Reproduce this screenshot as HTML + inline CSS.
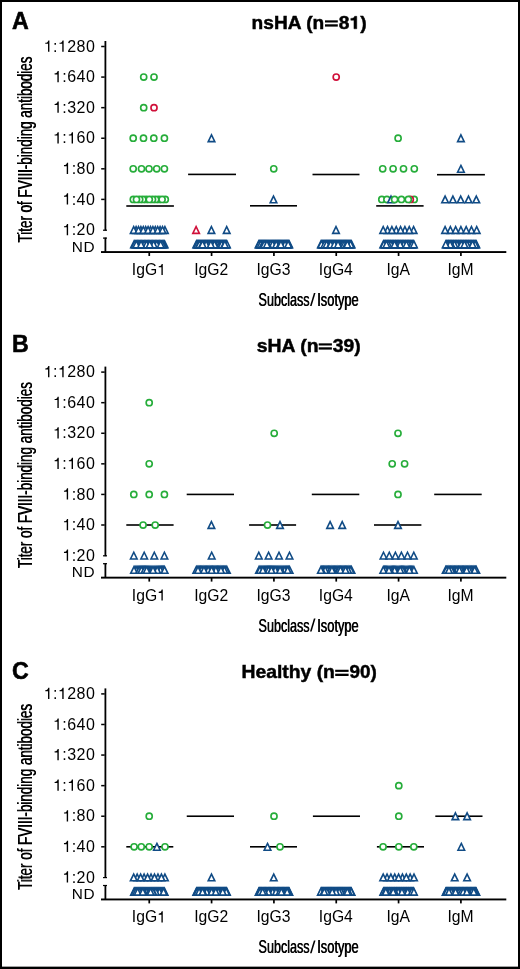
<!DOCTYPE html>
<html><head><meta charset="utf-8"><style>
html,body{margin:0;padding:0;background:#fff;}
body{width:520px;height:969px;overflow:hidden;}
svg{display:block;will-change:transform;}
text{fill:#000;}
</style></head><body>
<svg width="520" height="969" viewBox="0 0 520 969">
<rect x="0" y="0" width="520" height="969" fill="#fff"/>
<text x="11.9" y="29.1" font-family="Liberation Sans" font-weight="bold" font-size="23.2" stroke="#000" stroke-width="0.55">A</text>
<g transform="translate(251.62,28.80) scale(1.0874,1)"><text x="0.00" y="0" font-family="Liberation Sans" font-size="17.6" font-weight="bold" stroke="#000" stroke-width="0.45">nsHA (n</text></g>
<g transform="translate(338.82,28.80) scale(1.0911,1)"><text x="0.00" y="0" font-family="Liberation Sans" font-size="17.6" font-weight="bold" stroke="#000" stroke-width="0.45">8</text><path transform="translate(9.79,0) scale(0.0176,-0.0176)" d="M378 0L378 710L270 710C256 641 200 597 78 592L69 592L69 488L232 488L232 0Z" stroke="#000" stroke-width="25.6"/><text x="19.58" y="0" font-family="Liberation Sans" font-size="17.6" font-weight="bold" stroke="#000" stroke-width="0.45">)</text></g>
<rect x="325.00" y="20.35" width="12.80" height="2.15" fill="#000"/>
<rect x="325.00" y="24.30" width="12.80" height="2.3" fill="#000"/>
<text transform="translate(31.9,242.70) rotate(-90)" font-family="Liberation Sans" font-size="19.6" textLength="185.9" lengthAdjust="spacingAndGlyphs">Titer of FVIII-binding antibodies</text>
<text transform="translate(31.9,242.15) rotate(-90)" font-family="Liberation Sans" font-size="19.6" textLength="185.9" lengthAdjust="spacingAndGlyphs">Titer of FVIII-binding antibodies</text>
<g transform="translate(43.66,51.70) scale(1.0000,1)"><path transform="translate(0.00,0) scale(0.0160,-0.0160)" d="M273 0L273 491L101 491L101 557C230 567 261 594 290 703L359 703L359 0Z"/><text x="9.35" y="0" font-family="Liberation Sans" font-size="16" letter-spacing="0.45">:</text><path transform="translate(14.24,0) scale(0.0160,-0.0160)" d="M273 0L273 491L101 491L101 557C230 567 261 594 290 703L359 703L359 0Z"/><text x="23.59" y="0" font-family="Liberation Sans" font-size="16" letter-spacing="0.45">280</text></g>
<g transform="translate(53.01,82.28) scale(1.0000,1)"><path transform="translate(0.00,0) scale(0.0160,-0.0160)" d="M273 0L273 491L101 491L101 557C230 567 261 594 290 703L359 703L359 0Z"/><text x="9.35" y="0" font-family="Liberation Sans" font-size="16" letter-spacing="0.45">:640</text></g>
<g transform="translate(53.01,112.86) scale(1.0000,1)"><path transform="translate(0.00,0) scale(0.0160,-0.0160)" d="M273 0L273 491L101 491L101 557C230 567 261 594 290 703L359 703L359 0Z"/><text x="9.35" y="0" font-family="Liberation Sans" font-size="16" letter-spacing="0.45">:320</text></g>
<g transform="translate(53.01,143.44) scale(1.0000,1)"><path transform="translate(0.00,0) scale(0.0160,-0.0160)" d="M273 0L273 491L101 491L101 557C230 567 261 594 290 703L359 703L359 0Z"/><text x="9.35" y="0" font-family="Liberation Sans" font-size="16" letter-spacing="0.45">:</text><path transform="translate(14.24,0) scale(0.0160,-0.0160)" d="M273 0L273 491L101 491L101 557C230 567 261 594 290 703L359 703L359 0Z"/><text x="23.59" y="0" font-family="Liberation Sans" font-size="16" letter-spacing="0.45">60</text></g>
<g transform="translate(62.36,174.02) scale(1.0000,1)"><path transform="translate(0.00,0) scale(0.0160,-0.0160)" d="M273 0L273 491L101 491L101 557C230 567 261 594 290 703L359 703L359 0Z"/><text x="9.35" y="0" font-family="Liberation Sans" font-size="16" letter-spacing="0.45">:80</text></g>
<g transform="translate(62.36,204.60) scale(1.0000,1)"><path transform="translate(0.00,0) scale(0.0160,-0.0160)" d="M273 0L273 491L101 491L101 557C230 567 261 594 290 703L359 703L359 0Z"/><text x="9.35" y="0" font-family="Liberation Sans" font-size="16" letter-spacing="0.45">:40</text></g>
<g transform="translate(62.36,235.18) scale(1.0000,1)"><path transform="translate(0.00,0) scale(0.0160,-0.0160)" d="M273 0L273 491L101 491L101 557C230 567 261 594 290 703L359 703L359 0Z"/><text x="9.35" y="0" font-family="Liberation Sans" font-size="16" letter-spacing="0.45">:20</text></g>
<text x="95.2" y="251.80" text-anchor="end" font-family="Liberation Sans" font-size="15.4" letter-spacing="0.6">ND</text>
<rect x="104.5" y="41.00" width="1.8" height="189.60" fill="#000"/>
<rect x="103" y="229.60" width="4" height="1.2" fill="#000"/>
<rect x="104.5" y="237.60" width="1.8" height="14.40" fill="#000"/>
<rect x="103" y="237.50" width="4" height="1.2" fill="#000"/>
<rect x="101.2" y="45.75" width="3.5" height="1.5" fill="#000"/>
<rect x="101.2" y="76.33" width="3.5" height="1.5" fill="#000"/>
<rect x="101.2" y="106.91" width="3.5" height="1.5" fill="#000"/>
<rect x="101.2" y="137.49" width="3.5" height="1.5" fill="#000"/>
<rect x="101.2" y="168.07" width="3.5" height="1.5" fill="#000"/>
<rect x="101.2" y="198.65" width="3.5" height="1.5" fill="#000"/>
<rect x="101" y="251.10" width="405.30" height="1.9" fill="#000"/>
<rect x="148.40" y="252.00" width="1.7" height="4" fill="#000"/>
<rect x="210.73" y="252.00" width="1.7" height="4" fill="#000"/>
<rect x="273.06" y="252.00" width="1.7" height="4" fill="#000"/>
<rect x="335.39" y="252.00" width="1.7" height="4" fill="#000"/>
<rect x="397.72" y="252.00" width="1.7" height="4" fill="#000"/>
<rect x="460.05" y="252.00" width="1.7" height="4" fill="#000"/>
<g transform="translate(131.83,275.00) scale(1.0000,1)"><text x="0.00" y="0" font-family="Liberation Sans" font-size="15.7">IgG</text><path transform="translate(25.31,0) scale(0.0157,-0.0157)" d="M273 0L273 491L101 491L101 557C230 567 261 594 290 703L359 703L359 0Z"/></g>
<g transform="translate(194.16,275.00) scale(1.0000,1)"><text x="0.00" y="0" font-family="Liberation Sans" font-size="15.7">IgG2</text></g>
<g transform="translate(256.49,275.00) scale(1.0000,1)"><text x="0.00" y="0" font-family="Liberation Sans" font-size="15.7">IgG3</text></g>
<g transform="translate(318.82,275.00) scale(1.0000,1)"><text x="0.00" y="0" font-family="Liberation Sans" font-size="15.7">IgG4</text></g>
<g transform="translate(386.39,275.00) scale(1.0000,1)"><text x="0.00" y="0" font-family="Liberation Sans" font-size="15.7">IgA</text></g>
<g transform="translate(447.41,275.00) scale(1.0000,1)"><text x="0.00" y="0" font-family="Liberation Sans" font-size="15.7">IgM</text></g>
<text x="258.30" y="305.90" font-family="Liberation Sans" font-size="18.6" textLength="51.0" lengthAdjust="spacingAndGlyphs">Subclass</text>
<text x="317.00" y="305.90" font-family="Liberation Sans" font-size="18.6" textLength="41.4" lengthAdjust="spacingAndGlyphs">Isotype</text>
<text x="258.85" y="305.90" font-family="Liberation Sans" font-size="18.6" textLength="51.0" lengthAdjust="spacingAndGlyphs">Subclass</text>
<text x="317.55" y="305.90" font-family="Liberation Sans" font-size="18.6" textLength="41.4" lengthAdjust="spacingAndGlyphs">Isotype</text>
<path d="M310.0 305.90L311.6 305.90L315.5 293.00L313.9 293.00Z" fill="#000"/>
<circle cx="143.70" cy="77.08" r="3.05" fill="#fff" stroke="#26ad3a" stroke-width="1.65"/>
<circle cx="154.00" cy="77.08" r="3.05" fill="#fff" stroke="#26ad3a" stroke-width="1.65"/>
<circle cx="143.70" cy="107.66" r="3.05" fill="#fff" stroke="#26ad3a" stroke-width="1.65"/>
<circle cx="154.00" cy="107.66" r="3.05" fill="#fff" stroke="#d0103a" stroke-width="1.65"/>
<circle cx="133.20" cy="138.24" r="3.05" fill="#fff" stroke="#26ad3a" stroke-width="1.65"/>
<circle cx="143.50" cy="138.24" r="3.05" fill="#fff" stroke="#26ad3a" stroke-width="1.65"/>
<circle cx="153.80" cy="138.24" r="3.05" fill="#fff" stroke="#26ad3a" stroke-width="1.65"/>
<circle cx="164.40" cy="138.24" r="3.05" fill="#fff" stroke="#26ad3a" stroke-width="1.65"/>
<circle cx="133.20" cy="168.82" r="3.05" fill="#fff" stroke="#26ad3a" stroke-width="1.65"/>
<circle cx="141.50" cy="168.82" r="3.05" fill="#fff" stroke="#26ad3a" stroke-width="1.65"/>
<circle cx="149.00" cy="168.82" r="3.05" fill="#fff" stroke="#26ad3a" stroke-width="1.65"/>
<circle cx="156.70" cy="168.82" r="3.05" fill="#fff" stroke="#26ad3a" stroke-width="1.65"/>
<circle cx="164.40" cy="168.82" r="3.05" fill="#fff" stroke="#26ad3a" stroke-width="1.65"/>
<circle cx="165.30" cy="199.40" r="3.05" fill="#fff" stroke="#26ad3a" stroke-width="1.65"/>
<circle cx="158.90" cy="199.40" r="3.05" fill="#fff" stroke="#26ad3a" stroke-width="1.65"/>
<circle cx="155.70" cy="199.40" r="3.05" fill="#fff" stroke="#26ad3a" stroke-width="1.65"/>
<circle cx="152.50" cy="199.40" r="3.05" fill="#fff" stroke="#26ad3a" stroke-width="1.65"/>
<circle cx="146.10" cy="199.40" r="3.05" fill="#fff" stroke="#26ad3a" stroke-width="1.65"/>
<circle cx="142.90" cy="199.40" r="3.05" fill="#fff" stroke="#26ad3a" stroke-width="1.65"/>
<circle cx="133.30" cy="199.40" r="3.05" fill="#fff" stroke="#26ad3a" stroke-width="1.65"/>
<circle cx="139.70" cy="199.40" r="3.05" fill="#fff" stroke="#26ad3a" stroke-width="1.65"/>
<circle cx="136.50" cy="199.40" r="3.05" fill="#fff" stroke="#26ad3a" stroke-width="1.65"/>
<circle cx="149.30" cy="199.40" r="3.05" fill="#fff" stroke="#26ad3a" stroke-width="1.65"/>
<circle cx="162.10" cy="199.40" r="3.05" fill="#fff" stroke="#26ad3a" stroke-width="1.65"/>
<rect x="126.30" y="205.20" width="47.60" height="1.6" fill="#000"/>
<path d="M136.10 226.63L139.40 233.38L132.80 233.38Z" fill="#fff" stroke="#104b85" stroke-width="1.6" stroke-linejoin="miter"/>
<path d="M140.90 226.63L144.20 233.38L137.60 233.38Z" fill="#fff" stroke="#104b85" stroke-width="1.6" stroke-linejoin="miter"/>
<path d="M145.70 226.63L149.00 233.38L142.40 233.38Z" fill="#fff" stroke="#104b85" stroke-width="1.6" stroke-linejoin="miter"/>
<path d="M150.50 226.63L153.80 233.38L147.20 233.38Z" fill="#fff" stroke="#104b85" stroke-width="1.6" stroke-linejoin="miter"/>
<path d="M155.30 226.63L158.60 233.38L152.00 233.38Z" fill="#fff" stroke="#104b85" stroke-width="1.6" stroke-linejoin="miter"/>
<path d="M160.10 226.63L163.40 233.38L156.80 233.38Z" fill="#fff" stroke="#104b85" stroke-width="1.6" stroke-linejoin="miter"/>
<path d="M164.90 226.63L168.20 233.38L161.60 233.38Z" fill="#fff" stroke="#104b85" stroke-width="1.6" stroke-linejoin="miter"/>
<path d="M133.70 226.63L137.00 233.38L130.40 233.38Z" fill="#fff" stroke="#104b85" stroke-width="1.6" stroke-linejoin="miter"/>
<path d="M138.50 226.63L141.80 233.38L135.20 233.38Z" fill="#fff" stroke="#104b85" stroke-width="1.6" stroke-linejoin="miter"/>
<path d="M143.30 226.63L146.60 233.38L140.00 233.38Z" fill="#fff" stroke="#104b85" stroke-width="1.6" stroke-linejoin="miter"/>
<path d="M148.10 226.63L151.40 233.38L144.80 233.38Z" fill="#fff" stroke="#104b85" stroke-width="1.6" stroke-linejoin="miter"/>
<path d="M152.90 226.63L156.20 233.38L149.60 233.38Z" fill="#fff" stroke="#104b85" stroke-width="1.6" stroke-linejoin="miter"/>
<path d="M157.70 226.63L161.00 233.38L154.40 233.38Z" fill="#fff" stroke="#104b85" stroke-width="1.6" stroke-linejoin="miter"/>
<path d="M162.50 226.63L165.80 233.38L159.20 233.38Z" fill="#fff" stroke="#104b85" stroke-width="1.6" stroke-linejoin="miter"/>
<path d="M137.92 240.95L141.22 247.70L134.62 247.70Z" fill="#fff" stroke="#104b85" stroke-width="1.6" stroke-linejoin="miter"/>
<path d="M161.46 240.95L164.76 247.70L158.16 247.70Z" fill="#fff" stroke="#104b85" stroke-width="1.6" stroke-linejoin="miter"/>
<path d="M143.42 240.95L146.72 247.70L140.12 247.70Z" fill="#fff" stroke="#104b85" stroke-width="1.6" stroke-linejoin="miter"/>
<path d="M148.91 240.95L152.21 247.70L145.61 247.70Z" fill="#fff" stroke="#104b85" stroke-width="1.6" stroke-linejoin="miter"/>
<path d="M145.77 240.95L149.07 247.70L142.47 247.70Z" fill="#fff" stroke="#104b85" stroke-width="1.6" stroke-linejoin="miter"/>
<path d="M141.85 240.95L145.15 247.70L138.55 247.70Z" fill="#fff" stroke="#104b85" stroke-width="1.6" stroke-linejoin="miter"/>
<path d="M157.54 240.95L160.84 247.70L154.24 247.70Z" fill="#fff" stroke="#104b85" stroke-width="1.6" stroke-linejoin="miter"/>
<path d="M150.48 240.95L153.78 247.70L147.18 247.70Z" fill="#fff" stroke="#104b85" stroke-width="1.6" stroke-linejoin="miter"/>
<path d="M140.28 240.95L143.58 247.70L136.98 247.70Z" fill="#fff" stroke="#104b85" stroke-width="1.6" stroke-linejoin="miter"/>
<path d="M142.63 240.95L145.93 247.70L139.33 247.70Z" fill="#fff" stroke="#104b85" stroke-width="1.6" stroke-linejoin="miter"/>
<path d="M164.60 240.95L167.90 247.70L161.30 247.70Z" fill="#fff" stroke="#104b85" stroke-width="1.6" stroke-linejoin="miter"/>
<path d="M134.00 240.95L137.30 247.70L130.70 247.70Z" fill="#fff" stroke="#104b85" stroke-width="1.6" stroke-linejoin="miter"/>
<path d="M155.97 240.95L159.27 247.70L152.67 247.70Z" fill="#fff" stroke="#104b85" stroke-width="1.6" stroke-linejoin="miter"/>
<path d="M144.98 240.95L148.28 247.70L141.68 247.70Z" fill="#fff" stroke="#104b85" stroke-width="1.6" stroke-linejoin="miter"/>
<path d="M163.82 240.95L167.12 247.70L160.52 247.70Z" fill="#fff" stroke="#104b85" stroke-width="1.6" stroke-linejoin="miter"/>
<path d="M148.12 240.95L151.42 247.70L144.82 247.70Z" fill="#fff" stroke="#104b85" stroke-width="1.6" stroke-linejoin="miter"/>
<path d="M151.26 240.95L154.56 247.70L147.96 247.70Z" fill="#fff" stroke="#104b85" stroke-width="1.6" stroke-linejoin="miter"/>
<path d="M158.32 240.95L161.62 247.70L155.02 247.70Z" fill="#fff" stroke="#104b85" stroke-width="1.6" stroke-linejoin="miter"/>
<path d="M155.18 240.95L158.48 247.70L151.88 247.70Z" fill="#fff" stroke="#104b85" stroke-width="1.6" stroke-linejoin="miter"/>
<path d="M152.83 240.95L156.13 247.70L149.53 247.70Z" fill="#fff" stroke="#104b85" stroke-width="1.6" stroke-linejoin="miter"/>
<path d="M147.34 240.95L150.64 247.70L144.04 247.70Z" fill="#fff" stroke="#104b85" stroke-width="1.6" stroke-linejoin="miter"/>
<path d="M159.11 240.95L162.41 247.70L155.81 247.70Z" fill="#fff" stroke="#104b85" stroke-width="1.6" stroke-linejoin="miter"/>
<path d="M139.49 240.95L142.79 247.70L136.19 247.70Z" fill="#fff" stroke="#104b85" stroke-width="1.6" stroke-linejoin="miter"/>
<path d="M154.40 240.95L157.70 247.70L151.10 247.70Z" fill="#fff" stroke="#104b85" stroke-width="1.6" stroke-linejoin="miter"/>
<path d="M163.03 240.95L166.33 247.70L159.73 247.70Z" fill="#fff" stroke="#104b85" stroke-width="1.6" stroke-linejoin="miter"/>
<path d="M144.20 240.95L147.50 247.70L140.90 247.70Z" fill="#fff" stroke="#104b85" stroke-width="1.6" stroke-linejoin="miter"/>
<path d="M135.57 240.95L138.87 247.70L132.27 247.70Z" fill="#fff" stroke="#104b85" stroke-width="1.6" stroke-linejoin="miter"/>
<path d="M134.78 240.95L138.08 247.70L131.48 247.70Z" fill="#fff" stroke="#104b85" stroke-width="1.6" stroke-linejoin="miter"/>
<path d="M159.89 240.95L163.19 247.70L156.59 247.70Z" fill="#fff" stroke="#104b85" stroke-width="1.6" stroke-linejoin="miter"/>
<path d="M146.55 240.95L149.85 247.70L143.25 247.70Z" fill="#fff" stroke="#104b85" stroke-width="1.6" stroke-linejoin="miter"/>
<path d="M156.75 240.95L160.05 247.70L153.45 247.70Z" fill="#fff" stroke="#104b85" stroke-width="1.6" stroke-linejoin="miter"/>
<path d="M162.25 240.95L165.55 247.70L158.95 247.70Z" fill="#fff" stroke="#104b85" stroke-width="1.6" stroke-linejoin="miter"/>
<path d="M152.05 240.95L155.35 247.70L148.75 247.70Z" fill="#fff" stroke="#104b85" stroke-width="1.6" stroke-linejoin="miter"/>
<path d="M138.71 240.95L142.01 247.70L135.41 247.70Z" fill="#fff" stroke="#104b85" stroke-width="1.6" stroke-linejoin="miter"/>
<path d="M160.68 240.95L163.98 247.70L157.38 247.70Z" fill="#fff" stroke="#104b85" stroke-width="1.6" stroke-linejoin="miter"/>
<path d="M137.14 240.95L140.44 247.70L133.84 247.70Z" fill="#fff" stroke="#104b85" stroke-width="1.6" stroke-linejoin="miter"/>
<path d="M136.35 240.95L139.65 247.70L133.05 247.70Z" fill="#fff" stroke="#104b85" stroke-width="1.6" stroke-linejoin="miter"/>
<path d="M153.62 240.95L156.92 247.70L150.32 247.70Z" fill="#fff" stroke="#104b85" stroke-width="1.6" stroke-linejoin="miter"/>
<path d="M141.06 240.95L144.36 247.70L137.76 247.70Z" fill="#fff" stroke="#104b85" stroke-width="1.6" stroke-linejoin="miter"/>
<path d="M149.69 240.95L152.99 247.70L146.39 247.70Z" fill="#fff" stroke="#104b85" stroke-width="1.6" stroke-linejoin="miter"/>
<path d="M211.50 134.89L214.80 141.64L208.20 141.64Z" fill="#fff" stroke="#104b85" stroke-width="1.6" stroke-linejoin="miter"/>
<rect x="188.10" y="173.60" width="47.90" height="1.6" fill="#000"/>
<path d="M196.10 226.63L199.40 233.38L192.80 233.38Z" fill="#fff" stroke="#d0103a" stroke-width="1.6" stroke-linejoin="miter"/>
<path d="M211.40 226.63L214.70 233.38L208.10 233.38Z" fill="#fff" stroke="#104b85" stroke-width="1.6" stroke-linejoin="miter"/>
<path d="M226.70 226.63L230.00 233.38L223.40 233.38Z" fill="#fff" stroke="#104b85" stroke-width="1.6" stroke-linejoin="miter"/>
<path d="M207.19 240.95L210.49 247.70L203.89 247.70Z" fill="#fff" stroke="#104b85" stroke-width="1.6" stroke-linejoin="miter"/>
<path d="M212.38 240.95L215.68 247.70L209.08 247.70Z" fill="#fff" stroke="#104b85" stroke-width="1.6" stroke-linejoin="miter"/>
<path d="M206.67 240.95L209.97 247.70L203.37 247.70Z" fill="#fff" stroke="#104b85" stroke-width="1.6" stroke-linejoin="miter"/>
<path d="M219.12 240.95L222.42 247.70L215.82 247.70Z" fill="#fff" stroke="#104b85" stroke-width="1.6" stroke-linejoin="miter"/>
<path d="M200.45 240.95L203.75 247.70L197.15 247.70Z" fill="#fff" stroke="#104b85" stroke-width="1.6" stroke-linejoin="miter"/>
<path d="M222.75 240.95L226.05 247.70L219.45 247.70Z" fill="#fff" stroke="#104b85" stroke-width="1.6" stroke-linejoin="miter"/>
<path d="M219.64 240.95L222.94 247.70L216.34 247.70Z" fill="#fff" stroke="#104b85" stroke-width="1.6" stroke-linejoin="miter"/>
<path d="M222.23 240.95L225.53 247.70L218.93 247.70Z" fill="#fff" stroke="#104b85" stroke-width="1.6" stroke-linejoin="miter"/>
<path d="M209.78 240.95L213.08 247.70L206.48 247.70Z" fill="#fff" stroke="#104b85" stroke-width="1.6" stroke-linejoin="miter"/>
<path d="M221.19 240.95L224.49 247.70L217.89 247.70Z" fill="#fff" stroke="#104b85" stroke-width="1.6" stroke-linejoin="miter"/>
<path d="M203.04 240.95L206.34 247.70L199.74 247.70Z" fill="#fff" stroke="#104b85" stroke-width="1.6" stroke-linejoin="miter"/>
<path d="M205.12 240.95L208.42 247.70L201.82 247.70Z" fill="#fff" stroke="#104b85" stroke-width="1.6" stroke-linejoin="miter"/>
<path d="M220.68 240.95L223.98 247.70L217.38 247.70Z" fill="#fff" stroke="#104b85" stroke-width="1.6" stroke-linejoin="miter"/>
<path d="M207.71 240.95L211.01 247.70L204.41 247.70Z" fill="#fff" stroke="#104b85" stroke-width="1.6" stroke-linejoin="miter"/>
<path d="M214.97 240.95L218.27 247.70L211.67 247.70Z" fill="#fff" stroke="#104b85" stroke-width="1.6" stroke-linejoin="miter"/>
<path d="M204.08 240.95L207.38 247.70L200.78 247.70Z" fill="#fff" stroke="#104b85" stroke-width="1.6" stroke-linejoin="miter"/>
<path d="M220.16 240.95L223.46 247.70L216.86 247.70Z" fill="#fff" stroke="#104b85" stroke-width="1.6" stroke-linejoin="miter"/>
<path d="M210.30 240.95L213.60 247.70L207.00 247.70Z" fill="#fff" stroke="#104b85" stroke-width="1.6" stroke-linejoin="miter"/>
<path d="M204.60 240.95L207.90 247.70L201.30 247.70Z" fill="#fff" stroke="#104b85" stroke-width="1.6" stroke-linejoin="miter"/>
<path d="M225.34 240.95L228.64 247.70L222.04 247.70Z" fill="#fff" stroke="#104b85" stroke-width="1.6" stroke-linejoin="miter"/>
<path d="M205.64 240.95L208.94 247.70L202.34 247.70Z" fill="#fff" stroke="#104b85" stroke-width="1.6" stroke-linejoin="miter"/>
<path d="M208.23 240.95L211.53 247.70L204.93 247.70Z" fill="#fff" stroke="#104b85" stroke-width="1.6" stroke-linejoin="miter"/>
<path d="M216.01 240.95L219.31 247.70L212.71 247.70Z" fill="#fff" stroke="#104b85" stroke-width="1.6" stroke-linejoin="miter"/>
<path d="M203.56 240.95L206.86 247.70L200.26 247.70Z" fill="#fff" stroke="#104b85" stroke-width="1.6" stroke-linejoin="miter"/>
<path d="M208.75 240.95L212.05 247.70L205.45 247.70Z" fill="#fff" stroke="#104b85" stroke-width="1.6" stroke-linejoin="miter"/>
<path d="M213.42 240.95L216.72 247.70L210.12 247.70Z" fill="#fff" stroke="#104b85" stroke-width="1.6" stroke-linejoin="miter"/>
<path d="M217.56 240.95L220.86 247.70L214.26 247.70Z" fill="#fff" stroke="#104b85" stroke-width="1.6" stroke-linejoin="miter"/>
<path d="M199.93 240.95L203.23 247.70L196.63 247.70Z" fill="#fff" stroke="#104b85" stroke-width="1.6" stroke-linejoin="miter"/>
<path d="M225.86 240.95L229.16 247.70L222.56 247.70Z" fill="#fff" stroke="#104b85" stroke-width="1.6" stroke-linejoin="miter"/>
<path d="M218.60 240.95L221.90 247.70L215.30 247.70Z" fill="#fff" stroke="#104b85" stroke-width="1.6" stroke-linejoin="miter"/>
<path d="M196.82 240.95L200.12 247.70L193.52 247.70Z" fill="#fff" stroke="#104b85" stroke-width="1.6" stroke-linejoin="miter"/>
<path d="M197.86 240.95L201.16 247.70L194.56 247.70Z" fill="#fff" stroke="#104b85" stroke-width="1.6" stroke-linejoin="miter"/>
<path d="M198.37 240.95L201.67 247.70L195.07 247.70Z" fill="#fff" stroke="#104b85" stroke-width="1.6" stroke-linejoin="miter"/>
<path d="M196.30 240.95L199.60 247.70L193.00 247.70Z" fill="#fff" stroke="#104b85" stroke-width="1.6" stroke-linejoin="miter"/>
<path d="M201.49 240.95L204.79 247.70L198.19 247.70Z" fill="#fff" stroke="#104b85" stroke-width="1.6" stroke-linejoin="miter"/>
<path d="M218.08 240.95L221.38 247.70L214.78 247.70Z" fill="#fff" stroke="#104b85" stroke-width="1.6" stroke-linejoin="miter"/>
<path d="M209.27 240.95L212.57 247.70L205.97 247.70Z" fill="#fff" stroke="#104b85" stroke-width="1.6" stroke-linejoin="miter"/>
<path d="M197.34 240.95L200.64 247.70L194.04 247.70Z" fill="#fff" stroke="#104b85" stroke-width="1.6" stroke-linejoin="miter"/>
<path d="M213.93 240.95L217.23 247.70L210.63 247.70Z" fill="#fff" stroke="#104b85" stroke-width="1.6" stroke-linejoin="miter"/>
<path d="M198.89 240.95L202.19 247.70L195.59 247.70Z" fill="#fff" stroke="#104b85" stroke-width="1.6" stroke-linejoin="miter"/>
<path d="M200.97 240.95L204.27 247.70L197.67 247.70Z" fill="#fff" stroke="#104b85" stroke-width="1.6" stroke-linejoin="miter"/>
<path d="M206.15 240.95L209.45 247.70L202.85 247.70Z" fill="#fff" stroke="#104b85" stroke-width="1.6" stroke-linejoin="miter"/>
<path d="M223.79 240.95L227.09 247.70L220.49 247.70Z" fill="#fff" stroke="#104b85" stroke-width="1.6" stroke-linejoin="miter"/>
<path d="M199.41 240.95L202.71 247.70L196.11 247.70Z" fill="#fff" stroke="#104b85" stroke-width="1.6" stroke-linejoin="miter"/>
<path d="M226.38 240.95L229.68 247.70L223.08 247.70Z" fill="#fff" stroke="#104b85" stroke-width="1.6" stroke-linejoin="miter"/>
<path d="M216.53 240.95L219.83 247.70L213.23 247.70Z" fill="#fff" stroke="#104b85" stroke-width="1.6" stroke-linejoin="miter"/>
<path d="M217.05 240.95L220.35 247.70L213.75 247.70Z" fill="#fff" stroke="#104b85" stroke-width="1.6" stroke-linejoin="miter"/>
<path d="M211.86 240.95L215.16 247.70L208.56 247.70Z" fill="#fff" stroke="#104b85" stroke-width="1.6" stroke-linejoin="miter"/>
<path d="M223.27 240.95L226.57 247.70L219.97 247.70Z" fill="#fff" stroke="#104b85" stroke-width="1.6" stroke-linejoin="miter"/>
<path d="M202.01 240.95L205.31 247.70L198.71 247.70Z" fill="#fff" stroke="#104b85" stroke-width="1.6" stroke-linejoin="miter"/>
<path d="M202.52 240.95L205.82 247.70L199.22 247.70Z" fill="#fff" stroke="#104b85" stroke-width="1.6" stroke-linejoin="miter"/>
<path d="M215.49 240.95L218.79 247.70L212.19 247.70Z" fill="#fff" stroke="#104b85" stroke-width="1.6" stroke-linejoin="miter"/>
<path d="M212.90 240.95L216.20 247.70L209.60 247.70Z" fill="#fff" stroke="#104b85" stroke-width="1.6" stroke-linejoin="miter"/>
<path d="M226.90 240.95L230.20 247.70L223.60 247.70Z" fill="#fff" stroke="#104b85" stroke-width="1.6" stroke-linejoin="miter"/>
<path d="M211.34 240.95L214.64 247.70L208.04 247.70Z" fill="#fff" stroke="#104b85" stroke-width="1.6" stroke-linejoin="miter"/>
<path d="M221.71 240.95L225.01 247.70L218.41 247.70Z" fill="#fff" stroke="#104b85" stroke-width="1.6" stroke-linejoin="miter"/>
<path d="M224.31 240.95L227.61 247.70L221.01 247.70Z" fill="#fff" stroke="#104b85" stroke-width="1.6" stroke-linejoin="miter"/>
<path d="M214.45 240.95L217.75 247.70L211.15 247.70Z" fill="#fff" stroke="#104b85" stroke-width="1.6" stroke-linejoin="miter"/>
<path d="M224.83 240.95L228.13 247.70L221.53 247.70Z" fill="#fff" stroke="#104b85" stroke-width="1.6" stroke-linejoin="miter"/>
<path d="M210.82 240.95L214.12 247.70L207.52 247.70Z" fill="#fff" stroke="#104b85" stroke-width="1.6" stroke-linejoin="miter"/>
<circle cx="273.75" cy="168.82" r="3.05" fill="#fff" stroke="#26ad3a" stroke-width="1.65"/>
<path d="M273.50 196.05L276.80 202.80L270.20 202.80Z" fill="#fff" stroke="#104b85" stroke-width="1.6" stroke-linejoin="miter"/>
<rect x="250.00" y="205.00" width="47.00" height="1.6" fill="#000"/>
<path d="M283.49 240.95L286.79 247.70L280.19 247.70Z" fill="#fff" stroke="#104b85" stroke-width="1.6" stroke-linejoin="miter"/>
<path d="M277.27 240.95L280.57 247.70L273.97 247.70Z" fill="#fff" stroke="#104b85" stroke-width="1.6" stroke-linejoin="miter"/>
<path d="M274.16 240.95L277.46 247.70L270.86 247.70Z" fill="#fff" stroke="#104b85" stroke-width="1.6" stroke-linejoin="miter"/>
<path d="M278.83 240.95L282.13 247.70L275.53 247.70Z" fill="#fff" stroke="#104b85" stroke-width="1.6" stroke-linejoin="miter"/>
<path d="M261.71 240.95L265.01 247.70L258.41 247.70Z" fill="#fff" stroke="#104b85" stroke-width="1.6" stroke-linejoin="miter"/>
<path d="M275.72 240.95L279.02 247.70L272.42 247.70Z" fill="#fff" stroke="#104b85" stroke-width="1.6" stroke-linejoin="miter"/>
<path d="M275.20 240.95L278.50 247.70L271.90 247.70Z" fill="#fff" stroke="#104b85" stroke-width="1.6" stroke-linejoin="miter"/>
<path d="M259.64 240.95L262.94 247.70L256.34 247.70Z" fill="#fff" stroke="#104b85" stroke-width="1.6" stroke-linejoin="miter"/>
<path d="M272.08 240.95L275.38 247.70L268.78 247.70Z" fill="#fff" stroke="#104b85" stroke-width="1.6" stroke-linejoin="miter"/>
<path d="M271.05 240.95L274.35 247.70L267.75 247.70Z" fill="#fff" stroke="#104b85" stroke-width="1.6" stroke-linejoin="miter"/>
<path d="M274.68 240.95L277.98 247.70L271.38 247.70Z" fill="#fff" stroke="#104b85" stroke-width="1.6" stroke-linejoin="miter"/>
<path d="M270.01 240.95L273.31 247.70L266.71 247.70Z" fill="#fff" stroke="#104b85" stroke-width="1.6" stroke-linejoin="miter"/>
<path d="M264.82 240.95L268.12 247.70L261.52 247.70Z" fill="#fff" stroke="#104b85" stroke-width="1.6" stroke-linejoin="miter"/>
<path d="M284.53 240.95L287.83 247.70L281.23 247.70Z" fill="#fff" stroke="#104b85" stroke-width="1.6" stroke-linejoin="miter"/>
<path d="M269.49 240.95L272.79 247.70L266.19 247.70Z" fill="#fff" stroke="#104b85" stroke-width="1.6" stroke-linejoin="miter"/>
<path d="M268.45 240.95L271.75 247.70L265.15 247.70Z" fill="#fff" stroke="#104b85" stroke-width="1.6" stroke-linejoin="miter"/>
<path d="M260.16 240.95L263.46 247.70L256.86 247.70Z" fill="#fff" stroke="#104b85" stroke-width="1.6" stroke-linejoin="miter"/>
<path d="M263.79 240.95L267.09 247.70L260.49 247.70Z" fill="#fff" stroke="#104b85" stroke-width="1.6" stroke-linejoin="miter"/>
<path d="M268.97 240.95L272.27 247.70L265.67 247.70Z" fill="#fff" stroke="#104b85" stroke-width="1.6" stroke-linejoin="miter"/>
<path d="M278.31 240.95L281.61 247.70L275.01 247.70Z" fill="#fff" stroke="#104b85" stroke-width="1.6" stroke-linejoin="miter"/>
<path d="M273.64 240.95L276.94 247.70L270.34 247.70Z" fill="#fff" stroke="#104b85" stroke-width="1.6" stroke-linejoin="miter"/>
<path d="M279.35 240.95L282.65 247.70L276.05 247.70Z" fill="#fff" stroke="#104b85" stroke-width="1.6" stroke-linejoin="miter"/>
<path d="M276.75 240.95L280.05 247.70L273.45 247.70Z" fill="#fff" stroke="#104b85" stroke-width="1.6" stroke-linejoin="miter"/>
<path d="M266.38 240.95L269.68 247.70L263.08 247.70Z" fill="#fff" stroke="#104b85" stroke-width="1.6" stroke-linejoin="miter"/>
<path d="M262.23 240.95L265.53 247.70L258.93 247.70Z" fill="#fff" stroke="#104b85" stroke-width="1.6" stroke-linejoin="miter"/>
<path d="M281.94 240.95L285.24 247.70L278.64 247.70Z" fill="#fff" stroke="#104b85" stroke-width="1.6" stroke-linejoin="miter"/>
<path d="M277.79 240.95L281.09 247.70L274.49 247.70Z" fill="#fff" stroke="#104b85" stroke-width="1.6" stroke-linejoin="miter"/>
<path d="M271.57 240.95L274.87 247.70L268.27 247.70Z" fill="#fff" stroke="#104b85" stroke-width="1.6" stroke-linejoin="miter"/>
<path d="M287.64 240.95L290.94 247.70L284.34 247.70Z" fill="#fff" stroke="#104b85" stroke-width="1.6" stroke-linejoin="miter"/>
<path d="M282.98 240.95L286.28 247.70L279.68 247.70Z" fill="#fff" stroke="#104b85" stroke-width="1.6" stroke-linejoin="miter"/>
<path d="M270.53 240.95L273.83 247.70L267.23 247.70Z" fill="#fff" stroke="#104b85" stroke-width="1.6" stroke-linejoin="miter"/>
<path d="M273.12 240.95L276.42 247.70L269.82 247.70Z" fill="#fff" stroke="#104b85" stroke-width="1.6" stroke-linejoin="miter"/>
<path d="M289.20 240.95L292.50 247.70L285.90 247.70Z" fill="#fff" stroke="#104b85" stroke-width="1.6" stroke-linejoin="miter"/>
<path d="M261.19 240.95L264.49 247.70L257.89 247.70Z" fill="#fff" stroke="#104b85" stroke-width="1.6" stroke-linejoin="miter"/>
<path d="M284.01 240.95L287.31 247.70L280.71 247.70Z" fill="#fff" stroke="#104b85" stroke-width="1.6" stroke-linejoin="miter"/>
<path d="M267.42 240.95L270.72 247.70L264.12 247.70Z" fill="#fff" stroke="#104b85" stroke-width="1.6" stroke-linejoin="miter"/>
<path d="M258.60 240.95L261.90 247.70L255.30 247.70Z" fill="#fff" stroke="#104b85" stroke-width="1.6" stroke-linejoin="miter"/>
<path d="M281.42 240.95L284.72 247.70L278.12 247.70Z" fill="#fff" stroke="#104b85" stroke-width="1.6" stroke-linejoin="miter"/>
<path d="M272.60 240.95L275.90 247.70L269.30 247.70Z" fill="#fff" stroke="#104b85" stroke-width="1.6" stroke-linejoin="miter"/>
<path d="M259.12 240.95L262.42 247.70L255.82 247.70Z" fill="#fff" stroke="#104b85" stroke-width="1.6" stroke-linejoin="miter"/>
<path d="M288.68 240.95L291.98 247.70L285.38 247.70Z" fill="#fff" stroke="#104b85" stroke-width="1.6" stroke-linejoin="miter"/>
<path d="M265.34 240.95L268.64 247.70L262.04 247.70Z" fill="#fff" stroke="#104b85" stroke-width="1.6" stroke-linejoin="miter"/>
<path d="M276.23 240.95L279.53 247.70L272.93 247.70Z" fill="#fff" stroke="#104b85" stroke-width="1.6" stroke-linejoin="miter"/>
<path d="M260.67 240.95L263.97 247.70L257.37 247.70Z" fill="#fff" stroke="#104b85" stroke-width="1.6" stroke-linejoin="miter"/>
<path d="M262.75 240.95L266.05 247.70L259.45 247.70Z" fill="#fff" stroke="#104b85" stroke-width="1.6" stroke-linejoin="miter"/>
<path d="M286.09 240.95L289.39 247.70L282.79 247.70Z" fill="#fff" stroke="#104b85" stroke-width="1.6" stroke-linejoin="miter"/>
<path d="M282.46 240.95L285.76 247.70L279.16 247.70Z" fill="#fff" stroke="#104b85" stroke-width="1.6" stroke-linejoin="miter"/>
<path d="M285.57 240.95L288.87 247.70L282.27 247.70Z" fill="#fff" stroke="#104b85" stroke-width="1.6" stroke-linejoin="miter"/>
<path d="M287.13 240.95L290.43 247.70L283.83 247.70Z" fill="#fff" stroke="#104b85" stroke-width="1.6" stroke-linejoin="miter"/>
<path d="M263.27 240.95L266.57 247.70L259.97 247.70Z" fill="#fff" stroke="#104b85" stroke-width="1.6" stroke-linejoin="miter"/>
<path d="M280.38 240.95L283.68 247.70L277.08 247.70Z" fill="#fff" stroke="#104b85" stroke-width="1.6" stroke-linejoin="miter"/>
<path d="M265.86 240.95L269.16 247.70L262.56 247.70Z" fill="#fff" stroke="#104b85" stroke-width="1.6" stroke-linejoin="miter"/>
<path d="M279.86 240.95L283.16 247.70L276.56 247.70Z" fill="#fff" stroke="#104b85" stroke-width="1.6" stroke-linejoin="miter"/>
<path d="M264.31 240.95L267.61 247.70L261.01 247.70Z" fill="#fff" stroke="#104b85" stroke-width="1.6" stroke-linejoin="miter"/>
<path d="M286.61 240.95L289.91 247.70L283.31 247.70Z" fill="#fff" stroke="#104b85" stroke-width="1.6" stroke-linejoin="miter"/>
<path d="M285.05 240.95L288.35 247.70L281.75 247.70Z" fill="#fff" stroke="#104b85" stroke-width="1.6" stroke-linejoin="miter"/>
<path d="M288.16 240.95L291.46 247.70L284.86 247.70Z" fill="#fff" stroke="#104b85" stroke-width="1.6" stroke-linejoin="miter"/>
<path d="M280.90 240.95L284.20 247.70L277.60 247.70Z" fill="#fff" stroke="#104b85" stroke-width="1.6" stroke-linejoin="miter"/>
<path d="M267.94 240.95L271.24 247.70L264.64 247.70Z" fill="#fff" stroke="#104b85" stroke-width="1.6" stroke-linejoin="miter"/>
<path d="M266.90 240.95L270.20 247.70L263.60 247.70Z" fill="#fff" stroke="#104b85" stroke-width="1.6" stroke-linejoin="miter"/>
<circle cx="336.20" cy="77.08" r="3.05" fill="#fff" stroke="#d0103a" stroke-width="1.65"/>
<rect x="312.50" y="173.70" width="47.00" height="1.6" fill="#000"/>
<path d="M336.00 226.63L339.30 233.38L332.70 233.38Z" fill="#fff" stroke="#104b85" stroke-width="1.6" stroke-linejoin="miter"/>
<path d="M346.83 240.95L350.13 247.70L343.53 247.70Z" fill="#fff" stroke="#104b85" stroke-width="1.6" stroke-linejoin="miter"/>
<path d="M335.94 240.95L339.24 247.70L332.64 247.70Z" fill="#fff" stroke="#104b85" stroke-width="1.6" stroke-linejoin="miter"/>
<path d="M348.39 240.95L351.69 247.70L345.09 247.70Z" fill="#fff" stroke="#104b85" stroke-width="1.6" stroke-linejoin="miter"/>
<path d="M335.42 240.95L338.72 247.70L332.12 247.70Z" fill="#fff" stroke="#104b85" stroke-width="1.6" stroke-linejoin="miter"/>
<path d="M347.87 240.95L351.17 247.70L344.57 247.70Z" fill="#fff" stroke="#104b85" stroke-width="1.6" stroke-linejoin="miter"/>
<path d="M348.91 240.95L352.21 247.70L345.61 247.70Z" fill="#fff" stroke="#104b85" stroke-width="1.6" stroke-linejoin="miter"/>
<path d="M334.90 240.95L338.20 247.70L331.60 247.70Z" fill="#fff" stroke="#104b85" stroke-width="1.6" stroke-linejoin="miter"/>
<path d="M344.76 240.95L348.06 247.70L341.46 247.70Z" fill="#fff" stroke="#104b85" stroke-width="1.6" stroke-linejoin="miter"/>
<path d="M345.79 240.95L349.09 247.70L342.49 247.70Z" fill="#fff" stroke="#104b85" stroke-width="1.6" stroke-linejoin="miter"/>
<path d="M351.50 240.95L354.80 247.70L348.20 247.70Z" fill="#fff" stroke="#104b85" stroke-width="1.6" stroke-linejoin="miter"/>
<path d="M328.16 240.95L331.46 247.70L324.86 247.70Z" fill="#fff" stroke="#104b85" stroke-width="1.6" stroke-linejoin="miter"/>
<path d="M343.20 240.95L346.50 247.70L339.90 247.70Z" fill="#fff" stroke="#104b85" stroke-width="1.6" stroke-linejoin="miter"/>
<path d="M323.49 240.95L326.79 247.70L320.19 247.70Z" fill="#fff" stroke="#104b85" stroke-width="1.6" stroke-linejoin="miter"/>
<path d="M324.01 240.95L327.31 247.70L320.71 247.70Z" fill="#fff" stroke="#104b85" stroke-width="1.6" stroke-linejoin="miter"/>
<path d="M320.90 240.95L324.20 247.70L317.60 247.70Z" fill="#fff" stroke="#104b85" stroke-width="1.6" stroke-linejoin="miter"/>
<path d="M336.46 240.95L339.76 247.70L333.16 247.70Z" fill="#fff" stroke="#104b85" stroke-width="1.6" stroke-linejoin="miter"/>
<path d="M331.79 240.95L335.09 247.70L328.49 247.70Z" fill="#fff" stroke="#104b85" stroke-width="1.6" stroke-linejoin="miter"/>
<path d="M349.43 240.95L352.73 247.70L346.13 247.70Z" fill="#fff" stroke="#104b85" stroke-width="1.6" stroke-linejoin="miter"/>
<path d="M322.97 240.95L326.27 247.70L319.67 247.70Z" fill="#fff" stroke="#104b85" stroke-width="1.6" stroke-linejoin="miter"/>
<path d="M349.94 240.95L353.24 247.70L346.64 247.70Z" fill="#fff" stroke="#104b85" stroke-width="1.6" stroke-linejoin="miter"/>
<path d="M343.72 240.95L347.02 247.70L340.42 247.70Z" fill="#fff" stroke="#104b85" stroke-width="1.6" stroke-linejoin="miter"/>
<path d="M342.16 240.95L345.46 247.70L338.86 247.70Z" fill="#fff" stroke="#104b85" stroke-width="1.6" stroke-linejoin="miter"/>
<path d="M340.61 240.95L343.91 247.70L337.31 247.70Z" fill="#fff" stroke="#104b85" stroke-width="1.6" stroke-linejoin="miter"/>
<path d="M336.98 240.95L340.28 247.70L333.68 247.70Z" fill="#fff" stroke="#104b85" stroke-width="1.6" stroke-linejoin="miter"/>
<path d="M341.65 240.95L344.95 247.70L338.35 247.70Z" fill="#fff" stroke="#104b85" stroke-width="1.6" stroke-linejoin="miter"/>
<path d="M321.94 240.95L325.24 247.70L318.64 247.70Z" fill="#fff" stroke="#104b85" stroke-width="1.6" stroke-linejoin="miter"/>
<path d="M341.13 240.95L344.43 247.70L337.83 247.70Z" fill="#fff" stroke="#104b85" stroke-width="1.6" stroke-linejoin="miter"/>
<path d="M332.31 240.95L335.61 247.70L329.01 247.70Z" fill="#fff" stroke="#104b85" stroke-width="1.6" stroke-linejoin="miter"/>
<path d="M339.57 240.95L342.87 247.70L336.27 247.70Z" fill="#fff" stroke="#104b85" stroke-width="1.6" stroke-linejoin="miter"/>
<path d="M345.28 240.95L348.58 247.70L341.98 247.70Z" fill="#fff" stroke="#104b85" stroke-width="1.6" stroke-linejoin="miter"/>
<path d="M326.09 240.95L329.39 247.70L322.79 247.70Z" fill="#fff" stroke="#104b85" stroke-width="1.6" stroke-linejoin="miter"/>
<path d="M327.64 240.95L330.94 247.70L324.34 247.70Z" fill="#fff" stroke="#104b85" stroke-width="1.6" stroke-linejoin="miter"/>
<path d="M325.57 240.95L328.87 247.70L322.27 247.70Z" fill="#fff" stroke="#104b85" stroke-width="1.6" stroke-linejoin="miter"/>
<path d="M327.12 240.95L330.42 247.70L323.82 247.70Z" fill="#fff" stroke="#104b85" stroke-width="1.6" stroke-linejoin="miter"/>
<path d="M340.09 240.95L343.39 247.70L336.79 247.70Z" fill="#fff" stroke="#104b85" stroke-width="1.6" stroke-linejoin="miter"/>
<path d="M322.46 240.95L325.76 247.70L319.16 247.70Z" fill="#fff" stroke="#104b85" stroke-width="1.6" stroke-linejoin="miter"/>
<path d="M339.05 240.95L342.35 247.70L335.75 247.70Z" fill="#fff" stroke="#104b85" stroke-width="1.6" stroke-linejoin="miter"/>
<path d="M325.05 240.95L328.35 247.70L321.75 247.70Z" fill="#fff" stroke="#104b85" stroke-width="1.6" stroke-linejoin="miter"/>
<path d="M333.87 240.95L337.17 247.70L330.57 247.70Z" fill="#fff" stroke="#104b85" stroke-width="1.6" stroke-linejoin="miter"/>
<path d="M331.27 240.95L334.57 247.70L327.97 247.70Z" fill="#fff" stroke="#104b85" stroke-width="1.6" stroke-linejoin="miter"/>
<path d="M337.50 240.95L340.80 247.70L334.20 247.70Z" fill="#fff" stroke="#104b85" stroke-width="1.6" stroke-linejoin="miter"/>
<path d="M329.20 240.95L332.50 247.70L325.90 247.70Z" fill="#fff" stroke="#104b85" stroke-width="1.6" stroke-linejoin="miter"/>
<path d="M350.98 240.95L354.28 247.70L347.68 247.70Z" fill="#fff" stroke="#104b85" stroke-width="1.6" stroke-linejoin="miter"/>
<path d="M333.35 240.95L336.65 247.70L330.05 247.70Z" fill="#fff" stroke="#104b85" stroke-width="1.6" stroke-linejoin="miter"/>
<path d="M328.68 240.95L331.98 247.70L325.38 247.70Z" fill="#fff" stroke="#104b85" stroke-width="1.6" stroke-linejoin="miter"/>
<path d="M321.42 240.95L324.72 247.70L318.12 247.70Z" fill="#fff" stroke="#104b85" stroke-width="1.6" stroke-linejoin="miter"/>
<path d="M324.53 240.95L327.83 247.70L321.23 247.70Z" fill="#fff" stroke="#104b85" stroke-width="1.6" stroke-linejoin="miter"/>
<path d="M329.72 240.95L333.02 247.70L326.42 247.70Z" fill="#fff" stroke="#104b85" stroke-width="1.6" stroke-linejoin="miter"/>
<path d="M342.68 240.95L345.98 247.70L339.38 247.70Z" fill="#fff" stroke="#104b85" stroke-width="1.6" stroke-linejoin="miter"/>
<path d="M338.53 240.95L341.83 247.70L335.23 247.70Z" fill="#fff" stroke="#104b85" stroke-width="1.6" stroke-linejoin="miter"/>
<path d="M350.46 240.95L353.76 247.70L347.16 247.70Z" fill="#fff" stroke="#104b85" stroke-width="1.6" stroke-linejoin="miter"/>
<path d="M344.24 240.95L347.54 247.70L340.94 247.70Z" fill="#fff" stroke="#104b85" stroke-width="1.6" stroke-linejoin="miter"/>
<path d="M346.31 240.95L349.61 247.70L343.01 247.70Z" fill="#fff" stroke="#104b85" stroke-width="1.6" stroke-linejoin="miter"/>
<path d="M326.61 240.95L329.91 247.70L323.31 247.70Z" fill="#fff" stroke="#104b85" stroke-width="1.6" stroke-linejoin="miter"/>
<path d="M330.24 240.95L333.54 247.70L326.94 247.70Z" fill="#fff" stroke="#104b85" stroke-width="1.6" stroke-linejoin="miter"/>
<path d="M332.83 240.95L336.13 247.70L329.53 247.70Z" fill="#fff" stroke="#104b85" stroke-width="1.6" stroke-linejoin="miter"/>
<path d="M330.75 240.95L334.05 247.70L327.45 247.70Z" fill="#fff" stroke="#104b85" stroke-width="1.6" stroke-linejoin="miter"/>
<path d="M347.35 240.95L350.65 247.70L344.05 247.70Z" fill="#fff" stroke="#104b85" stroke-width="1.6" stroke-linejoin="miter"/>
<path d="M334.38 240.95L337.68 247.70L331.08 247.70Z" fill="#fff" stroke="#104b85" stroke-width="1.6" stroke-linejoin="miter"/>
<path d="M338.02 240.95L341.32 247.70L334.72 247.70Z" fill="#fff" stroke="#104b85" stroke-width="1.6" stroke-linejoin="miter"/>
<circle cx="398.10" cy="138.24" r="3.05" fill="#fff" stroke="#26ad3a" stroke-width="1.65"/>
<circle cx="382.70" cy="168.82" r="3.05" fill="#fff" stroke="#26ad3a" stroke-width="1.65"/>
<circle cx="393.10" cy="168.82" r="3.05" fill="#fff" stroke="#26ad3a" stroke-width="1.65"/>
<circle cx="403.50" cy="168.82" r="3.05" fill="#fff" stroke="#26ad3a" stroke-width="1.65"/>
<circle cx="414.30" cy="168.82" r="3.05" fill="#fff" stroke="#26ad3a" stroke-width="1.65"/>
<circle cx="381.80" cy="199.40" r="3.05" fill="#fff" stroke="#26ad3a" stroke-width="1.65"/>
<circle cx="386.90" cy="199.40" r="3.05" fill="#fff" stroke="#26ad3a" stroke-width="1.65"/>
<path d="M391.00 196.05L394.30 202.80L387.70 202.80Z" fill="#fff" stroke="#104b85" stroke-width="1.6" stroke-linejoin="miter"/>
<circle cx="394.60" cy="199.40" r="3.05" fill="#fff" stroke="#26ad3a" stroke-width="1.65"/>
<circle cx="401.40" cy="199.40" r="3.05" fill="#fff" stroke="#26ad3a" stroke-width="1.65"/>
<circle cx="414.20" cy="199.40" r="3.05" fill="#fff" stroke="#26ad3a" stroke-width="1.65"/>
<circle cx="410.30" cy="199.40" r="3.05" fill="#fff" stroke="#d0103a" stroke-width="1.65"/>
<circle cx="408.30" cy="199.40" r="3.05" fill="#fff" stroke="#26ad3a" stroke-width="1.65"/>
<rect x="376.20" y="205.10" width="47.40" height="1.6" fill="#000"/>
<path d="M387.54 226.63L390.84 233.38L384.24 233.38Z" fill="#fff" stroke="#104b85" stroke-width="1.6" stroke-linejoin="miter"/>
<path d="M396.23 226.63L399.53 233.38L392.93 233.38Z" fill="#fff" stroke="#104b85" stroke-width="1.6" stroke-linejoin="miter"/>
<path d="M404.91 226.63L408.21 233.38L401.61 233.38Z" fill="#fff" stroke="#104b85" stroke-width="1.6" stroke-linejoin="miter"/>
<path d="M413.60 226.63L416.90 233.38L410.30 233.38Z" fill="#fff" stroke="#104b85" stroke-width="1.6" stroke-linejoin="miter"/>
<path d="M383.20 226.63L386.50 233.38L379.90 233.38Z" fill="#fff" stroke="#104b85" stroke-width="1.6" stroke-linejoin="miter"/>
<path d="M391.89 226.63L395.19 233.38L388.59 233.38Z" fill="#fff" stroke="#104b85" stroke-width="1.6" stroke-linejoin="miter"/>
<path d="M400.57 226.63L403.87 233.38L397.27 233.38Z" fill="#fff" stroke="#104b85" stroke-width="1.6" stroke-linejoin="miter"/>
<path d="M409.26 226.63L412.56 233.38L405.96 233.38Z" fill="#fff" stroke="#104b85" stroke-width="1.6" stroke-linejoin="miter"/>
<path d="M399.54 240.95L402.84 247.70L396.24 247.70Z" fill="#fff" stroke="#104b85" stroke-width="1.6" stroke-linejoin="miter"/>
<path d="M389.54 240.95L392.84 247.70L386.24 247.70Z" fill="#fff" stroke="#104b85" stroke-width="1.6" stroke-linejoin="miter"/>
<path d="M402.03 240.95L405.33 247.70L398.73 247.70Z" fill="#fff" stroke="#104b85" stroke-width="1.6" stroke-linejoin="miter"/>
<path d="M407.66 240.95L410.96 247.70L404.36 247.70Z" fill="#fff" stroke="#104b85" stroke-width="1.6" stroke-linejoin="miter"/>
<path d="M387.67 240.95L390.97 247.70L384.37 247.70Z" fill="#fff" stroke="#104b85" stroke-width="1.6" stroke-linejoin="miter"/>
<path d="M385.17 240.95L388.47 247.70L381.87 247.70Z" fill="#fff" stroke="#104b85" stroke-width="1.6" stroke-linejoin="miter"/>
<path d="M405.78 240.95L409.08 247.70L402.48 247.70Z" fill="#fff" stroke="#104b85" stroke-width="1.6" stroke-linejoin="miter"/>
<path d="M413.28 240.95L416.58 247.70L409.98 247.70Z" fill="#fff" stroke="#104b85" stroke-width="1.6" stroke-linejoin="miter"/>
<path d="M404.53 240.95L407.83 247.70L401.23 247.70Z" fill="#fff" stroke="#104b85" stroke-width="1.6" stroke-linejoin="miter"/>
<path d="M385.80 240.95L389.10 247.70L382.50 247.70Z" fill="#fff" stroke="#104b85" stroke-width="1.6" stroke-linejoin="miter"/>
<path d="M407.03 240.95L410.33 247.70L403.73 247.70Z" fill="#fff" stroke="#104b85" stroke-width="1.6" stroke-linejoin="miter"/>
<path d="M408.90 240.95L412.20 247.70L405.60 247.70Z" fill="#fff" stroke="#104b85" stroke-width="1.6" stroke-linejoin="miter"/>
<path d="M388.92 240.95L392.22 247.70L385.62 247.70Z" fill="#fff" stroke="#104b85" stroke-width="1.6" stroke-linejoin="miter"/>
<path d="M398.91 240.95L402.21 247.70L395.61 247.70Z" fill="#fff" stroke="#104b85" stroke-width="1.6" stroke-linejoin="miter"/>
<path d="M411.40 240.95L414.70 247.70L408.10 247.70Z" fill="#fff" stroke="#104b85" stroke-width="1.6" stroke-linejoin="miter"/>
<path d="M410.78 240.95L414.08 247.70L407.48 247.70Z" fill="#fff" stroke="#104b85" stroke-width="1.6" stroke-linejoin="miter"/>
<path d="M412.65 240.95L415.95 247.70L409.35 247.70Z" fill="#fff" stroke="#104b85" stroke-width="1.6" stroke-linejoin="miter"/>
<path d="M396.41 240.95L399.71 247.70L393.11 247.70Z" fill="#fff" stroke="#104b85" stroke-width="1.6" stroke-linejoin="miter"/>
<path d="M409.53 240.95L412.83 247.70L406.23 247.70Z" fill="#fff" stroke="#104b85" stroke-width="1.6" stroke-linejoin="miter"/>
<path d="M402.66 240.95L405.96 247.70L399.36 247.70Z" fill="#fff" stroke="#104b85" stroke-width="1.6" stroke-linejoin="miter"/>
<path d="M403.28 240.95L406.58 247.70L399.98 247.70Z" fill="#fff" stroke="#104b85" stroke-width="1.6" stroke-linejoin="miter"/>
<path d="M390.17 240.95L393.47 247.70L386.87 247.70Z" fill="#fff" stroke="#104b85" stroke-width="1.6" stroke-linejoin="miter"/>
<path d="M410.15 240.95L413.45 247.70L406.85 247.70Z" fill="#fff" stroke="#104b85" stroke-width="1.6" stroke-linejoin="miter"/>
<path d="M397.66 240.95L400.96 247.70L394.36 247.70Z" fill="#fff" stroke="#104b85" stroke-width="1.6" stroke-linejoin="miter"/>
<path d="M395.79 240.95L399.09 247.70L392.49 247.70Z" fill="#fff" stroke="#104b85" stroke-width="1.6" stroke-linejoin="miter"/>
<path d="M393.29 240.95L396.59 247.70L389.99 247.70Z" fill="#fff" stroke="#104b85" stroke-width="1.6" stroke-linejoin="miter"/>
<path d="M405.16 240.95L408.46 247.70L401.86 247.70Z" fill="#fff" stroke="#104b85" stroke-width="1.6" stroke-linejoin="miter"/>
<path d="M391.42 240.95L394.72 247.70L388.12 247.70Z" fill="#fff" stroke="#104b85" stroke-width="1.6" stroke-linejoin="miter"/>
<path d="M392.67 240.95L395.97 247.70L389.37 247.70Z" fill="#fff" stroke="#104b85" stroke-width="1.6" stroke-linejoin="miter"/>
<path d="M408.28 240.95L411.58 247.70L404.98 247.70Z" fill="#fff" stroke="#104b85" stroke-width="1.6" stroke-linejoin="miter"/>
<path d="M384.55 240.95L387.85 247.70L381.25 247.70Z" fill="#fff" stroke="#104b85" stroke-width="1.6" stroke-linejoin="miter"/>
<path d="M387.05 240.95L390.35 247.70L383.75 247.70Z" fill="#fff" stroke="#104b85" stroke-width="1.6" stroke-linejoin="miter"/>
<path d="M412.03 240.95L415.33 247.70L408.73 247.70Z" fill="#fff" stroke="#104b85" stroke-width="1.6" stroke-linejoin="miter"/>
<path d="M401.41 240.95L404.71 247.70L398.11 247.70Z" fill="#fff" stroke="#104b85" stroke-width="1.6" stroke-linejoin="miter"/>
<path d="M392.04 240.95L395.34 247.70L388.74 247.70Z" fill="#fff" stroke="#104b85" stroke-width="1.6" stroke-linejoin="miter"/>
<path d="M383.30 240.95L386.60 247.70L380.00 247.70Z" fill="#fff" stroke="#104b85" stroke-width="1.6" stroke-linejoin="miter"/>
<path d="M400.79 240.95L404.09 247.70L397.49 247.70Z" fill="#fff" stroke="#104b85" stroke-width="1.6" stroke-linejoin="miter"/>
<path d="M393.92 240.95L397.22 247.70L390.62 247.70Z" fill="#fff" stroke="#104b85" stroke-width="1.6" stroke-linejoin="miter"/>
<path d="M390.79 240.95L394.09 247.70L387.49 247.70Z" fill="#fff" stroke="#104b85" stroke-width="1.6" stroke-linejoin="miter"/>
<path d="M388.30 240.95L391.60 247.70L385.00 247.70Z" fill="#fff" stroke="#104b85" stroke-width="1.6" stroke-linejoin="miter"/>
<path d="M397.04 240.95L400.34 247.70L393.74 247.70Z" fill="#fff" stroke="#104b85" stroke-width="1.6" stroke-linejoin="miter"/>
<path d="M403.91 240.95L407.21 247.70L400.61 247.70Z" fill="#fff" stroke="#104b85" stroke-width="1.6" stroke-linejoin="miter"/>
<path d="M398.29 240.95L401.59 247.70L394.99 247.70Z" fill="#fff" stroke="#104b85" stroke-width="1.6" stroke-linejoin="miter"/>
<path d="M400.16 240.95L403.46 247.70L396.86 247.70Z" fill="#fff" stroke="#104b85" stroke-width="1.6" stroke-linejoin="miter"/>
<path d="M395.17 240.95L398.47 247.70L391.87 247.70Z" fill="#fff" stroke="#104b85" stroke-width="1.6" stroke-linejoin="miter"/>
<path d="M406.41 240.95L409.71 247.70L403.11 247.70Z" fill="#fff" stroke="#104b85" stroke-width="1.6" stroke-linejoin="miter"/>
<path d="M383.92 240.95L387.22 247.70L380.62 247.70Z" fill="#fff" stroke="#104b85" stroke-width="1.6" stroke-linejoin="miter"/>
<path d="M386.42 240.95L389.72 247.70L383.12 247.70Z" fill="#fff" stroke="#104b85" stroke-width="1.6" stroke-linejoin="miter"/>
<path d="M394.54 240.95L397.84 247.70L391.24 247.70Z" fill="#fff" stroke="#104b85" stroke-width="1.6" stroke-linejoin="miter"/>
<path d="M413.90 240.95L417.20 247.70L410.60 247.70Z" fill="#fff" stroke="#104b85" stroke-width="1.6" stroke-linejoin="miter"/>
<path d="M460.90 134.89L464.20 141.64L457.60 141.64Z" fill="#fff" stroke="#104b85" stroke-width="1.6" stroke-linejoin="miter"/>
<path d="M460.90 165.47L464.20 172.22L457.60 172.22Z" fill="#fff" stroke="#104b85" stroke-width="1.6" stroke-linejoin="miter"/>
<rect x="437.00" y="173.90" width="47.90" height="1.6" fill="#000"/>
<path d="M445.10 196.05L448.40 202.80L441.80 202.80Z" fill="#fff" stroke="#104b85" stroke-width="1.6" stroke-linejoin="miter"/>
<path d="M452.90 196.05L456.20 202.80L449.60 202.80Z" fill="#fff" stroke="#104b85" stroke-width="1.6" stroke-linejoin="miter"/>
<path d="M460.70 196.05L464.00 202.80L457.40 202.80Z" fill="#fff" stroke="#104b85" stroke-width="1.6" stroke-linejoin="miter"/>
<path d="M468.50 196.05L471.80 202.80L465.20 202.80Z" fill="#fff" stroke="#104b85" stroke-width="1.6" stroke-linejoin="miter"/>
<path d="M476.30 196.05L479.60 202.80L473.00 202.80Z" fill="#fff" stroke="#104b85" stroke-width="1.6" stroke-linejoin="miter"/>
<path d="M460.90 226.63L464.20 233.38L457.60 233.38Z" fill="#fff" stroke="#104b85" stroke-width="1.6" stroke-linejoin="miter"/>
<path d="M450.37 226.63L453.67 233.38L447.07 233.38Z" fill="#fff" stroke="#104b85" stroke-width="1.6" stroke-linejoin="miter"/>
<path d="M471.43 226.63L474.73 233.38L468.13 233.38Z" fill="#fff" stroke="#104b85" stroke-width="1.6" stroke-linejoin="miter"/>
<path d="M476.70 226.63L480.00 233.38L473.40 233.38Z" fill="#fff" stroke="#104b85" stroke-width="1.6" stroke-linejoin="miter"/>
<path d="M455.63 226.63L458.93 233.38L452.33 233.38Z" fill="#fff" stroke="#104b85" stroke-width="1.6" stroke-linejoin="miter"/>
<path d="M445.10 226.63L448.40 233.38L441.80 233.38Z" fill="#fff" stroke="#104b85" stroke-width="1.6" stroke-linejoin="miter"/>
<path d="M466.17 226.63L469.47 233.38L462.87 233.38Z" fill="#fff" stroke="#104b85" stroke-width="1.6" stroke-linejoin="miter"/>
<path d="M448.20 240.95L451.50 247.70L444.90 247.70Z" fill="#fff" stroke="#104b85" stroke-width="1.6" stroke-linejoin="miter"/>
<path d="M463.81 240.95L467.11 247.70L460.51 247.70Z" fill="#fff" stroke="#104b85" stroke-width="1.6" stroke-linejoin="miter"/>
<path d="M453.82 240.95L457.12 247.70L450.52 247.70Z" fill="#fff" stroke="#104b85" stroke-width="1.6" stroke-linejoin="miter"/>
<path d="M462.56 240.95L465.86 247.70L459.26 247.70Z" fill="#fff" stroke="#104b85" stroke-width="1.6" stroke-linejoin="miter"/>
<path d="M456.32 240.95L459.62 247.70L453.02 247.70Z" fill="#fff" stroke="#104b85" stroke-width="1.6" stroke-linejoin="miter"/>
<path d="M466.31 240.95L469.61 247.70L463.01 247.70Z" fill="#fff" stroke="#104b85" stroke-width="1.6" stroke-linejoin="miter"/>
<path d="M446.32 240.95L449.62 247.70L443.02 247.70Z" fill="#fff" stroke="#104b85" stroke-width="1.6" stroke-linejoin="miter"/>
<path d="M448.82 240.95L452.12 247.70L445.52 247.70Z" fill="#fff" stroke="#104b85" stroke-width="1.6" stroke-linejoin="miter"/>
<path d="M465.68 240.95L468.98 247.70L462.38 247.70Z" fill="#fff" stroke="#104b85" stroke-width="1.6" stroke-linejoin="miter"/>
<path d="M457.57 240.95L460.87 247.70L454.27 247.70Z" fill="#fff" stroke="#104b85" stroke-width="1.6" stroke-linejoin="miter"/>
<path d="M465.06 240.95L468.36 247.70L461.76 247.70Z" fill="#fff" stroke="#104b85" stroke-width="1.6" stroke-linejoin="miter"/>
<path d="M470.68 240.95L473.98 247.70L467.38 247.70Z" fill="#fff" stroke="#104b85" stroke-width="1.6" stroke-linejoin="miter"/>
<path d="M458.19 240.95L461.49 247.70L454.89 247.70Z" fill="#fff" stroke="#104b85" stroke-width="1.6" stroke-linejoin="miter"/>
<path d="M468.81 240.95L472.11 247.70L465.51 247.70Z" fill="#fff" stroke="#104b85" stroke-width="1.6" stroke-linejoin="miter"/>
<path d="M455.07 240.95L458.37 247.70L451.77 247.70Z" fill="#fff" stroke="#104b85" stroke-width="1.6" stroke-linejoin="miter"/>
<path d="M455.69 240.95L458.99 247.70L452.39 247.70Z" fill="#fff" stroke="#104b85" stroke-width="1.6" stroke-linejoin="miter"/>
<path d="M458.81 240.95L462.11 247.70L455.51 247.70Z" fill="#fff" stroke="#104b85" stroke-width="1.6" stroke-linejoin="miter"/>
<path d="M471.30 240.95L474.60 247.70L468.00 247.70Z" fill="#fff" stroke="#104b85" stroke-width="1.6" stroke-linejoin="miter"/>
<path d="M452.57 240.95L455.87 247.70L449.27 247.70Z" fill="#fff" stroke="#104b85" stroke-width="1.6" stroke-linejoin="miter"/>
<path d="M474.43 240.95L477.73 247.70L471.13 247.70Z" fill="#fff" stroke="#104b85" stroke-width="1.6" stroke-linejoin="miter"/>
<path d="M460.06 240.95L463.36 247.70L456.76 247.70Z" fill="#fff" stroke="#104b85" stroke-width="1.6" stroke-linejoin="miter"/>
<path d="M459.44 240.95L462.74 247.70L456.14 247.70Z" fill="#fff" stroke="#104b85" stroke-width="1.6" stroke-linejoin="miter"/>
<path d="M475.68 240.95L478.98 247.70L472.38 247.70Z" fill="#fff" stroke="#104b85" stroke-width="1.6" stroke-linejoin="miter"/>
<path d="M451.94 240.95L455.24 247.70L448.64 247.70Z" fill="#fff" stroke="#104b85" stroke-width="1.6" stroke-linejoin="miter"/>
<path d="M453.19 240.95L456.49 247.70L449.89 247.70Z" fill="#fff" stroke="#104b85" stroke-width="1.6" stroke-linejoin="miter"/>
<path d="M460.69 240.95L463.99 247.70L457.39 247.70Z" fill="#fff" stroke="#104b85" stroke-width="1.6" stroke-linejoin="miter"/>
<path d="M476.30 240.95L479.60 247.70L473.00 247.70Z" fill="#fff" stroke="#104b85" stroke-width="1.6" stroke-linejoin="miter"/>
<path d="M467.56 240.95L470.86 247.70L464.26 247.70Z" fill="#fff" stroke="#104b85" stroke-width="1.6" stroke-linejoin="miter"/>
<path d="M468.18 240.95L471.48 247.70L464.88 247.70Z" fill="#fff" stroke="#104b85" stroke-width="1.6" stroke-linejoin="miter"/>
<path d="M456.94 240.95L460.24 247.70L453.64 247.70Z" fill="#fff" stroke="#104b85" stroke-width="1.6" stroke-linejoin="miter"/>
<path d="M449.45 240.95L452.75 247.70L446.15 247.70Z" fill="#fff" stroke="#104b85" stroke-width="1.6" stroke-linejoin="miter"/>
<path d="M461.94 240.95L465.24 247.70L458.64 247.70Z" fill="#fff" stroke="#104b85" stroke-width="1.6" stroke-linejoin="miter"/>
<path d="M463.19 240.95L466.49 247.70L459.89 247.70Z" fill="#fff" stroke="#104b85" stroke-width="1.6" stroke-linejoin="miter"/>
<path d="M470.06 240.95L473.36 247.70L466.76 247.70Z" fill="#fff" stroke="#104b85" stroke-width="1.6" stroke-linejoin="miter"/>
<path d="M469.43 240.95L472.73 247.70L466.13 247.70Z" fill="#fff" stroke="#104b85" stroke-width="1.6" stroke-linejoin="miter"/>
<path d="M447.57 240.95L450.87 247.70L444.27 247.70Z" fill="#fff" stroke="#104b85" stroke-width="1.6" stroke-linejoin="miter"/>
<path d="M473.18 240.95L476.48 247.70L469.88 247.70Z" fill="#fff" stroke="#104b85" stroke-width="1.6" stroke-linejoin="miter"/>
<path d="M473.80 240.95L477.10 247.70L470.50 247.70Z" fill="#fff" stroke="#104b85" stroke-width="1.6" stroke-linejoin="miter"/>
<path d="M471.93 240.95L475.23 247.70L468.63 247.70Z" fill="#fff" stroke="#104b85" stroke-width="1.6" stroke-linejoin="miter"/>
<path d="M454.44 240.95L457.74 247.70L451.14 247.70Z" fill="#fff" stroke="#104b85" stroke-width="1.6" stroke-linejoin="miter"/>
<path d="M466.93 240.95L470.23 247.70L463.63 247.70Z" fill="#fff" stroke="#104b85" stroke-width="1.6" stroke-linejoin="miter"/>
<path d="M475.05 240.95L478.35 247.70L471.75 247.70Z" fill="#fff" stroke="#104b85" stroke-width="1.6" stroke-linejoin="miter"/>
<path d="M450.70 240.95L454.00 247.70L447.40 247.70Z" fill="#fff" stroke="#104b85" stroke-width="1.6" stroke-linejoin="miter"/>
<path d="M446.95 240.95L450.25 247.70L443.65 247.70Z" fill="#fff" stroke="#104b85" stroke-width="1.6" stroke-linejoin="miter"/>
<path d="M472.55 240.95L475.85 247.70L469.25 247.70Z" fill="#fff" stroke="#104b85" stroke-width="1.6" stroke-linejoin="miter"/>
<path d="M451.32 240.95L454.62 247.70L448.02 247.70Z" fill="#fff" stroke="#104b85" stroke-width="1.6" stroke-linejoin="miter"/>
<path d="M461.31 240.95L464.61 247.70L458.01 247.70Z" fill="#fff" stroke="#104b85" stroke-width="1.6" stroke-linejoin="miter"/>
<path d="M450.07 240.95L453.37 247.70L446.77 247.70Z" fill="#fff" stroke="#104b85" stroke-width="1.6" stroke-linejoin="miter"/>
<path d="M464.43 240.95L467.73 247.70L461.13 247.70Z" fill="#fff" stroke="#104b85" stroke-width="1.6" stroke-linejoin="miter"/>
<path d="M445.70 240.95L449.00 247.70L442.40 247.70Z" fill="#fff" stroke="#104b85" stroke-width="1.6" stroke-linejoin="miter"/>
<text x="11.9" y="352.0" font-family="Liberation Sans" font-weight="bold" font-size="23.2" stroke="#000" stroke-width="0.55">B</text>
<g transform="translate(256.73,351.80) scale(1.1034,1)"><text x="0.00" y="0" font-family="Liberation Sans" font-size="17.6" font-weight="bold" stroke="#000" stroke-width="0.45">sHA (n</text></g>
<g transform="translate(332.73,351.80) scale(1.0951,1)"><text x="0.00" y="0" font-family="Liberation Sans" font-size="17.6" font-weight="bold" stroke="#000" stroke-width="0.45">39)</text></g>
<rect x="318.70" y="343.35" width="13.20" height="2.15" fill="#000"/>
<rect x="318.70" y="347.30" width="13.20" height="2.3" fill="#000"/>
<text transform="translate(31.9,568.30) rotate(-90)" font-family="Liberation Sans" font-size="19.6" textLength="185.9" lengthAdjust="spacingAndGlyphs">Titer of FVIII-binding antibodies</text>
<text transform="translate(31.9,567.75) rotate(-90)" font-family="Liberation Sans" font-size="19.6" textLength="185.9" lengthAdjust="spacingAndGlyphs">Titer of FVIII-binding antibodies</text>
<g transform="translate(43.66,377.30) scale(1.0000,1)"><path transform="translate(0.00,0) scale(0.0160,-0.0160)" d="M273 0L273 491L101 491L101 557C230 567 261 594 290 703L359 703L359 0Z"/><text x="9.35" y="0" font-family="Liberation Sans" font-size="16" letter-spacing="0.45">:</text><path transform="translate(14.24,0) scale(0.0160,-0.0160)" d="M273 0L273 491L101 491L101 557C230 567 261 594 290 703L359 703L359 0Z"/><text x="23.59" y="0" font-family="Liberation Sans" font-size="16" letter-spacing="0.45">280</text></g>
<g transform="translate(53.01,407.88) scale(1.0000,1)"><path transform="translate(0.00,0) scale(0.0160,-0.0160)" d="M273 0L273 491L101 491L101 557C230 567 261 594 290 703L359 703L359 0Z"/><text x="9.35" y="0" font-family="Liberation Sans" font-size="16" letter-spacing="0.45">:640</text></g>
<g transform="translate(53.01,438.46) scale(1.0000,1)"><path transform="translate(0.00,0) scale(0.0160,-0.0160)" d="M273 0L273 491L101 491L101 557C230 567 261 594 290 703L359 703L359 0Z"/><text x="9.35" y="0" font-family="Liberation Sans" font-size="16" letter-spacing="0.45">:320</text></g>
<g transform="translate(53.01,469.04) scale(1.0000,1)"><path transform="translate(0.00,0) scale(0.0160,-0.0160)" d="M273 0L273 491L101 491L101 557C230 567 261 594 290 703L359 703L359 0Z"/><text x="9.35" y="0" font-family="Liberation Sans" font-size="16" letter-spacing="0.45">:</text><path transform="translate(14.24,0) scale(0.0160,-0.0160)" d="M273 0L273 491L101 491L101 557C230 567 261 594 290 703L359 703L359 0Z"/><text x="23.59" y="0" font-family="Liberation Sans" font-size="16" letter-spacing="0.45">60</text></g>
<g transform="translate(62.36,499.62) scale(1.0000,1)"><path transform="translate(0.00,0) scale(0.0160,-0.0160)" d="M273 0L273 491L101 491L101 557C230 567 261 594 290 703L359 703L359 0Z"/><text x="9.35" y="0" font-family="Liberation Sans" font-size="16" letter-spacing="0.45">:80</text></g>
<g transform="translate(62.36,530.20) scale(1.0000,1)"><path transform="translate(0.00,0) scale(0.0160,-0.0160)" d="M273 0L273 491L101 491L101 557C230 567 261 594 290 703L359 703L359 0Z"/><text x="9.35" y="0" font-family="Liberation Sans" font-size="16" letter-spacing="0.45">:40</text></g>
<g transform="translate(62.36,560.78) scale(1.0000,1)"><path transform="translate(0.00,0) scale(0.0160,-0.0160)" d="M273 0L273 491L101 491L101 557C230 567 261 594 290 703L359 703L359 0Z"/><text x="9.35" y="0" font-family="Liberation Sans" font-size="16" letter-spacing="0.45">:20</text></g>
<text x="95.2" y="577.40" text-anchor="end" font-family="Liberation Sans" font-size="15.4" letter-spacing="0.6">ND</text>
<rect x="104.5" y="366.60" width="1.8" height="189.60" fill="#000"/>
<rect x="103" y="555.20" width="4" height="1.2" fill="#000"/>
<rect x="104.5" y="563.20" width="1.8" height="14.40" fill="#000"/>
<rect x="103" y="563.10" width="4" height="1.2" fill="#000"/>
<rect x="101.2" y="371.35" width="3.5" height="1.5" fill="#000"/>
<rect x="101.2" y="401.93" width="3.5" height="1.5" fill="#000"/>
<rect x="101.2" y="432.51" width="3.5" height="1.5" fill="#000"/>
<rect x="101.2" y="463.09" width="3.5" height="1.5" fill="#000"/>
<rect x="101.2" y="493.67" width="3.5" height="1.5" fill="#000"/>
<rect x="101.2" y="524.25" width="3.5" height="1.5" fill="#000"/>
<rect x="101" y="576.70" width="405.30" height="1.9" fill="#000"/>
<rect x="148.40" y="577.60" width="1.7" height="4" fill="#000"/>
<rect x="210.73" y="577.60" width="1.7" height="4" fill="#000"/>
<rect x="273.06" y="577.60" width="1.7" height="4" fill="#000"/>
<rect x="335.39" y="577.60" width="1.7" height="4" fill="#000"/>
<rect x="397.72" y="577.60" width="1.7" height="4" fill="#000"/>
<rect x="460.05" y="577.60" width="1.7" height="4" fill="#000"/>
<g transform="translate(131.83,600.60) scale(1.0000,1)"><text x="0.00" y="0" font-family="Liberation Sans" font-size="15.7">IgG</text><path transform="translate(25.31,0) scale(0.0157,-0.0157)" d="M273 0L273 491L101 491L101 557C230 567 261 594 290 703L359 703L359 0Z"/></g>
<g transform="translate(194.16,600.60) scale(1.0000,1)"><text x="0.00" y="0" font-family="Liberation Sans" font-size="15.7">IgG2</text></g>
<g transform="translate(256.49,600.60) scale(1.0000,1)"><text x="0.00" y="0" font-family="Liberation Sans" font-size="15.7">IgG3</text></g>
<g transform="translate(318.82,600.60) scale(1.0000,1)"><text x="0.00" y="0" font-family="Liberation Sans" font-size="15.7">IgG4</text></g>
<g transform="translate(386.39,600.60) scale(1.0000,1)"><text x="0.00" y="0" font-family="Liberation Sans" font-size="15.7">IgA</text></g>
<g transform="translate(447.41,600.60) scale(1.0000,1)"><text x="0.00" y="0" font-family="Liberation Sans" font-size="15.7">IgM</text></g>
<text x="258.30" y="631.50" font-family="Liberation Sans" font-size="18.6" textLength="51.0" lengthAdjust="spacingAndGlyphs">Subclass</text>
<text x="317.00" y="631.50" font-family="Liberation Sans" font-size="18.6" textLength="41.4" lengthAdjust="spacingAndGlyphs">Isotype</text>
<text x="258.85" y="631.50" font-family="Liberation Sans" font-size="18.6" textLength="51.0" lengthAdjust="spacingAndGlyphs">Subclass</text>
<text x="317.55" y="631.50" font-family="Liberation Sans" font-size="18.6" textLength="41.4" lengthAdjust="spacingAndGlyphs">Isotype</text>
<path d="M310.0 631.50L311.6 631.50L315.5 618.60L313.9 618.60Z" fill="#000"/>
<circle cx="149.20" cy="402.68" r="3.05" fill="#fff" stroke="#26ad3a" stroke-width="1.65"/>
<circle cx="149.20" cy="463.84" r="3.05" fill="#fff" stroke="#26ad3a" stroke-width="1.65"/>
<circle cx="133.80" cy="494.42" r="3.05" fill="#fff" stroke="#26ad3a" stroke-width="1.65"/>
<circle cx="149.20" cy="494.42" r="3.05" fill="#fff" stroke="#26ad3a" stroke-width="1.65"/>
<circle cx="164.40" cy="494.42" r="3.05" fill="#fff" stroke="#26ad3a" stroke-width="1.65"/>
<rect x="126.30" y="524.20" width="47.30" height="1.6" fill="#000"/>
<circle cx="143.10" cy="525.00" r="3.05" fill="#fff" stroke="#26ad3a" stroke-width="1.65"/>
<circle cx="155.20" cy="525.00" r="3.05" fill="#fff" stroke="#26ad3a" stroke-width="1.65"/>
<path d="M133.80 552.23L137.10 558.98L130.50 558.98Z" fill="#fff" stroke="#104b85" stroke-width="1.6" stroke-linejoin="miter"/>
<path d="M144.20 552.23L147.50 558.98L140.90 558.98Z" fill="#fff" stroke="#104b85" stroke-width="1.6" stroke-linejoin="miter"/>
<path d="M154.30 552.23L157.60 558.98L151.00 558.98Z" fill="#fff" stroke="#104b85" stroke-width="1.6" stroke-linejoin="miter"/>
<path d="M164.40 552.23L167.70 558.98L161.10 558.98Z" fill="#fff" stroke="#104b85" stroke-width="1.6" stroke-linejoin="miter"/>
<path d="M158.27 566.55L161.57 573.30L154.97 573.30Z" fill="#fff" stroke="#104b85" stroke-width="1.6" stroke-linejoin="miter"/>
<path d="M163.54 566.55L166.84 573.30L160.24 573.30Z" fill="#fff" stroke="#104b85" stroke-width="1.6" stroke-linejoin="miter"/>
<path d="M135.06 566.55L138.36 573.30L131.76 573.30Z" fill="#fff" stroke="#104b85" stroke-width="1.6" stroke-linejoin="miter"/>
<path d="M137.17 566.55L140.47 573.30L133.87 573.30Z" fill="#fff" stroke="#104b85" stroke-width="1.6" stroke-linejoin="miter"/>
<path d="M140.33 566.55L143.63 573.30L137.03 573.30Z" fill="#fff" stroke="#104b85" stroke-width="1.6" stroke-linejoin="miter"/>
<path d="M155.10 566.55L158.40 573.30L151.80 573.30Z" fill="#fff" stroke="#104b85" stroke-width="1.6" stroke-linejoin="miter"/>
<path d="M148.77 566.55L152.07 573.30L145.47 573.30Z" fill="#fff" stroke="#104b85" stroke-width="1.6" stroke-linejoin="miter"/>
<path d="M149.83 566.55L153.13 573.30L146.53 573.30Z" fill="#fff" stroke="#104b85" stroke-width="1.6" stroke-linejoin="miter"/>
<path d="M138.22 566.55L141.52 573.30L134.92 573.30Z" fill="#fff" stroke="#104b85" stroke-width="1.6" stroke-linejoin="miter"/>
<path d="M154.05 566.55L157.35 573.30L150.75 573.30Z" fill="#fff" stroke="#104b85" stroke-width="1.6" stroke-linejoin="miter"/>
<path d="M161.43 566.55L164.73 573.30L158.13 573.30Z" fill="#fff" stroke="#104b85" stroke-width="1.6" stroke-linejoin="miter"/>
<path d="M145.61 566.55L148.91 573.30L142.31 573.30Z" fill="#fff" stroke="#104b85" stroke-width="1.6" stroke-linejoin="miter"/>
<path d="M147.72 566.55L151.02 573.30L144.42 573.30Z" fill="#fff" stroke="#104b85" stroke-width="1.6" stroke-linejoin="miter"/>
<path d="M136.11 566.55L139.41 573.30L132.81 573.30Z" fill="#fff" stroke="#104b85" stroke-width="1.6" stroke-linejoin="miter"/>
<path d="M150.88 566.55L154.18 573.30L147.58 573.30Z" fill="#fff" stroke="#104b85" stroke-width="1.6" stroke-linejoin="miter"/>
<path d="M156.16 566.55L159.46 573.30L152.86 573.30Z" fill="#fff" stroke="#104b85" stroke-width="1.6" stroke-linejoin="miter"/>
<path d="M162.49 566.55L165.79 573.30L159.19 573.30Z" fill="#fff" stroke="#104b85" stroke-width="1.6" stroke-linejoin="miter"/>
<path d="M134.00 566.55L137.30 573.30L130.70 573.30Z" fill="#fff" stroke="#104b85" stroke-width="1.6" stroke-linejoin="miter"/>
<path d="M159.32 566.55L162.62 573.30L156.02 573.30Z" fill="#fff" stroke="#104b85" stroke-width="1.6" stroke-linejoin="miter"/>
<path d="M160.38 566.55L163.68 573.30L157.08 573.30Z" fill="#fff" stroke="#104b85" stroke-width="1.6" stroke-linejoin="miter"/>
<path d="M142.44 566.55L145.74 573.30L139.14 573.30Z" fill="#fff" stroke="#104b85" stroke-width="1.6" stroke-linejoin="miter"/>
<path d="M151.94 566.55L155.24 573.30L148.64 573.30Z" fill="#fff" stroke="#104b85" stroke-width="1.6" stroke-linejoin="miter"/>
<path d="M143.50 566.55L146.80 573.30L140.20 573.30Z" fill="#fff" stroke="#104b85" stroke-width="1.6" stroke-linejoin="miter"/>
<path d="M157.21 566.55L160.51 573.30L153.91 573.30Z" fill="#fff" stroke="#104b85" stroke-width="1.6" stroke-linejoin="miter"/>
<path d="M152.99 566.55L156.29 573.30L149.69 573.30Z" fill="#fff" stroke="#104b85" stroke-width="1.6" stroke-linejoin="miter"/>
<path d="M164.60 566.55L167.90 573.30L161.30 573.30Z" fill="#fff" stroke="#104b85" stroke-width="1.6" stroke-linejoin="miter"/>
<path d="M139.28 566.55L142.58 573.30L135.98 573.30Z" fill="#fff" stroke="#104b85" stroke-width="1.6" stroke-linejoin="miter"/>
<path d="M141.39 566.55L144.69 573.30L138.09 573.30Z" fill="#fff" stroke="#104b85" stroke-width="1.6" stroke-linejoin="miter"/>
<path d="M144.55 566.55L147.85 573.30L141.25 573.30Z" fill="#fff" stroke="#104b85" stroke-width="1.6" stroke-linejoin="miter"/>
<path d="M146.66 566.55L149.96 573.30L143.36 573.30Z" fill="#fff" stroke="#104b85" stroke-width="1.6" stroke-linejoin="miter"/>
<rect x="186.70" y="493.62" width="47.30" height="1.6" fill="#000"/>
<path d="M211.40 521.65L214.70 528.40L208.10 528.40Z" fill="#fff" stroke="#104b85" stroke-width="1.6" stroke-linejoin="miter"/>
<path d="M211.70 552.23L215.00 558.98L208.40 558.98Z" fill="#fff" stroke="#104b85" stroke-width="1.6" stroke-linejoin="miter"/>
<path d="M223.50 566.55L226.80 573.30L220.20 573.30Z" fill="#fff" stroke="#104b85" stroke-width="1.6" stroke-linejoin="miter"/>
<path d="M218.40 566.55L221.70 573.30L215.10 573.30Z" fill="#fff" stroke="#104b85" stroke-width="1.6" stroke-linejoin="miter"/>
<path d="M213.30 566.55L216.60 573.30L210.00 573.30Z" fill="#fff" stroke="#104b85" stroke-width="1.6" stroke-linejoin="miter"/>
<path d="M225.20 566.55L228.50 573.30L221.90 573.30Z" fill="#fff" stroke="#104b85" stroke-width="1.6" stroke-linejoin="miter"/>
<path d="M199.70 566.55L203.00 573.30L196.40 573.30Z" fill="#fff" stroke="#104b85" stroke-width="1.6" stroke-linejoin="miter"/>
<path d="M220.10 566.55L223.40 573.30L216.80 573.30Z" fill="#fff" stroke="#104b85" stroke-width="1.6" stroke-linejoin="miter"/>
<path d="M204.80 566.55L208.10 573.30L201.50 573.30Z" fill="#fff" stroke="#104b85" stroke-width="1.6" stroke-linejoin="miter"/>
<path d="M202.25 566.55L205.55 573.30L198.95 573.30Z" fill="#fff" stroke="#104b85" stroke-width="1.6" stroke-linejoin="miter"/>
<path d="M203.10 566.55L206.40 573.30L199.80 573.30Z" fill="#fff" stroke="#104b85" stroke-width="1.6" stroke-linejoin="miter"/>
<path d="M215.00 566.55L218.30 573.30L211.70 573.30Z" fill="#fff" stroke="#104b85" stroke-width="1.6" stroke-linejoin="miter"/>
<path d="M221.80 566.55L225.10 573.30L218.50 573.30Z" fill="#fff" stroke="#104b85" stroke-width="1.6" stroke-linejoin="miter"/>
<path d="M226.90 566.55L230.20 573.30L223.60 573.30Z" fill="#fff" stroke="#104b85" stroke-width="1.6" stroke-linejoin="miter"/>
<path d="M222.65 566.55L225.95 573.30L219.35 573.30Z" fill="#fff" stroke="#104b85" stroke-width="1.6" stroke-linejoin="miter"/>
<path d="M217.55 566.55L220.85 573.30L214.25 573.30Z" fill="#fff" stroke="#104b85" stroke-width="1.6" stroke-linejoin="miter"/>
<path d="M214.15 566.55L217.45 573.30L210.85 573.30Z" fill="#fff" stroke="#104b85" stroke-width="1.6" stroke-linejoin="miter"/>
<path d="M198.85 566.55L202.15 573.30L195.55 573.30Z" fill="#fff" stroke="#104b85" stroke-width="1.6" stroke-linejoin="miter"/>
<path d="M197.15 566.55L200.45 573.30L193.85 573.30Z" fill="#fff" stroke="#104b85" stroke-width="1.6" stroke-linejoin="miter"/>
<path d="M200.55 566.55L203.85 573.30L197.25 573.30Z" fill="#fff" stroke="#104b85" stroke-width="1.6" stroke-linejoin="miter"/>
<path d="M206.50 566.55L209.80 573.30L203.20 573.30Z" fill="#fff" stroke="#104b85" stroke-width="1.6" stroke-linejoin="miter"/>
<path d="M216.70 566.55L220.00 573.30L213.40 573.30Z" fill="#fff" stroke="#104b85" stroke-width="1.6" stroke-linejoin="miter"/>
<path d="M210.75 566.55L214.05 573.30L207.45 573.30Z" fill="#fff" stroke="#104b85" stroke-width="1.6" stroke-linejoin="miter"/>
<path d="M219.25 566.55L222.55 573.30L215.95 573.30Z" fill="#fff" stroke="#104b85" stroke-width="1.6" stroke-linejoin="miter"/>
<path d="M205.65 566.55L208.95 573.30L202.35 573.30Z" fill="#fff" stroke="#104b85" stroke-width="1.6" stroke-linejoin="miter"/>
<path d="M226.05 566.55L229.35 573.30L222.75 573.30Z" fill="#fff" stroke="#104b85" stroke-width="1.6" stroke-linejoin="miter"/>
<path d="M207.35 566.55L210.65 573.30L204.05 573.30Z" fill="#fff" stroke="#104b85" stroke-width="1.6" stroke-linejoin="miter"/>
<path d="M209.90 566.55L213.20 573.30L206.60 573.30Z" fill="#fff" stroke="#104b85" stroke-width="1.6" stroke-linejoin="miter"/>
<path d="M196.30 566.55L199.60 573.30L193.00 573.30Z" fill="#fff" stroke="#104b85" stroke-width="1.6" stroke-linejoin="miter"/>
<path d="M224.35 566.55L227.65 573.30L221.05 573.30Z" fill="#fff" stroke="#104b85" stroke-width="1.6" stroke-linejoin="miter"/>
<path d="M209.05 566.55L212.35 573.30L205.75 573.30Z" fill="#fff" stroke="#104b85" stroke-width="1.6" stroke-linejoin="miter"/>
<path d="M212.45 566.55L215.75 573.30L209.15 573.30Z" fill="#fff" stroke="#104b85" stroke-width="1.6" stroke-linejoin="miter"/>
<path d="M208.20 566.55L211.50 573.30L204.90 573.30Z" fill="#fff" stroke="#104b85" stroke-width="1.6" stroke-linejoin="miter"/>
<path d="M201.40 566.55L204.70 573.30L198.10 573.30Z" fill="#fff" stroke="#104b85" stroke-width="1.6" stroke-linejoin="miter"/>
<path d="M215.85 566.55L219.15 573.30L212.55 573.30Z" fill="#fff" stroke="#104b85" stroke-width="1.6" stroke-linejoin="miter"/>
<path d="M220.95 566.55L224.25 573.30L217.65 573.30Z" fill="#fff" stroke="#104b85" stroke-width="1.6" stroke-linejoin="miter"/>
<path d="M203.95 566.55L207.25 573.30L200.65 573.30Z" fill="#fff" stroke="#104b85" stroke-width="1.6" stroke-linejoin="miter"/>
<path d="M211.60 566.55L214.90 573.30L208.30 573.30Z" fill="#fff" stroke="#104b85" stroke-width="1.6" stroke-linejoin="miter"/>
<path d="M198.00 566.55L201.30 573.30L194.70 573.30Z" fill="#fff" stroke="#104b85" stroke-width="1.6" stroke-linejoin="miter"/>
<circle cx="274.20" cy="433.26" r="3.05" fill="#fff" stroke="#26ad3a" stroke-width="1.65"/>
<rect x="249.10" y="524.20" width="47.00" height="1.6" fill="#000"/>
<circle cx="267.50" cy="525.00" r="3.05" fill="#fff" stroke="#26ad3a" stroke-width="1.65"/>
<path d="M280.00 521.65L283.30 528.40L276.70 528.40Z" fill="#fff" stroke="#104b85" stroke-width="1.6" stroke-linejoin="miter"/>
<path d="M258.80 552.23L262.10 558.98L255.50 558.98Z" fill="#fff" stroke="#104b85" stroke-width="1.6" stroke-linejoin="miter"/>
<path d="M268.60 552.23L271.90 558.98L265.30 558.98Z" fill="#fff" stroke="#104b85" stroke-width="1.6" stroke-linejoin="miter"/>
<path d="M279.00 552.23L282.30 558.98L275.70 558.98Z" fill="#fff" stroke="#104b85" stroke-width="1.6" stroke-linejoin="miter"/>
<path d="M289.50 552.23L292.80 558.98L286.20 558.98Z" fill="#fff" stroke="#104b85" stroke-width="1.6" stroke-linejoin="miter"/>
<path d="M279.08 566.55L282.38 573.30L275.78 573.30Z" fill="#fff" stroke="#104b85" stroke-width="1.6" stroke-linejoin="miter"/>
<path d="M283.86 566.55L287.16 573.30L280.56 573.30Z" fill="#fff" stroke="#104b85" stroke-width="1.6" stroke-linejoin="miter"/>
<path d="M285.77 566.55L289.07 573.30L282.47 573.30Z" fill="#fff" stroke="#104b85" stroke-width="1.6" stroke-linejoin="miter"/>
<path d="M260.91 566.55L264.21 573.30L257.61 573.30Z" fill="#fff" stroke="#104b85" stroke-width="1.6" stroke-linejoin="miter"/>
<path d="M267.61 566.55L270.91 573.30L264.31 573.30Z" fill="#fff" stroke="#104b85" stroke-width="1.6" stroke-linejoin="miter"/>
<path d="M288.64 566.55L291.94 573.30L285.34 573.30Z" fill="#fff" stroke="#104b85" stroke-width="1.6" stroke-linejoin="miter"/>
<path d="M278.12 566.55L281.43 573.30L274.82 573.30Z" fill="#fff" stroke="#104b85" stroke-width="1.6" stroke-linejoin="miter"/>
<path d="M286.73 566.55L290.03 573.30L283.43 573.30Z" fill="#fff" stroke="#104b85" stroke-width="1.6" stroke-linejoin="miter"/>
<path d="M264.74 566.55L268.04 573.30L261.44 573.30Z" fill="#fff" stroke="#104b85" stroke-width="1.6" stroke-linejoin="miter"/>
<path d="M263.78 566.55L267.08 573.30L260.48 573.30Z" fill="#fff" stroke="#104b85" stroke-width="1.6" stroke-linejoin="miter"/>
<path d="M281.95 566.55L285.25 573.30L278.65 573.30Z" fill="#fff" stroke="#104b85" stroke-width="1.6" stroke-linejoin="miter"/>
<path d="M273.34 566.55L276.64 573.30L270.04 573.30Z" fill="#fff" stroke="#104b85" stroke-width="1.6" stroke-linejoin="miter"/>
<path d="M269.52 566.55L272.82 573.30L266.22 573.30Z" fill="#fff" stroke="#104b85" stroke-width="1.6" stroke-linejoin="miter"/>
<path d="M265.69 566.55L268.99 573.30L262.39 573.30Z" fill="#fff" stroke="#104b85" stroke-width="1.6" stroke-linejoin="miter"/>
<path d="M289.60 566.55L292.90 573.30L286.30 573.30Z" fill="#fff" stroke="#104b85" stroke-width="1.6" stroke-linejoin="miter"/>
<path d="M282.91 566.55L286.21 573.30L279.61 573.30Z" fill="#fff" stroke="#104b85" stroke-width="1.6" stroke-linejoin="miter"/>
<path d="M284.82 566.55L288.12 573.30L281.52 573.30Z" fill="#fff" stroke="#104b85" stroke-width="1.6" stroke-linejoin="miter"/>
<path d="M261.87 566.55L265.17 573.30L258.57 573.30Z" fill="#fff" stroke="#104b85" stroke-width="1.6" stroke-linejoin="miter"/>
<path d="M259.00 566.55L262.30 573.30L255.70 573.30Z" fill="#fff" stroke="#104b85" stroke-width="1.6" stroke-linejoin="miter"/>
<path d="M287.69 566.55L290.99 573.30L284.39 573.30Z" fill="#fff" stroke="#104b85" stroke-width="1.6" stroke-linejoin="miter"/>
<path d="M259.96 566.55L263.26 573.30L256.66 573.30Z" fill="#fff" stroke="#104b85" stroke-width="1.6" stroke-linejoin="miter"/>
<path d="M277.17 566.55L280.47 573.30L273.87 573.30Z" fill="#fff" stroke="#104b85" stroke-width="1.6" stroke-linejoin="miter"/>
<path d="M280.99 566.55L284.29 573.30L277.69 573.30Z" fill="#fff" stroke="#104b85" stroke-width="1.6" stroke-linejoin="miter"/>
<path d="M270.48 566.55L273.78 573.30L267.18 573.30Z" fill="#fff" stroke="#104b85" stroke-width="1.6" stroke-linejoin="miter"/>
<path d="M274.30 566.55L277.60 573.30L271.00 573.30Z" fill="#fff" stroke="#104b85" stroke-width="1.6" stroke-linejoin="miter"/>
<path d="M266.65 566.55L269.95 573.30L263.35 573.30Z" fill="#fff" stroke="#104b85" stroke-width="1.6" stroke-linejoin="miter"/>
<path d="M268.56 566.55L271.86 573.30L265.26 573.30Z" fill="#fff" stroke="#104b85" stroke-width="1.6" stroke-linejoin="miter"/>
<path d="M276.21 566.55L279.51 573.30L272.91 573.30Z" fill="#fff" stroke="#104b85" stroke-width="1.6" stroke-linejoin="miter"/>
<path d="M272.39 566.55L275.69 573.30L269.09 573.30Z" fill="#fff" stroke="#104b85" stroke-width="1.6" stroke-linejoin="miter"/>
<path d="M275.26 566.55L278.56 573.30L271.96 573.30Z" fill="#fff" stroke="#104b85" stroke-width="1.6" stroke-linejoin="miter"/>
<path d="M271.43 566.55L274.73 573.30L268.13 573.30Z" fill="#fff" stroke="#104b85" stroke-width="1.6" stroke-linejoin="miter"/>
<path d="M262.82 566.55L266.12 573.30L259.52 573.30Z" fill="#fff" stroke="#104b85" stroke-width="1.6" stroke-linejoin="miter"/>
<path d="M280.04 566.55L283.34 573.30L276.74 573.30Z" fill="#fff" stroke="#104b85" stroke-width="1.6" stroke-linejoin="miter"/>
<rect x="311.80" y="493.62" width="47.50" height="1.6" fill="#000"/>
<path d="M330.10 521.65L333.40 528.40L326.80 528.40Z" fill="#fff" stroke="#104b85" stroke-width="1.6" stroke-linejoin="miter"/>
<path d="M342.20 521.65L345.50 528.40L338.90 528.40Z" fill="#fff" stroke="#104b85" stroke-width="1.6" stroke-linejoin="miter"/>
<path d="M341.30 566.55L344.60 573.30L338.00 573.30Z" fill="#fff" stroke="#104b85" stroke-width="1.6" stroke-linejoin="miter"/>
<path d="M334.50 566.55L337.80 573.30L331.20 573.30Z" fill="#fff" stroke="#104b85" stroke-width="1.6" stroke-linejoin="miter"/>
<path d="M335.35 566.55L338.65 573.30L332.05 573.30Z" fill="#fff" stroke="#104b85" stroke-width="1.6" stroke-linejoin="miter"/>
<path d="M337.05 566.55L340.35 573.30L333.75 573.30Z" fill="#fff" stroke="#104b85" stroke-width="1.6" stroke-linejoin="miter"/>
<path d="M328.55 566.55L331.85 573.30L325.25 573.30Z" fill="#fff" stroke="#104b85" stroke-width="1.6" stroke-linejoin="miter"/>
<path d="M331.10 566.55L334.40 573.30L327.80 573.30Z" fill="#fff" stroke="#104b85" stroke-width="1.6" stroke-linejoin="miter"/>
<path d="M347.25 566.55L350.55 573.30L343.95 573.30Z" fill="#fff" stroke="#104b85" stroke-width="1.6" stroke-linejoin="miter"/>
<path d="M333.65 566.55L336.95 573.30L330.35 573.30Z" fill="#fff" stroke="#104b85" stroke-width="1.6" stroke-linejoin="miter"/>
<path d="M329.40 566.55L332.70 573.30L326.10 573.30Z" fill="#fff" stroke="#104b85" stroke-width="1.6" stroke-linejoin="miter"/>
<path d="M336.20 566.55L339.50 573.30L332.90 573.30Z" fill="#fff" stroke="#104b85" stroke-width="1.6" stroke-linejoin="miter"/>
<path d="M339.60 566.55L342.90 573.30L336.30 573.30Z" fill="#fff" stroke="#104b85" stroke-width="1.6" stroke-linejoin="miter"/>
<path d="M337.90 566.55L341.20 573.30L334.60 573.30Z" fill="#fff" stroke="#104b85" stroke-width="1.6" stroke-linejoin="miter"/>
<path d="M351.50 566.55L354.80 573.30L348.20 573.30Z" fill="#fff" stroke="#104b85" stroke-width="1.6" stroke-linejoin="miter"/>
<path d="M322.60 566.55L325.90 573.30L319.30 573.30Z" fill="#fff" stroke="#104b85" stroke-width="1.6" stroke-linejoin="miter"/>
<path d="M323.45 566.55L326.75 573.30L320.15 573.30Z" fill="#fff" stroke="#104b85" stroke-width="1.6" stroke-linejoin="miter"/>
<path d="M326.00 566.55L329.30 573.30L322.70 573.30Z" fill="#fff" stroke="#104b85" stroke-width="1.6" stroke-linejoin="miter"/>
<path d="M332.80 566.55L336.10 573.30L329.50 573.30Z" fill="#fff" stroke="#104b85" stroke-width="1.6" stroke-linejoin="miter"/>
<path d="M326.85 566.55L330.15 573.30L323.55 573.30Z" fill="#fff" stroke="#104b85" stroke-width="1.6" stroke-linejoin="miter"/>
<path d="M342.15 566.55L345.45 573.30L338.85 573.30Z" fill="#fff" stroke="#104b85" stroke-width="1.6" stroke-linejoin="miter"/>
<path d="M338.75 566.55L342.05 573.30L335.45 573.30Z" fill="#fff" stroke="#104b85" stroke-width="1.6" stroke-linejoin="miter"/>
<path d="M343.00 566.55L346.30 573.30L339.70 573.30Z" fill="#fff" stroke="#104b85" stroke-width="1.6" stroke-linejoin="miter"/>
<path d="M344.70 566.55L348.00 573.30L341.40 573.30Z" fill="#fff" stroke="#104b85" stroke-width="1.6" stroke-linejoin="miter"/>
<path d="M327.70 566.55L331.00 573.30L324.40 573.30Z" fill="#fff" stroke="#104b85" stroke-width="1.6" stroke-linejoin="miter"/>
<path d="M324.30 566.55L327.60 573.30L321.00 573.30Z" fill="#fff" stroke="#104b85" stroke-width="1.6" stroke-linejoin="miter"/>
<path d="M348.95 566.55L352.25 573.30L345.65 573.30Z" fill="#fff" stroke="#104b85" stroke-width="1.6" stroke-linejoin="miter"/>
<path d="M330.25 566.55L333.55 573.30L326.95 573.30Z" fill="#fff" stroke="#104b85" stroke-width="1.6" stroke-linejoin="miter"/>
<path d="M325.15 566.55L328.45 573.30L321.85 573.30Z" fill="#fff" stroke="#104b85" stroke-width="1.6" stroke-linejoin="miter"/>
<path d="M321.75 566.55L325.05 573.30L318.45 573.30Z" fill="#fff" stroke="#104b85" stroke-width="1.6" stroke-linejoin="miter"/>
<path d="M343.85 566.55L347.15 573.30L340.55 573.30Z" fill="#fff" stroke="#104b85" stroke-width="1.6" stroke-linejoin="miter"/>
<path d="M320.90 566.55L324.20 573.30L317.60 573.30Z" fill="#fff" stroke="#104b85" stroke-width="1.6" stroke-linejoin="miter"/>
<path d="M349.80 566.55L353.10 573.30L346.50 573.30Z" fill="#fff" stroke="#104b85" stroke-width="1.6" stroke-linejoin="miter"/>
<path d="M350.65 566.55L353.95 573.30L347.35 573.30Z" fill="#fff" stroke="#104b85" stroke-width="1.6" stroke-linejoin="miter"/>
<path d="M340.45 566.55L343.75 573.30L337.15 573.30Z" fill="#fff" stroke="#104b85" stroke-width="1.6" stroke-linejoin="miter"/>
<path d="M346.40 566.55L349.70 573.30L343.10 573.30Z" fill="#fff" stroke="#104b85" stroke-width="1.6" stroke-linejoin="miter"/>
<path d="M348.10 566.55L351.40 573.30L344.80 573.30Z" fill="#fff" stroke="#104b85" stroke-width="1.6" stroke-linejoin="miter"/>
<path d="M345.55 566.55L348.85 573.30L342.25 573.30Z" fill="#fff" stroke="#104b85" stroke-width="1.6" stroke-linejoin="miter"/>
<path d="M331.95 566.55L335.25 573.30L328.65 573.30Z" fill="#fff" stroke="#104b85" stroke-width="1.6" stroke-linejoin="miter"/>
<circle cx="398.00" cy="433.26" r="3.05" fill="#fff" stroke="#26ad3a" stroke-width="1.65"/>
<circle cx="392.20" cy="463.84" r="3.05" fill="#fff" stroke="#26ad3a" stroke-width="1.65"/>
<circle cx="404.60" cy="463.84" r="3.05" fill="#fff" stroke="#26ad3a" stroke-width="1.65"/>
<circle cx="398.00" cy="494.42" r="3.05" fill="#fff" stroke="#26ad3a" stroke-width="1.65"/>
<rect x="374.00" y="524.20" width="47.40" height="1.6" fill="#000"/>
<path d="M398.00 521.65L401.30 528.40L394.70 528.40Z" fill="#fff" stroke="#104b85" stroke-width="1.6" stroke-linejoin="miter"/>
<path d="M413.80 552.23L417.10 558.98L410.50 558.98Z" fill="#fff" stroke="#104b85" stroke-width="1.6" stroke-linejoin="miter"/>
<path d="M395.40 552.23L398.70 558.98L392.10 558.98Z" fill="#fff" stroke="#104b85" stroke-width="1.6" stroke-linejoin="miter"/>
<path d="M407.50 552.23L410.80 558.98L404.20 558.98Z" fill="#fff" stroke="#104b85" stroke-width="1.6" stroke-linejoin="miter"/>
<path d="M401.40 552.23L404.70 558.98L398.10 558.98Z" fill="#fff" stroke="#104b85" stroke-width="1.6" stroke-linejoin="miter"/>
<path d="M383.50 552.23L386.80 558.98L380.20 558.98Z" fill="#fff" stroke="#104b85" stroke-width="1.6" stroke-linejoin="miter"/>
<path d="M389.30 552.23L392.60 558.98L386.00 558.98Z" fill="#fff" stroke="#104b85" stroke-width="1.6" stroke-linejoin="miter"/>
<path d="M387.83 566.55L391.13 573.30L384.53 573.30Z" fill="#fff" stroke="#104b85" stroke-width="1.6" stroke-linejoin="miter"/>
<path d="M386.70 566.55L390.00 573.30L383.40 573.30Z" fill="#fff" stroke="#104b85" stroke-width="1.6" stroke-linejoin="miter"/>
<path d="M410.50 566.55L413.80 573.30L407.20 573.30Z" fill="#fff" stroke="#104b85" stroke-width="1.6" stroke-linejoin="miter"/>
<path d="M408.23 566.55L411.53 573.30L404.93 573.30Z" fill="#fff" stroke="#104b85" stroke-width="1.6" stroke-linejoin="miter"/>
<path d="M404.83 566.55L408.13 573.30L401.53 573.30Z" fill="#fff" stroke="#104b85" stroke-width="1.6" stroke-linejoin="miter"/>
<path d="M399.17 566.55L402.47 573.30L395.87 573.30Z" fill="#fff" stroke="#104b85" stroke-width="1.6" stroke-linejoin="miter"/>
<path d="M411.63 566.55L414.93 573.30L408.33 573.30Z" fill="#fff" stroke="#104b85" stroke-width="1.6" stroke-linejoin="miter"/>
<path d="M384.43 566.55L387.73 573.30L381.13 573.30Z" fill="#fff" stroke="#104b85" stroke-width="1.6" stroke-linejoin="miter"/>
<path d="M392.37 566.55L395.67 573.30L389.07 573.30Z" fill="#fff" stroke="#104b85" stroke-width="1.6" stroke-linejoin="miter"/>
<path d="M405.97 566.55L409.27 573.30L402.67 573.30Z" fill="#fff" stroke="#104b85" stroke-width="1.6" stroke-linejoin="miter"/>
<path d="M407.10 566.55L410.40 573.30L403.80 573.30Z" fill="#fff" stroke="#104b85" stroke-width="1.6" stroke-linejoin="miter"/>
<path d="M398.03 566.55L401.33 573.30L394.73 573.30Z" fill="#fff" stroke="#104b85" stroke-width="1.6" stroke-linejoin="miter"/>
<path d="M401.43 566.55L404.73 573.30L398.13 573.30Z" fill="#fff" stroke="#104b85" stroke-width="1.6" stroke-linejoin="miter"/>
<path d="M412.77 566.55L416.07 573.30L409.47 573.30Z" fill="#fff" stroke="#104b85" stroke-width="1.6" stroke-linejoin="miter"/>
<path d="M391.23 566.55L394.53 573.30L387.93 573.30Z" fill="#fff" stroke="#104b85" stroke-width="1.6" stroke-linejoin="miter"/>
<path d="M396.90 566.55L400.20 573.30L393.60 573.30Z" fill="#fff" stroke="#104b85" stroke-width="1.6" stroke-linejoin="miter"/>
<path d="M385.57 566.55L388.87 573.30L382.27 573.30Z" fill="#fff" stroke="#104b85" stroke-width="1.6" stroke-linejoin="miter"/>
<path d="M403.70 566.55L407.00 573.30L400.40 573.30Z" fill="#fff" stroke="#104b85" stroke-width="1.6" stroke-linejoin="miter"/>
<path d="M395.77 566.55L399.07 573.30L392.47 573.30Z" fill="#fff" stroke="#104b85" stroke-width="1.6" stroke-linejoin="miter"/>
<path d="M413.90 566.55L417.20 573.30L410.60 573.30Z" fill="#fff" stroke="#104b85" stroke-width="1.6" stroke-linejoin="miter"/>
<path d="M383.30 566.55L386.60 573.30L380.00 573.30Z" fill="#fff" stroke="#104b85" stroke-width="1.6" stroke-linejoin="miter"/>
<path d="M409.37 566.55L412.67 573.30L406.07 573.30Z" fill="#fff" stroke="#104b85" stroke-width="1.6" stroke-linejoin="miter"/>
<path d="M393.50 566.55L396.80 573.30L390.20 573.30Z" fill="#fff" stroke="#104b85" stroke-width="1.6" stroke-linejoin="miter"/>
<path d="M394.63 566.55L397.93 573.30L391.33 573.30Z" fill="#fff" stroke="#104b85" stroke-width="1.6" stroke-linejoin="miter"/>
<path d="M390.10 566.55L393.40 573.30L386.80 573.30Z" fill="#fff" stroke="#104b85" stroke-width="1.6" stroke-linejoin="miter"/>
<path d="M402.57 566.55L405.87 573.30L399.27 573.30Z" fill="#fff" stroke="#104b85" stroke-width="1.6" stroke-linejoin="miter"/>
<path d="M388.97 566.55L392.27 573.30L385.67 573.30Z" fill="#fff" stroke="#104b85" stroke-width="1.6" stroke-linejoin="miter"/>
<path d="M400.30 566.55L403.60 573.30L397.00 573.30Z" fill="#fff" stroke="#104b85" stroke-width="1.6" stroke-linejoin="miter"/>
<rect x="434.20" y="493.62" width="47.50" height="1.6" fill="#000"/>
<path d="M456.17 566.55L459.47 573.30L452.87 573.30Z" fill="#fff" stroke="#104b85" stroke-width="1.6" stroke-linejoin="miter"/>
<path d="M473.88 566.55L477.18 573.30L470.58 573.30Z" fill="#fff" stroke="#104b85" stroke-width="1.6" stroke-linejoin="miter"/>
<path d="M460.19 566.55L463.49 573.30L456.89 573.30Z" fill="#fff" stroke="#104b85" stroke-width="1.6" stroke-linejoin="miter"/>
<path d="M453.75 566.55L457.05 573.30L450.45 573.30Z" fill="#fff" stroke="#104b85" stroke-width="1.6" stroke-linejoin="miter"/>
<path d="M469.86 566.55L473.16 573.30L466.56 573.30Z" fill="#fff" stroke="#104b85" stroke-width="1.6" stroke-linejoin="miter"/>
<path d="M475.49 566.55L478.79 573.30L472.19 573.30Z" fill="#fff" stroke="#104b85" stroke-width="1.6" stroke-linejoin="miter"/>
<path d="M465.03 566.55L468.33 573.30L461.73 573.30Z" fill="#fff" stroke="#104b85" stroke-width="1.6" stroke-linejoin="miter"/>
<path d="M447.31 566.55L450.61 573.30L444.01 573.30Z" fill="#fff" stroke="#104b85" stroke-width="1.6" stroke-linejoin="miter"/>
<path d="M455.36 566.55L458.66 573.30L452.06 573.30Z" fill="#fff" stroke="#104b85" stroke-width="1.6" stroke-linejoin="miter"/>
<path d="M445.70 566.55L449.00 573.30L442.40 573.30Z" fill="#fff" stroke="#104b85" stroke-width="1.6" stroke-linejoin="miter"/>
<path d="M463.42 566.55L466.72 573.30L460.12 573.30Z" fill="#fff" stroke="#104b85" stroke-width="1.6" stroke-linejoin="miter"/>
<path d="M454.56 566.55L457.86 573.30L451.26 573.30Z" fill="#fff" stroke="#104b85" stroke-width="1.6" stroke-linejoin="miter"/>
<path d="M471.47 566.55L474.77 573.30L468.17 573.30Z" fill="#fff" stroke="#104b85" stroke-width="1.6" stroke-linejoin="miter"/>
<path d="M458.58 566.55L461.88 573.30L455.28 573.30Z" fill="#fff" stroke="#104b85" stroke-width="1.6" stroke-linejoin="miter"/>
<path d="M476.30 566.55L479.60 573.30L473.00 573.30Z" fill="#fff" stroke="#104b85" stroke-width="1.6" stroke-linejoin="miter"/>
<path d="M457.78 566.55L461.08 573.30L454.48 573.30Z" fill="#fff" stroke="#104b85" stroke-width="1.6" stroke-linejoin="miter"/>
<path d="M472.27 566.55L475.57 573.30L468.97 573.30Z" fill="#fff" stroke="#104b85" stroke-width="1.6" stroke-linejoin="miter"/>
<path d="M448.12 566.55L451.42 573.30L444.82 573.30Z" fill="#fff" stroke="#104b85" stroke-width="1.6" stroke-linejoin="miter"/>
<path d="M473.08 566.55L476.38 573.30L469.78 573.30Z" fill="#fff" stroke="#104b85" stroke-width="1.6" stroke-linejoin="miter"/>
<path d="M456.97 566.55L460.27 573.30L453.67 573.30Z" fill="#fff" stroke="#104b85" stroke-width="1.6" stroke-linejoin="miter"/>
<path d="M464.22 566.55L467.52 573.30L460.92 573.30Z" fill="#fff" stroke="#104b85" stroke-width="1.6" stroke-linejoin="miter"/>
<path d="M465.83 566.55L469.13 573.30L462.53 573.30Z" fill="#fff" stroke="#104b85" stroke-width="1.6" stroke-linejoin="miter"/>
<path d="M452.95 566.55L456.25 573.30L449.65 573.30Z" fill="#fff" stroke="#104b85" stroke-width="1.6" stroke-linejoin="miter"/>
<path d="M449.73 566.55L453.03 573.30L446.43 573.30Z" fill="#fff" stroke="#104b85" stroke-width="1.6" stroke-linejoin="miter"/>
<path d="M462.61 566.55L465.91 573.30L459.31 573.30Z" fill="#fff" stroke="#104b85" stroke-width="1.6" stroke-linejoin="miter"/>
<path d="M446.51 566.55L449.81 573.30L443.21 573.30Z" fill="#fff" stroke="#104b85" stroke-width="1.6" stroke-linejoin="miter"/>
<path d="M461.81 566.55L465.11 573.30L458.51 573.30Z" fill="#fff" stroke="#104b85" stroke-width="1.6" stroke-linejoin="miter"/>
<path d="M450.53 566.55L453.83 573.30L447.23 573.30Z" fill="#fff" stroke="#104b85" stroke-width="1.6" stroke-linejoin="miter"/>
<path d="M468.25 566.55L471.55 573.30L464.95 573.30Z" fill="#fff" stroke="#104b85" stroke-width="1.6" stroke-linejoin="miter"/>
<path d="M452.14 566.55L455.44 573.30L448.84 573.30Z" fill="#fff" stroke="#104b85" stroke-width="1.6" stroke-linejoin="miter"/>
<path d="M461.00 566.55L464.30 573.30L457.70 573.30Z" fill="#fff" stroke="#104b85" stroke-width="1.6" stroke-linejoin="miter"/>
<path d="M470.66 566.55L473.96 573.30L467.36 573.30Z" fill="#fff" stroke="#104b85" stroke-width="1.6" stroke-linejoin="miter"/>
<path d="M467.44 566.55L470.74 573.30L464.14 573.30Z" fill="#fff" stroke="#104b85" stroke-width="1.6" stroke-linejoin="miter"/>
<path d="M459.39 566.55L462.69 573.30L456.09 573.30Z" fill="#fff" stroke="#104b85" stroke-width="1.6" stroke-linejoin="miter"/>
<path d="M474.69 566.55L477.99 573.30L471.39 573.30Z" fill="#fff" stroke="#104b85" stroke-width="1.6" stroke-linejoin="miter"/>
<path d="M469.05 566.55L472.35 573.30L465.75 573.30Z" fill="#fff" stroke="#104b85" stroke-width="1.6" stroke-linejoin="miter"/>
<path d="M466.64 566.55L469.94 573.30L463.34 573.30Z" fill="#fff" stroke="#104b85" stroke-width="1.6" stroke-linejoin="miter"/>
<path d="M451.34 566.55L454.64 573.30L448.04 573.30Z" fill="#fff" stroke="#104b85" stroke-width="1.6" stroke-linejoin="miter"/>
<path d="M448.92 566.55L452.22 573.30L445.62 573.30Z" fill="#fff" stroke="#104b85" stroke-width="1.6" stroke-linejoin="miter"/>
<text x="11.9" y="678.8" font-family="Liberation Sans" font-weight="bold" font-size="23.2" stroke="#000" stroke-width="0.55">C</text>
<g transform="translate(241.43,678.20) scale(1.0996,1)"><text x="0.00" y="0" font-family="Liberation Sans" font-size="17.6" font-weight="bold" stroke="#000" stroke-width="0.45">Healthy (n</text></g>
<g transform="translate(349.43,678.20) scale(1.0715,1)"><text x="0.00" y="0" font-family="Liberation Sans" font-size="17.6" font-weight="bold" stroke="#000" stroke-width="0.45">90)</text></g>
<rect x="335.20" y="669.75" width="13.40" height="2.15" fill="#000"/>
<rect x="335.20" y="673.70" width="13.40" height="2.3" fill="#000"/>
<text transform="translate(31.9,890.10) rotate(-90)" font-family="Liberation Sans" font-size="19.6" textLength="185.9" lengthAdjust="spacingAndGlyphs">Titer of FVIII-binding antibodies</text>
<text transform="translate(31.9,889.55) rotate(-90)" font-family="Liberation Sans" font-size="19.6" textLength="185.9" lengthAdjust="spacingAndGlyphs">Titer of FVIII-binding antibodies</text>
<g transform="translate(43.66,699.10) scale(1.0000,1)"><path transform="translate(0.00,0) scale(0.0160,-0.0160)" d="M273 0L273 491L101 491L101 557C230 567 261 594 290 703L359 703L359 0Z"/><text x="9.35" y="0" font-family="Liberation Sans" font-size="16" letter-spacing="0.45">:</text><path transform="translate(14.24,0) scale(0.0160,-0.0160)" d="M273 0L273 491L101 491L101 557C230 567 261 594 290 703L359 703L359 0Z"/><text x="23.59" y="0" font-family="Liberation Sans" font-size="16" letter-spacing="0.45">280</text></g>
<g transform="translate(53.01,729.68) scale(1.0000,1)"><path transform="translate(0.00,0) scale(0.0160,-0.0160)" d="M273 0L273 491L101 491L101 557C230 567 261 594 290 703L359 703L359 0Z"/><text x="9.35" y="0" font-family="Liberation Sans" font-size="16" letter-spacing="0.45">:640</text></g>
<g transform="translate(53.01,760.26) scale(1.0000,1)"><path transform="translate(0.00,0) scale(0.0160,-0.0160)" d="M273 0L273 491L101 491L101 557C230 567 261 594 290 703L359 703L359 0Z"/><text x="9.35" y="0" font-family="Liberation Sans" font-size="16" letter-spacing="0.45">:320</text></g>
<g transform="translate(53.01,790.84) scale(1.0000,1)"><path transform="translate(0.00,0) scale(0.0160,-0.0160)" d="M273 0L273 491L101 491L101 557C230 567 261 594 290 703L359 703L359 0Z"/><text x="9.35" y="0" font-family="Liberation Sans" font-size="16" letter-spacing="0.45">:</text><path transform="translate(14.24,0) scale(0.0160,-0.0160)" d="M273 0L273 491L101 491L101 557C230 567 261 594 290 703L359 703L359 0Z"/><text x="23.59" y="0" font-family="Liberation Sans" font-size="16" letter-spacing="0.45">60</text></g>
<g transform="translate(62.36,821.42) scale(1.0000,1)"><path transform="translate(0.00,0) scale(0.0160,-0.0160)" d="M273 0L273 491L101 491L101 557C230 567 261 594 290 703L359 703L359 0Z"/><text x="9.35" y="0" font-family="Liberation Sans" font-size="16" letter-spacing="0.45">:80</text></g>
<g transform="translate(62.36,852.00) scale(1.0000,1)"><path transform="translate(0.00,0) scale(0.0160,-0.0160)" d="M273 0L273 491L101 491L101 557C230 567 261 594 290 703L359 703L359 0Z"/><text x="9.35" y="0" font-family="Liberation Sans" font-size="16" letter-spacing="0.45">:40</text></g>
<g transform="translate(62.36,882.58) scale(1.0000,1)"><path transform="translate(0.00,0) scale(0.0160,-0.0160)" d="M273 0L273 491L101 491L101 557C230 567 261 594 290 703L359 703L359 0Z"/><text x="9.35" y="0" font-family="Liberation Sans" font-size="16" letter-spacing="0.45">:20</text></g>
<text x="95.2" y="899.20" text-anchor="end" font-family="Liberation Sans" font-size="15.4" letter-spacing="0.6">ND</text>
<rect x="104.5" y="688.40" width="1.8" height="189.60" fill="#000"/>
<rect x="103" y="877.00" width="4" height="1.2" fill="#000"/>
<rect x="104.5" y="885.00" width="1.8" height="14.40" fill="#000"/>
<rect x="103" y="884.90" width="4" height="1.2" fill="#000"/>
<rect x="101.2" y="693.15" width="3.5" height="1.5" fill="#000"/>
<rect x="101.2" y="723.73" width="3.5" height="1.5" fill="#000"/>
<rect x="101.2" y="754.31" width="3.5" height="1.5" fill="#000"/>
<rect x="101.2" y="784.89" width="3.5" height="1.5" fill="#000"/>
<rect x="101.2" y="815.47" width="3.5" height="1.5" fill="#000"/>
<rect x="101.2" y="846.05" width="3.5" height="1.5" fill="#000"/>
<rect x="101" y="898.50" width="405.30" height="1.9" fill="#000"/>
<rect x="148.40" y="899.40" width="1.7" height="4" fill="#000"/>
<rect x="210.73" y="899.40" width="1.7" height="4" fill="#000"/>
<rect x="273.06" y="899.40" width="1.7" height="4" fill="#000"/>
<rect x="335.39" y="899.40" width="1.7" height="4" fill="#000"/>
<rect x="397.72" y="899.40" width="1.7" height="4" fill="#000"/>
<rect x="460.05" y="899.40" width="1.7" height="4" fill="#000"/>
<g transform="translate(131.83,922.40) scale(1.0000,1)"><text x="0.00" y="0" font-family="Liberation Sans" font-size="15.7">IgG</text><path transform="translate(25.31,0) scale(0.0157,-0.0157)" d="M273 0L273 491L101 491L101 557C230 567 261 594 290 703L359 703L359 0Z"/></g>
<g transform="translate(194.16,922.40) scale(1.0000,1)"><text x="0.00" y="0" font-family="Liberation Sans" font-size="15.7">IgG2</text></g>
<g transform="translate(256.49,922.40) scale(1.0000,1)"><text x="0.00" y="0" font-family="Liberation Sans" font-size="15.7">IgG3</text></g>
<g transform="translate(318.82,922.40) scale(1.0000,1)"><text x="0.00" y="0" font-family="Liberation Sans" font-size="15.7">IgG4</text></g>
<g transform="translate(386.39,922.40) scale(1.0000,1)"><text x="0.00" y="0" font-family="Liberation Sans" font-size="15.7">IgA</text></g>
<g transform="translate(447.41,922.40) scale(1.0000,1)"><text x="0.00" y="0" font-family="Liberation Sans" font-size="15.7">IgM</text></g>
<text x="258.30" y="953.30" font-family="Liberation Sans" font-size="18.6" textLength="51.0" lengthAdjust="spacingAndGlyphs">Subclass</text>
<text x="317.00" y="953.30" font-family="Liberation Sans" font-size="18.6" textLength="41.4" lengthAdjust="spacingAndGlyphs">Isotype</text>
<text x="258.85" y="953.30" font-family="Liberation Sans" font-size="18.6" textLength="51.0" lengthAdjust="spacingAndGlyphs">Subclass</text>
<text x="317.55" y="953.30" font-family="Liberation Sans" font-size="18.6" textLength="41.4" lengthAdjust="spacingAndGlyphs">Isotype</text>
<path d="M310.0 953.30L311.6 953.30L315.5 940.40L313.9 940.40Z" fill="#000"/>
<circle cx="149.20" cy="816.22" r="3.05" fill="#fff" stroke="#26ad3a" stroke-width="1.65"/>
<rect x="126.30" y="846.00" width="47.00" height="1.6" fill="#000"/>
<circle cx="134.10" cy="846.80" r="3.05" fill="#fff" stroke="#26ad3a" stroke-width="1.65"/>
<circle cx="141.30" cy="846.80" r="3.05" fill="#fff" stroke="#26ad3a" stroke-width="1.65"/>
<circle cx="149.20" cy="846.80" r="3.05" fill="#fff" stroke="#26ad3a" stroke-width="1.65"/>
<path d="M156.90 843.45L160.20 850.20L153.60 850.20Z" fill="#fff" stroke="#104b85" stroke-width="1.6" stroke-linejoin="miter"/>
<circle cx="165.00" cy="846.80" r="3.05" fill="#fff" stroke="#26ad3a" stroke-width="1.65"/>
<path d="M137.17 874.03L140.47 880.78L133.87 880.78Z" fill="#fff" stroke="#104b85" stroke-width="1.6" stroke-linejoin="miter"/>
<path d="M144.10 874.03L147.40 880.78L140.80 880.78Z" fill="#fff" stroke="#104b85" stroke-width="1.6" stroke-linejoin="miter"/>
<path d="M151.03 874.03L154.33 880.78L147.73 880.78Z" fill="#fff" stroke="#104b85" stroke-width="1.6" stroke-linejoin="miter"/>
<path d="M157.97 874.03L161.27 880.78L154.67 880.78Z" fill="#fff" stroke="#104b85" stroke-width="1.6" stroke-linejoin="miter"/>
<path d="M164.90 874.03L168.20 880.78L161.60 880.78Z" fill="#fff" stroke="#104b85" stroke-width="1.6" stroke-linejoin="miter"/>
<path d="M133.70 874.03L137.00 880.78L130.40 880.78Z" fill="#fff" stroke="#104b85" stroke-width="1.6" stroke-linejoin="miter"/>
<path d="M140.63 874.03L143.93 880.78L137.33 880.78Z" fill="#fff" stroke="#104b85" stroke-width="1.6" stroke-linejoin="miter"/>
<path d="M147.57 874.03L150.87 880.78L144.27 880.78Z" fill="#fff" stroke="#104b85" stroke-width="1.6" stroke-linejoin="miter"/>
<path d="M154.50 874.03L157.80 880.78L151.20 880.78Z" fill="#fff" stroke="#104b85" stroke-width="1.6" stroke-linejoin="miter"/>
<path d="M161.43 874.03L164.73 880.78L158.13 880.78Z" fill="#fff" stroke="#104b85" stroke-width="1.6" stroke-linejoin="miter"/>
<path d="M139.19 888.35L142.49 895.10L135.89 895.10Z" fill="#fff" stroke="#104b85" stroke-width="1.6" stroke-linejoin="miter"/>
<path d="M144.37 888.35L147.67 895.10L141.07 895.10Z" fill="#fff" stroke="#104b85" stroke-width="1.6" stroke-linejoin="miter"/>
<path d="M140.74 888.35L144.04 895.10L137.44 895.10Z" fill="#fff" stroke="#104b85" stroke-width="1.6" stroke-linejoin="miter"/>
<path d="M154.23 888.35L157.53 895.10L150.93 895.10Z" fill="#fff" stroke="#104b85" stroke-width="1.6" stroke-linejoin="miter"/>
<path d="M136.59 888.35L139.89 895.10L133.29 895.10Z" fill="#fff" stroke="#104b85" stroke-width="1.6" stroke-linejoin="miter"/>
<path d="M156.82 888.35L160.12 895.10L153.52 895.10Z" fill="#fff" stroke="#104b85" stroke-width="1.6" stroke-linejoin="miter"/>
<path d="M157.34 888.35L160.64 895.10L154.04 895.10Z" fill="#fff" stroke="#104b85" stroke-width="1.6" stroke-linejoin="miter"/>
<path d="M155.26 888.35L158.56 895.10L151.96 895.10Z" fill="#fff" stroke="#104b85" stroke-width="1.6" stroke-linejoin="miter"/>
<path d="M145.93 888.35L149.23 895.10L142.63 895.10Z" fill="#fff" stroke="#104b85" stroke-width="1.6" stroke-linejoin="miter"/>
<path d="M141.78 888.35L145.08 895.10L138.48 895.10Z" fill="#fff" stroke="#104b85" stroke-width="1.6" stroke-linejoin="miter"/>
<path d="M151.63 888.35L154.93 895.10L148.33 895.10Z" fill="#fff" stroke="#104b85" stroke-width="1.6" stroke-linejoin="miter"/>
<path d="M164.60 888.35L167.90 895.10L161.30 895.10Z" fill="#fff" stroke="#104b85" stroke-width="1.6" stroke-linejoin="miter"/>
<path d="M144.89 888.35L148.19 895.10L141.59 895.10Z" fill="#fff" stroke="#104b85" stroke-width="1.6" stroke-linejoin="miter"/>
<path d="M158.38 888.35L161.68 895.10L155.08 895.10Z" fill="#fff" stroke="#104b85" stroke-width="1.6" stroke-linejoin="miter"/>
<path d="M146.45 888.35L149.75 895.10L143.15 895.10Z" fill="#fff" stroke="#104b85" stroke-width="1.6" stroke-linejoin="miter"/>
<path d="M163.04 888.35L166.34 895.10L159.74 895.10Z" fill="#fff" stroke="#104b85" stroke-width="1.6" stroke-linejoin="miter"/>
<path d="M153.71 888.35L157.01 895.10L150.41 895.10Z" fill="#fff" stroke="#104b85" stroke-width="1.6" stroke-linejoin="miter"/>
<path d="M134.00 888.35L137.30 895.10L130.70 895.10Z" fill="#fff" stroke="#104b85" stroke-width="1.6" stroke-linejoin="miter"/>
<path d="M156.30 888.35L159.60 895.10L153.00 895.10Z" fill="#fff" stroke="#104b85" stroke-width="1.6" stroke-linejoin="miter"/>
<path d="M159.93 888.35L163.23 895.10L156.63 895.10Z" fill="#fff" stroke="#104b85" stroke-width="1.6" stroke-linejoin="miter"/>
<path d="M138.67 888.35L141.97 895.10L135.37 895.10Z" fill="#fff" stroke="#104b85" stroke-width="1.6" stroke-linejoin="miter"/>
<path d="M157.86 888.35L161.16 895.10L154.56 895.10Z" fill="#fff" stroke="#104b85" stroke-width="1.6" stroke-linejoin="miter"/>
<path d="M141.26 888.35L144.56 895.10L137.96 895.10Z" fill="#fff" stroke="#104b85" stroke-width="1.6" stroke-linejoin="miter"/>
<path d="M135.04 888.35L138.34 895.10L131.74 895.10Z" fill="#fff" stroke="#104b85" stroke-width="1.6" stroke-linejoin="miter"/>
<path d="M160.45 888.35L163.75 895.10L157.15 895.10Z" fill="#fff" stroke="#104b85" stroke-width="1.6" stroke-linejoin="miter"/>
<path d="M158.89 888.35L162.19 895.10L155.59 895.10Z" fill="#fff" stroke="#104b85" stroke-width="1.6" stroke-linejoin="miter"/>
<path d="M137.11 888.35L140.41 895.10L133.81 895.10Z" fill="#fff" stroke="#104b85" stroke-width="1.6" stroke-linejoin="miter"/>
<path d="M160.97 888.35L164.27 895.10L157.67 895.10Z" fill="#fff" stroke="#104b85" stroke-width="1.6" stroke-linejoin="miter"/>
<path d="M143.34 888.35L146.64 895.10L140.04 895.10Z" fill="#fff" stroke="#104b85" stroke-width="1.6" stroke-linejoin="miter"/>
<path d="M138.15 888.35L141.45 895.10L134.85 895.10Z" fill="#fff" stroke="#104b85" stroke-width="1.6" stroke-linejoin="miter"/>
<path d="M161.49 888.35L164.79 895.10L158.19 895.10Z" fill="#fff" stroke="#104b85" stroke-width="1.6" stroke-linejoin="miter"/>
<path d="M135.56 888.35L138.86 895.10L132.26 895.10Z" fill="#fff" stroke="#104b85" stroke-width="1.6" stroke-linejoin="miter"/>
<path d="M162.01 888.35L165.31 895.10L158.71 895.10Z" fill="#fff" stroke="#104b85" stroke-width="1.6" stroke-linejoin="miter"/>
<path d="M162.53 888.35L165.83 895.10L159.23 895.10Z" fill="#fff" stroke="#104b85" stroke-width="1.6" stroke-linejoin="miter"/>
<path d="M159.41 888.35L162.71 895.10L156.11 895.10Z" fill="#fff" stroke="#104b85" stroke-width="1.6" stroke-linejoin="miter"/>
<path d="M148.00 888.35L151.30 895.10L144.70 895.10Z" fill="#fff" stroke="#104b85" stroke-width="1.6" stroke-linejoin="miter"/>
<path d="M152.15 888.35L155.45 895.10L148.85 895.10Z" fill="#fff" stroke="#104b85" stroke-width="1.6" stroke-linejoin="miter"/>
<path d="M145.41 888.35L148.71 895.10L142.11 895.10Z" fill="#fff" stroke="#104b85" stroke-width="1.6" stroke-linejoin="miter"/>
<path d="M154.75 888.35L158.05 895.10L151.45 895.10Z" fill="#fff" stroke="#104b85" stroke-width="1.6" stroke-linejoin="miter"/>
<path d="M155.78 888.35L159.08 895.10L152.48 895.10Z" fill="#fff" stroke="#104b85" stroke-width="1.6" stroke-linejoin="miter"/>
<path d="M147.48 888.35L150.78 895.10L144.18 895.10Z" fill="#fff" stroke="#104b85" stroke-width="1.6" stroke-linejoin="miter"/>
<path d="M142.30 888.35L145.60 895.10L139.00 895.10Z" fill="#fff" stroke="#104b85" stroke-width="1.6" stroke-linejoin="miter"/>
<path d="M134.52 888.35L137.82 895.10L131.22 895.10Z" fill="#fff" stroke="#104b85" stroke-width="1.6" stroke-linejoin="miter"/>
<path d="M164.08 888.35L167.38 895.10L160.78 895.10Z" fill="#fff" stroke="#104b85" stroke-width="1.6" stroke-linejoin="miter"/>
<path d="M148.52 888.35L151.82 895.10L145.22 895.10Z" fill="#fff" stroke="#104b85" stroke-width="1.6" stroke-linejoin="miter"/>
<path d="M140.22 888.35L143.52 895.10L136.92 895.10Z" fill="#fff" stroke="#104b85" stroke-width="1.6" stroke-linejoin="miter"/>
<path d="M163.56 888.35L166.86 895.10L160.26 895.10Z" fill="#fff" stroke="#104b85" stroke-width="1.6" stroke-linejoin="miter"/>
<path d="M151.12 888.35L154.42 895.10L147.82 895.10Z" fill="#fff" stroke="#104b85" stroke-width="1.6" stroke-linejoin="miter"/>
<path d="M146.97 888.35L150.27 895.10L143.67 895.10Z" fill="#fff" stroke="#104b85" stroke-width="1.6" stroke-linejoin="miter"/>
<path d="M150.08 888.35L153.38 895.10L146.78 895.10Z" fill="#fff" stroke="#104b85" stroke-width="1.6" stroke-linejoin="miter"/>
<path d="M136.07 888.35L139.37 895.10L132.77 895.10Z" fill="#fff" stroke="#104b85" stroke-width="1.6" stroke-linejoin="miter"/>
<path d="M153.19 888.35L156.49 895.10L149.89 895.10Z" fill="#fff" stroke="#104b85" stroke-width="1.6" stroke-linejoin="miter"/>
<path d="M143.85 888.35L147.15 895.10L140.55 895.10Z" fill="#fff" stroke="#104b85" stroke-width="1.6" stroke-linejoin="miter"/>
<path d="M149.04 888.35L152.34 895.10L145.74 895.10Z" fill="#fff" stroke="#104b85" stroke-width="1.6" stroke-linejoin="miter"/>
<path d="M139.71 888.35L143.01 895.10L136.41 895.10Z" fill="#fff" stroke="#104b85" stroke-width="1.6" stroke-linejoin="miter"/>
<path d="M152.67 888.35L155.97 895.10L149.37 895.10Z" fill="#fff" stroke="#104b85" stroke-width="1.6" stroke-linejoin="miter"/>
<path d="M149.56 888.35L152.86 895.10L146.26 895.10Z" fill="#fff" stroke="#104b85" stroke-width="1.6" stroke-linejoin="miter"/>
<path d="M150.60 888.35L153.90 895.10L147.30 895.10Z" fill="#fff" stroke="#104b85" stroke-width="1.6" stroke-linejoin="miter"/>
<path d="M137.63 888.35L140.93 895.10L134.33 895.10Z" fill="#fff" stroke="#104b85" stroke-width="1.6" stroke-linejoin="miter"/>
<path d="M142.82 888.35L146.12 895.10L139.52 895.10Z" fill="#fff" stroke="#104b85" stroke-width="1.6" stroke-linejoin="miter"/>
<rect x="186.75" y="815.42" width="47.25" height="1.6" fill="#000"/>
<path d="M211.50 874.03L214.80 880.78L208.20 880.78Z" fill="#fff" stroke="#104b85" stroke-width="1.6" stroke-linejoin="miter"/>
<path d="M205.34 888.35L208.64 895.10L202.04 895.10Z" fill="#fff" stroke="#104b85" stroke-width="1.6" stroke-linejoin="miter"/>
<path d="M209.17 888.35L212.47 895.10L205.87 895.10Z" fill="#fff" stroke="#104b85" stroke-width="1.6" stroke-linejoin="miter"/>
<path d="M205.69 888.35L208.99 895.10L202.39 895.10Z" fill="#fff" stroke="#104b85" stroke-width="1.6" stroke-linejoin="miter"/>
<path d="M209.51 888.35L212.81 895.10L206.21 895.10Z" fill="#fff" stroke="#104b85" stroke-width="1.6" stroke-linejoin="miter"/>
<path d="M226.90 888.35L230.20 895.10L223.60 895.10Z" fill="#fff" stroke="#104b85" stroke-width="1.6" stroke-linejoin="miter"/>
<path d="M216.82 888.35L220.12 895.10L213.52 895.10Z" fill="#fff" stroke="#104b85" stroke-width="1.6" stroke-linejoin="miter"/>
<path d="M213.34 888.35L216.64 895.10L210.04 895.10Z" fill="#fff" stroke="#104b85" stroke-width="1.6" stroke-linejoin="miter"/>
<path d="M208.12 888.35L211.42 895.10L204.82 895.10Z" fill="#fff" stroke="#104b85" stroke-width="1.6" stroke-linejoin="miter"/>
<path d="M218.90 888.35L222.20 895.10L215.60 895.10Z" fill="#fff" stroke="#104b85" stroke-width="1.6" stroke-linejoin="miter"/>
<path d="M219.60 888.35L222.90 895.10L216.30 895.10Z" fill="#fff" stroke="#104b85" stroke-width="1.6" stroke-linejoin="miter"/>
<path d="M196.65 888.35L199.95 895.10L193.35 895.10Z" fill="#fff" stroke="#104b85" stroke-width="1.6" stroke-linejoin="miter"/>
<path d="M214.03 888.35L217.33 895.10L210.73 895.10Z" fill="#fff" stroke="#104b85" stroke-width="1.6" stroke-linejoin="miter"/>
<path d="M200.47 888.35L203.77 895.10L197.17 895.10Z" fill="#fff" stroke="#104b85" stroke-width="1.6" stroke-linejoin="miter"/>
<path d="M224.81 888.35L228.11 895.10L221.51 895.10Z" fill="#fff" stroke="#104b85" stroke-width="1.6" stroke-linejoin="miter"/>
<path d="M211.25 888.35L214.55 895.10L207.95 895.10Z" fill="#fff" stroke="#104b85" stroke-width="1.6" stroke-linejoin="miter"/>
<path d="M213.69 888.35L216.99 895.10L210.39 895.10Z" fill="#fff" stroke="#104b85" stroke-width="1.6" stroke-linejoin="miter"/>
<path d="M221.68 888.35L224.98 895.10L218.38 895.10Z" fill="#fff" stroke="#104b85" stroke-width="1.6" stroke-linejoin="miter"/>
<path d="M220.64 888.35L223.94 895.10L217.34 895.10Z" fill="#fff" stroke="#104b85" stroke-width="1.6" stroke-linejoin="miter"/>
<path d="M225.16 888.35L228.46 895.10L221.86 895.10Z" fill="#fff" stroke="#104b85" stroke-width="1.6" stroke-linejoin="miter"/>
<path d="M224.12 888.35L227.42 895.10L220.82 895.10Z" fill="#fff" stroke="#104b85" stroke-width="1.6" stroke-linejoin="miter"/>
<path d="M208.82 888.35L212.12 895.10L205.52 895.10Z" fill="#fff" stroke="#104b85" stroke-width="1.6" stroke-linejoin="miter"/>
<path d="M215.08 888.35L218.38 895.10L211.78 895.10Z" fill="#fff" stroke="#104b85" stroke-width="1.6" stroke-linejoin="miter"/>
<path d="M207.43 888.35L210.73 895.10L204.13 895.10Z" fill="#fff" stroke="#104b85" stroke-width="1.6" stroke-linejoin="miter"/>
<path d="M201.86 888.35L205.16 895.10L198.56 895.10Z" fill="#fff" stroke="#104b85" stroke-width="1.6" stroke-linejoin="miter"/>
<path d="M196.30 888.35L199.60 895.10L193.00 895.10Z" fill="#fff" stroke="#104b85" stroke-width="1.6" stroke-linejoin="miter"/>
<path d="M204.65 888.35L207.95 895.10L201.35 895.10Z" fill="#fff" stroke="#104b85" stroke-width="1.6" stroke-linejoin="miter"/>
<path d="M199.78 888.35L203.08 895.10L196.48 895.10Z" fill="#fff" stroke="#104b85" stroke-width="1.6" stroke-linejoin="miter"/>
<path d="M223.77 888.35L227.07 895.10L220.47 895.10Z" fill="#fff" stroke="#104b85" stroke-width="1.6" stroke-linejoin="miter"/>
<path d="M217.16 888.35L220.46 895.10L213.86 895.10Z" fill="#fff" stroke="#104b85" stroke-width="1.6" stroke-linejoin="miter"/>
<path d="M210.56 888.35L213.86 895.10L207.26 895.10Z" fill="#fff" stroke="#104b85" stroke-width="1.6" stroke-linejoin="miter"/>
<path d="M206.04 888.35L209.34 895.10L202.74 895.10Z" fill="#fff" stroke="#104b85" stroke-width="1.6" stroke-linejoin="miter"/>
<path d="M219.25 888.35L222.55 895.10L215.95 895.10Z" fill="#fff" stroke="#104b85" stroke-width="1.6" stroke-linejoin="miter"/>
<path d="M210.90 888.35L214.20 895.10L207.60 895.10Z" fill="#fff" stroke="#104b85" stroke-width="1.6" stroke-linejoin="miter"/>
<path d="M199.43 888.35L202.73 895.10L196.13 895.10Z" fill="#fff" stroke="#104b85" stroke-width="1.6" stroke-linejoin="miter"/>
<path d="M214.73 888.35L218.03 895.10L211.43 895.10Z" fill="#fff" stroke="#104b85" stroke-width="1.6" stroke-linejoin="miter"/>
<path d="M204.30 888.35L207.60 895.10L201.00 895.10Z" fill="#fff" stroke="#104b85" stroke-width="1.6" stroke-linejoin="miter"/>
<path d="M208.47 888.35L211.77 895.10L205.17 895.10Z" fill="#fff" stroke="#104b85" stroke-width="1.6" stroke-linejoin="miter"/>
<path d="M197.00 888.35L200.30 895.10L193.70 895.10Z" fill="#fff" stroke="#104b85" stroke-width="1.6" stroke-linejoin="miter"/>
<path d="M197.69 888.35L200.99 895.10L194.39 895.10Z" fill="#fff" stroke="#104b85" stroke-width="1.6" stroke-linejoin="miter"/>
<path d="M215.42 888.35L218.72 895.10L212.12 895.10Z" fill="#fff" stroke="#104b85" stroke-width="1.6" stroke-linejoin="miter"/>
<path d="M218.55 888.35L221.85 895.10L215.25 895.10Z" fill="#fff" stroke="#104b85" stroke-width="1.6" stroke-linejoin="miter"/>
<path d="M220.99 888.35L224.29 895.10L217.69 895.10Z" fill="#fff" stroke="#104b85" stroke-width="1.6" stroke-linejoin="miter"/>
<path d="M225.51 888.35L228.81 895.10L222.21 895.10Z" fill="#fff" stroke="#104b85" stroke-width="1.6" stroke-linejoin="miter"/>
<path d="M222.38 888.35L225.68 895.10L219.08 895.10Z" fill="#fff" stroke="#104b85" stroke-width="1.6" stroke-linejoin="miter"/>
<path d="M221.34 888.35L224.64 895.10L218.04 895.10Z" fill="#fff" stroke="#104b85" stroke-width="1.6" stroke-linejoin="miter"/>
<path d="M202.21 888.35L205.51 895.10L198.91 895.10Z" fill="#fff" stroke="#104b85" stroke-width="1.6" stroke-linejoin="miter"/>
<path d="M225.86 888.35L229.16 895.10L222.56 895.10Z" fill="#fff" stroke="#104b85" stroke-width="1.6" stroke-linejoin="miter"/>
<path d="M219.95 888.35L223.25 895.10L216.65 895.10Z" fill="#fff" stroke="#104b85" stroke-width="1.6" stroke-linejoin="miter"/>
<path d="M201.52 888.35L204.82 895.10L198.22 895.10Z" fill="#fff" stroke="#104b85" stroke-width="1.6" stroke-linejoin="miter"/>
<path d="M198.73 888.35L202.03 895.10L195.43 895.10Z" fill="#fff" stroke="#104b85" stroke-width="1.6" stroke-linejoin="miter"/>
<path d="M210.21 888.35L213.51 895.10L206.91 895.10Z" fill="#fff" stroke="#104b85" stroke-width="1.6" stroke-linejoin="miter"/>
<path d="M198.39 888.35L201.69 895.10L195.09 895.10Z" fill="#fff" stroke="#104b85" stroke-width="1.6" stroke-linejoin="miter"/>
<path d="M226.55 888.35L229.85 895.10L223.25 895.10Z" fill="#fff" stroke="#104b85" stroke-width="1.6" stroke-linejoin="miter"/>
<path d="M223.07 888.35L226.38 895.10L219.77 895.10Z" fill="#fff" stroke="#104b85" stroke-width="1.6" stroke-linejoin="miter"/>
<path d="M224.47 888.35L227.77 895.10L221.17 895.10Z" fill="#fff" stroke="#104b85" stroke-width="1.6" stroke-linejoin="miter"/>
<path d="M216.12 888.35L219.42 895.10L212.82 895.10Z" fill="#fff" stroke="#104b85" stroke-width="1.6" stroke-linejoin="miter"/>
<path d="M206.38 888.35L209.68 895.10L203.08 895.10Z" fill="#fff" stroke="#104b85" stroke-width="1.6" stroke-linejoin="miter"/>
<path d="M220.29 888.35L223.59 895.10L216.99 895.10Z" fill="#fff" stroke="#104b85" stroke-width="1.6" stroke-linejoin="miter"/>
<path d="M212.30 888.35L215.60 895.10L209.00 895.10Z" fill="#fff" stroke="#104b85" stroke-width="1.6" stroke-linejoin="miter"/>
<path d="M203.60 888.35L206.90 895.10L200.30 895.10Z" fill="#fff" stroke="#104b85" stroke-width="1.6" stroke-linejoin="miter"/>
<path d="M223.42 888.35L226.72 895.10L220.12 895.10Z" fill="#fff" stroke="#104b85" stroke-width="1.6" stroke-linejoin="miter"/>
<path d="M216.47 888.35L219.77 895.10L213.17 895.10Z" fill="#fff" stroke="#104b85" stroke-width="1.6" stroke-linejoin="miter"/>
<path d="M211.95 888.35L215.25 895.10L208.65 895.10Z" fill="#fff" stroke="#104b85" stroke-width="1.6" stroke-linejoin="miter"/>
<path d="M198.04 888.35L201.34 895.10L194.74 895.10Z" fill="#fff" stroke="#104b85" stroke-width="1.6" stroke-linejoin="miter"/>
<path d="M222.03 888.35L225.33 895.10L218.73 895.10Z" fill="#fff" stroke="#104b85" stroke-width="1.6" stroke-linejoin="miter"/>
<path d="M207.77 888.35L211.07 895.10L204.47 895.10Z" fill="#fff" stroke="#104b85" stroke-width="1.6" stroke-linejoin="miter"/>
<path d="M200.82 888.35L204.12 895.10L197.52 895.10Z" fill="#fff" stroke="#104b85" stroke-width="1.6" stroke-linejoin="miter"/>
<path d="M212.99 888.35L216.29 895.10L209.69 895.10Z" fill="#fff" stroke="#104b85" stroke-width="1.6" stroke-linejoin="miter"/>
<path d="M200.12 888.35L203.42 895.10L196.82 895.10Z" fill="#fff" stroke="#104b85" stroke-width="1.6" stroke-linejoin="miter"/>
<path d="M212.64 888.35L215.94 895.10L209.34 895.10Z" fill="#fff" stroke="#104b85" stroke-width="1.6" stroke-linejoin="miter"/>
<path d="M217.51 888.35L220.81 895.10L214.21 895.10Z" fill="#fff" stroke="#104b85" stroke-width="1.6" stroke-linejoin="miter"/>
<path d="M214.38 888.35L217.68 895.10L211.08 895.10Z" fill="#fff" stroke="#104b85" stroke-width="1.6" stroke-linejoin="miter"/>
<path d="M203.95 888.35L207.25 895.10L200.65 895.10Z" fill="#fff" stroke="#104b85" stroke-width="1.6" stroke-linejoin="miter"/>
<path d="M209.86 888.35L213.16 895.10L206.56 895.10Z" fill="#fff" stroke="#104b85" stroke-width="1.6" stroke-linejoin="miter"/>
<path d="M217.86 888.35L221.16 895.10L214.56 895.10Z" fill="#fff" stroke="#104b85" stroke-width="1.6" stroke-linejoin="miter"/>
<path d="M201.17 888.35L204.47 895.10L197.87 895.10Z" fill="#fff" stroke="#104b85" stroke-width="1.6" stroke-linejoin="miter"/>
<path d="M204.99 888.35L208.29 895.10L201.69 895.10Z" fill="#fff" stroke="#104b85" stroke-width="1.6" stroke-linejoin="miter"/>
<path d="M197.34 888.35L200.64 895.10L194.04 895.10Z" fill="#fff" stroke="#104b85" stroke-width="1.6" stroke-linejoin="miter"/>
<path d="M226.20 888.35L229.50 895.10L222.90 895.10Z" fill="#fff" stroke="#104b85" stroke-width="1.6" stroke-linejoin="miter"/>
<path d="M199.08 888.35L202.38 895.10L195.78 895.10Z" fill="#fff" stroke="#104b85" stroke-width="1.6" stroke-linejoin="miter"/>
<path d="M202.91 888.35L206.21 895.10L199.61 895.10Z" fill="#fff" stroke="#104b85" stroke-width="1.6" stroke-linejoin="miter"/>
<path d="M218.21 888.35L221.51 895.10L214.91 895.10Z" fill="#fff" stroke="#104b85" stroke-width="1.6" stroke-linejoin="miter"/>
<path d="M207.08 888.35L210.38 895.10L203.78 895.10Z" fill="#fff" stroke="#104b85" stroke-width="1.6" stroke-linejoin="miter"/>
<path d="M206.73 888.35L210.03 895.10L203.43 895.10Z" fill="#fff" stroke="#104b85" stroke-width="1.6" stroke-linejoin="miter"/>
<path d="M203.25 888.35L206.55 895.10L199.95 895.10Z" fill="#fff" stroke="#104b85" stroke-width="1.6" stroke-linejoin="miter"/>
<path d="M222.73 888.35L226.03 895.10L219.43 895.10Z" fill="#fff" stroke="#104b85" stroke-width="1.6" stroke-linejoin="miter"/>
<path d="M211.60 888.35L214.90 895.10L208.30 895.10Z" fill="#fff" stroke="#104b85" stroke-width="1.6" stroke-linejoin="miter"/>
<path d="M215.77 888.35L219.07 895.10L212.47 895.10Z" fill="#fff" stroke="#104b85" stroke-width="1.6" stroke-linejoin="miter"/>
<path d="M202.56 888.35L205.86 895.10L199.26 895.10Z" fill="#fff" stroke="#104b85" stroke-width="1.6" stroke-linejoin="miter"/>
<circle cx="274.00" cy="816.22" r="3.05" fill="#fff" stroke="#26ad3a" stroke-width="1.65"/>
<rect x="250.00" y="846.00" width="47.00" height="1.6" fill="#000"/>
<path d="M267.50 843.45L270.80 850.20L264.20 850.20Z" fill="#fff" stroke="#104b85" stroke-width="1.6" stroke-linejoin="miter"/>
<circle cx="280.00" cy="846.80" r="3.05" fill="#fff" stroke="#26ad3a" stroke-width="1.65"/>
<path d="M273.75 874.03L277.05 880.78L270.45 880.78Z" fill="#fff" stroke="#104b85" stroke-width="1.6" stroke-linejoin="miter"/>
<path d="M285.70 888.35L289.00 895.10L282.40 895.10Z" fill="#fff" stroke="#104b85" stroke-width="1.6" stroke-linejoin="miter"/>
<path d="M270.58 888.35L273.88 895.10L267.28 895.10Z" fill="#fff" stroke="#104b85" stroke-width="1.6" stroke-linejoin="miter"/>
<path d="M279.94 888.35L283.24 895.10L276.64 895.10Z" fill="#fff" stroke="#104b85" stroke-width="1.6" stroke-linejoin="miter"/>
<path d="M281.02 888.35L284.32 895.10L277.72 895.10Z" fill="#fff" stroke="#104b85" stroke-width="1.6" stroke-linejoin="miter"/>
<path d="M288.22 888.35L291.52 895.10L284.92 895.10Z" fill="#fff" stroke="#104b85" stroke-width="1.6" stroke-linejoin="miter"/>
<path d="M273.82 888.35L277.12 895.10L270.52 895.10Z" fill="#fff" stroke="#104b85" stroke-width="1.6" stroke-linejoin="miter"/>
<path d="M273.46 888.35L276.76 895.10L270.16 895.10Z" fill="#fff" stroke="#104b85" stroke-width="1.6" stroke-linejoin="miter"/>
<path d="M274.18 888.35L277.48 895.10L270.88 895.10Z" fill="#fff" stroke="#104b85" stroke-width="1.6" stroke-linejoin="miter"/>
<path d="M284.26 888.35L287.56 895.10L280.96 895.10Z" fill="#fff" stroke="#104b85" stroke-width="1.6" stroke-linejoin="miter"/>
<path d="M261.22 888.35L264.52 895.10L257.92 895.10Z" fill="#fff" stroke="#104b85" stroke-width="1.6" stroke-linejoin="miter"/>
<path d="M278.86 888.35L282.16 895.10L275.56 895.10Z" fill="#fff" stroke="#104b85" stroke-width="1.6" stroke-linejoin="miter"/>
<path d="M286.78 888.35L290.08 895.10L283.48 895.10Z" fill="#fff" stroke="#104b85" stroke-width="1.6" stroke-linejoin="miter"/>
<path d="M282.82 888.35L286.12 895.10L279.52 895.10Z" fill="#fff" stroke="#104b85" stroke-width="1.6" stroke-linejoin="miter"/>
<path d="M283.90 888.35L287.20 895.10L280.60 895.10Z" fill="#fff" stroke="#104b85" stroke-width="1.6" stroke-linejoin="miter"/>
<path d="M261.94 888.35L265.24 895.10L258.64 895.10Z" fill="#fff" stroke="#104b85" stroke-width="1.6" stroke-linejoin="miter"/>
<path d="M283.18 888.35L286.48 895.10L279.88 895.10Z" fill="#fff" stroke="#104b85" stroke-width="1.6" stroke-linejoin="miter"/>
<path d="M275.62 888.35L278.92 895.10L272.32 895.10Z" fill="#fff" stroke="#104b85" stroke-width="1.6" stroke-linejoin="miter"/>
<path d="M289.30 888.35L292.60 895.10L286.00 895.10Z" fill="#fff" stroke="#104b85" stroke-width="1.6" stroke-linejoin="miter"/>
<path d="M269.86 888.35L273.16 895.10L266.56 895.10Z" fill="#fff" stroke="#104b85" stroke-width="1.6" stroke-linejoin="miter"/>
<path d="M285.34 888.35L288.64 895.10L282.04 895.10Z" fill="#fff" stroke="#104b85" stroke-width="1.6" stroke-linejoin="miter"/>
<path d="M276.34 888.35L279.64 895.10L273.04 895.10Z" fill="#fff" stroke="#104b85" stroke-width="1.6" stroke-linejoin="miter"/>
<path d="M282.10 888.35L285.40 895.10L278.80 895.10Z" fill="#fff" stroke="#104b85" stroke-width="1.6" stroke-linejoin="miter"/>
<path d="M272.02 888.35L275.32 895.10L268.72 895.10Z" fill="#fff" stroke="#104b85" stroke-width="1.6" stroke-linejoin="miter"/>
<path d="M284.98 888.35L288.28 895.10L281.68 895.10Z" fill="#fff" stroke="#104b85" stroke-width="1.6" stroke-linejoin="miter"/>
<path d="M287.50 888.35L290.80 895.10L284.20 895.10Z" fill="#fff" stroke="#104b85" stroke-width="1.6" stroke-linejoin="miter"/>
<path d="M263.38 888.35L266.68 895.10L260.08 895.10Z" fill="#fff" stroke="#104b85" stroke-width="1.6" stroke-linejoin="miter"/>
<path d="M264.82 888.35L268.12 895.10L261.52 895.10Z" fill="#fff" stroke="#104b85" stroke-width="1.6" stroke-linejoin="miter"/>
<path d="M265.18 888.35L268.48 895.10L261.88 895.10Z" fill="#fff" stroke="#104b85" stroke-width="1.6" stroke-linejoin="miter"/>
<path d="M264.10 888.35L267.40 895.10L260.80 895.10Z" fill="#fff" stroke="#104b85" stroke-width="1.6" stroke-linejoin="miter"/>
<path d="M259.78 888.35L263.08 895.10L256.48 895.10Z" fill="#fff" stroke="#104b85" stroke-width="1.6" stroke-linejoin="miter"/>
<path d="M281.74 888.35L285.04 895.10L278.44 895.10Z" fill="#fff" stroke="#104b85" stroke-width="1.6" stroke-linejoin="miter"/>
<path d="M259.42 888.35L262.72 895.10L256.12 895.10Z" fill="#fff" stroke="#104b85" stroke-width="1.6" stroke-linejoin="miter"/>
<path d="M270.94 888.35L274.24 895.10L267.64 895.10Z" fill="#fff" stroke="#104b85" stroke-width="1.6" stroke-linejoin="miter"/>
<path d="M263.02 888.35L266.32 895.10L259.72 895.10Z" fill="#fff" stroke="#104b85" stroke-width="1.6" stroke-linejoin="miter"/>
<path d="M278.14 888.35L281.44 895.10L274.84 895.10Z" fill="#fff" stroke="#104b85" stroke-width="1.6" stroke-linejoin="miter"/>
<path d="M266.98 888.35L270.28 895.10L263.68 895.10Z" fill="#fff" stroke="#104b85" stroke-width="1.6" stroke-linejoin="miter"/>
<path d="M258.70 888.35L262.00 895.10L255.40 895.10Z" fill="#fff" stroke="#104b85" stroke-width="1.6" stroke-linejoin="miter"/>
<path d="M274.54 888.35L277.84 895.10L271.24 895.10Z" fill="#fff" stroke="#104b85" stroke-width="1.6" stroke-linejoin="miter"/>
<path d="M278.50 888.35L281.80 895.10L275.20 895.10Z" fill="#fff" stroke="#104b85" stroke-width="1.6" stroke-linejoin="miter"/>
<path d="M277.78 888.35L281.08 895.10L274.48 895.10Z" fill="#fff" stroke="#104b85" stroke-width="1.6" stroke-linejoin="miter"/>
<path d="M284.62 888.35L287.92 895.10L281.32 895.10Z" fill="#fff" stroke="#104b85" stroke-width="1.6" stroke-linejoin="miter"/>
<path d="M270.22 888.35L273.52 895.10L266.92 895.10Z" fill="#fff" stroke="#104b85" stroke-width="1.6" stroke-linejoin="miter"/>
<path d="M273.10 888.35L276.40 895.10L269.80 895.10Z" fill="#fff" stroke="#104b85" stroke-width="1.6" stroke-linejoin="miter"/>
<path d="M268.06 888.35L271.36 895.10L264.76 895.10Z" fill="#fff" stroke="#104b85" stroke-width="1.6" stroke-linejoin="miter"/>
<path d="M261.58 888.35L264.88 895.10L258.28 895.10Z" fill="#fff" stroke="#104b85" stroke-width="1.6" stroke-linejoin="miter"/>
<path d="M263.74 888.35L267.04 895.10L260.44 895.10Z" fill="#fff" stroke="#104b85" stroke-width="1.6" stroke-linejoin="miter"/>
<path d="M268.78 888.35L272.08 895.10L265.48 895.10Z" fill="#fff" stroke="#104b85" stroke-width="1.6" stroke-linejoin="miter"/>
<path d="M277.06 888.35L280.36 895.10L273.76 895.10Z" fill="#fff" stroke="#104b85" stroke-width="1.6" stroke-linejoin="miter"/>
<path d="M283.54 888.35L286.84 895.10L280.24 895.10Z" fill="#fff" stroke="#104b85" stroke-width="1.6" stroke-linejoin="miter"/>
<path d="M288.94 888.35L292.24 895.10L285.64 895.10Z" fill="#fff" stroke="#104b85" stroke-width="1.6" stroke-linejoin="miter"/>
<path d="M269.50 888.35L272.80 895.10L266.20 895.10Z" fill="#fff" stroke="#104b85" stroke-width="1.6" stroke-linejoin="miter"/>
<path d="M265.90 888.35L269.20 895.10L262.60 895.10Z" fill="#fff" stroke="#104b85" stroke-width="1.6" stroke-linejoin="miter"/>
<path d="M271.30 888.35L274.60 895.10L268.00 895.10Z" fill="#fff" stroke="#104b85" stroke-width="1.6" stroke-linejoin="miter"/>
<path d="M288.58 888.35L291.88 895.10L285.28 895.10Z" fill="#fff" stroke="#104b85" stroke-width="1.6" stroke-linejoin="miter"/>
<path d="M275.26 888.35L278.56 895.10L271.96 895.10Z" fill="#fff" stroke="#104b85" stroke-width="1.6" stroke-linejoin="miter"/>
<path d="M271.66 888.35L274.96 895.10L268.36 895.10Z" fill="#fff" stroke="#104b85" stroke-width="1.6" stroke-linejoin="miter"/>
<path d="M286.42 888.35L289.72 895.10L283.12 895.10Z" fill="#fff" stroke="#104b85" stroke-width="1.6" stroke-linejoin="miter"/>
<path d="M286.06 888.35L289.36 895.10L282.76 895.10Z" fill="#fff" stroke="#104b85" stroke-width="1.6" stroke-linejoin="miter"/>
<path d="M282.46 888.35L285.76 895.10L279.16 895.10Z" fill="#fff" stroke="#104b85" stroke-width="1.6" stroke-linejoin="miter"/>
<path d="M287.86 888.35L291.16 895.10L284.56 895.10Z" fill="#fff" stroke="#104b85" stroke-width="1.6" stroke-linejoin="miter"/>
<path d="M280.66 888.35L283.96 895.10L277.36 895.10Z" fill="#fff" stroke="#104b85" stroke-width="1.6" stroke-linejoin="miter"/>
<path d="M259.06 888.35L262.36 895.10L255.76 895.10Z" fill="#fff" stroke="#104b85" stroke-width="1.6" stroke-linejoin="miter"/>
<path d="M276.70 888.35L280.00 895.10L273.40 895.10Z" fill="#fff" stroke="#104b85" stroke-width="1.6" stroke-linejoin="miter"/>
<path d="M260.50 888.35L263.80 895.10L257.20 895.10Z" fill="#fff" stroke="#104b85" stroke-width="1.6" stroke-linejoin="miter"/>
<path d="M266.26 888.35L269.56 895.10L262.96 895.10Z" fill="#fff" stroke="#104b85" stroke-width="1.6" stroke-linejoin="miter"/>
<path d="M279.22 888.35L282.52 895.10L275.92 895.10Z" fill="#fff" stroke="#104b85" stroke-width="1.6" stroke-linejoin="miter"/>
<path d="M269.14 888.35L272.44 895.10L265.84 895.10Z" fill="#fff" stroke="#104b85" stroke-width="1.6" stroke-linejoin="miter"/>
<path d="M280.30 888.35L283.60 895.10L277.00 895.10Z" fill="#fff" stroke="#104b85" stroke-width="1.6" stroke-linejoin="miter"/>
<path d="M267.70 888.35L271.00 895.10L264.40 895.10Z" fill="#fff" stroke="#104b85" stroke-width="1.6" stroke-linejoin="miter"/>
<path d="M272.38 888.35L275.68 895.10L269.08 895.10Z" fill="#fff" stroke="#104b85" stroke-width="1.6" stroke-linejoin="miter"/>
<path d="M274.90 888.35L278.20 895.10L271.60 895.10Z" fill="#fff" stroke="#104b85" stroke-width="1.6" stroke-linejoin="miter"/>
<path d="M265.54 888.35L268.84 895.10L262.24 895.10Z" fill="#fff" stroke="#104b85" stroke-width="1.6" stroke-linejoin="miter"/>
<path d="M277.42 888.35L280.72 895.10L274.12 895.10Z" fill="#fff" stroke="#104b85" stroke-width="1.6" stroke-linejoin="miter"/>
<path d="M287.14 888.35L290.44 895.10L283.84 895.10Z" fill="#fff" stroke="#104b85" stroke-width="1.6" stroke-linejoin="miter"/>
<path d="M262.30 888.35L265.60 895.10L259.00 895.10Z" fill="#fff" stroke="#104b85" stroke-width="1.6" stroke-linejoin="miter"/>
<path d="M272.74 888.35L276.04 895.10L269.44 895.10Z" fill="#fff" stroke="#104b85" stroke-width="1.6" stroke-linejoin="miter"/>
<path d="M266.62 888.35L269.92 895.10L263.32 895.10Z" fill="#fff" stroke="#104b85" stroke-width="1.6" stroke-linejoin="miter"/>
<path d="M267.34 888.35L270.64 895.10L264.04 895.10Z" fill="#fff" stroke="#104b85" stroke-width="1.6" stroke-linejoin="miter"/>
<path d="M268.42 888.35L271.72 895.10L265.12 895.10Z" fill="#fff" stroke="#104b85" stroke-width="1.6" stroke-linejoin="miter"/>
<path d="M260.86 888.35L264.16 895.10L257.56 895.10Z" fill="#fff" stroke="#104b85" stroke-width="1.6" stroke-linejoin="miter"/>
<path d="M260.14 888.35L263.44 895.10L256.84 895.10Z" fill="#fff" stroke="#104b85" stroke-width="1.6" stroke-linejoin="miter"/>
<path d="M275.98 888.35L279.28 895.10L272.68 895.10Z" fill="#fff" stroke="#104b85" stroke-width="1.6" stroke-linejoin="miter"/>
<path d="M264.46 888.35L267.76 895.10L261.16 895.10Z" fill="#fff" stroke="#104b85" stroke-width="1.6" stroke-linejoin="miter"/>
<path d="M262.66 888.35L265.96 895.10L259.36 895.10Z" fill="#fff" stroke="#104b85" stroke-width="1.6" stroke-linejoin="miter"/>
<path d="M279.58 888.35L282.88 895.10L276.28 895.10Z" fill="#fff" stroke="#104b85" stroke-width="1.6" stroke-linejoin="miter"/>
<path d="M281.38 888.35L284.68 895.10L278.08 895.10Z" fill="#fff" stroke="#104b85" stroke-width="1.6" stroke-linejoin="miter"/>
<rect x="312.90" y="815.42" width="47.10" height="1.6" fill="#000"/>
<path d="M348.06 888.35L351.36 895.10L344.76 895.10Z" fill="#fff" stroke="#104b85" stroke-width="1.6" stroke-linejoin="miter"/>
<path d="M333.28 888.35L336.58 895.10L329.98 895.10Z" fill="#fff" stroke="#104b85" stroke-width="1.6" stroke-linejoin="miter"/>
<path d="M344.62 888.35L347.92 895.10L341.32 895.10Z" fill="#fff" stroke="#104b85" stroke-width="1.6" stroke-linejoin="miter"/>
<path d="M343.25 888.35L346.55 895.10L339.95 895.10Z" fill="#fff" stroke="#104b85" stroke-width="1.6" stroke-linejoin="miter"/>
<path d="M321.59 888.35L324.89 895.10L318.29 895.10Z" fill="#fff" stroke="#104b85" stroke-width="1.6" stroke-linejoin="miter"/>
<path d="M339.81 888.35L343.11 895.10L336.51 895.10Z" fill="#fff" stroke="#104b85" stroke-width="1.6" stroke-linejoin="miter"/>
<path d="M336.37 888.35L339.67 895.10L333.07 895.10Z" fill="#fff" stroke="#104b85" stroke-width="1.6" stroke-linejoin="miter"/>
<path d="M344.97 888.35L348.27 895.10L341.67 895.10Z" fill="#fff" stroke="#104b85" stroke-width="1.6" stroke-linejoin="miter"/>
<path d="M345.66 888.35L348.96 895.10L342.36 895.10Z" fill="#fff" stroke="#104b85" stroke-width="1.6" stroke-linejoin="miter"/>
<path d="M326.06 888.35L329.36 895.10L322.76 895.10Z" fill="#fff" stroke="#104b85" stroke-width="1.6" stroke-linejoin="miter"/>
<path d="M321.93 888.35L325.23 895.10L318.63 895.10Z" fill="#fff" stroke="#104b85" stroke-width="1.6" stroke-linejoin="miter"/>
<path d="M347.72 888.35L351.02 895.10L344.42 895.10Z" fill="#fff" stroke="#104b85" stroke-width="1.6" stroke-linejoin="miter"/>
<path d="M322.28 888.35L325.58 895.10L318.98 895.10Z" fill="#fff" stroke="#104b85" stroke-width="1.6" stroke-linejoin="miter"/>
<path d="M329.15 888.35L332.45 895.10L325.85 895.10Z" fill="#fff" stroke="#104b85" stroke-width="1.6" stroke-linejoin="miter"/>
<path d="M325.03 888.35L328.33 895.10L321.73 895.10Z" fill="#fff" stroke="#104b85" stroke-width="1.6" stroke-linejoin="miter"/>
<path d="M338.09 888.35L341.39 895.10L334.79 895.10Z" fill="#fff" stroke="#104b85" stroke-width="1.6" stroke-linejoin="miter"/>
<path d="M340.50 888.35L343.80 895.10L337.20 895.10Z" fill="#fff" stroke="#104b85" stroke-width="1.6" stroke-linejoin="miter"/>
<path d="M333.62 888.35L336.92 895.10L330.32 895.10Z" fill="#fff" stroke="#104b85" stroke-width="1.6" stroke-linejoin="miter"/>
<path d="M338.43 888.35L341.73 895.10L335.13 895.10Z" fill="#fff" stroke="#104b85" stroke-width="1.6" stroke-linejoin="miter"/>
<path d="M341.87 888.35L345.17 895.10L338.57 895.10Z" fill="#fff" stroke="#104b85" stroke-width="1.6" stroke-linejoin="miter"/>
<path d="M328.81 888.35L332.11 895.10L325.51 895.10Z" fill="#fff" stroke="#104b85" stroke-width="1.6" stroke-linejoin="miter"/>
<path d="M323.31 888.35L326.61 895.10L320.01 895.10Z" fill="#fff" stroke="#104b85" stroke-width="1.6" stroke-linejoin="miter"/>
<path d="M344.28 888.35L347.58 895.10L340.98 895.10Z" fill="#fff" stroke="#104b85" stroke-width="1.6" stroke-linejoin="miter"/>
<path d="M327.78 888.35L331.08 895.10L324.48 895.10Z" fill="#fff" stroke="#104b85" stroke-width="1.6" stroke-linejoin="miter"/>
<path d="M348.41 888.35L351.71 895.10L345.11 895.10Z" fill="#fff" stroke="#104b85" stroke-width="1.6" stroke-linejoin="miter"/>
<path d="M337.75 888.35L341.05 895.10L334.45 895.10Z" fill="#fff" stroke="#104b85" stroke-width="1.6" stroke-linejoin="miter"/>
<path d="M326.40 888.35L329.70 895.10L323.10 895.10Z" fill="#fff" stroke="#104b85" stroke-width="1.6" stroke-linejoin="miter"/>
<path d="M336.72 888.35L340.02 895.10L333.42 895.10Z" fill="#fff" stroke="#104b85" stroke-width="1.6" stroke-linejoin="miter"/>
<path d="M342.90 888.35L346.20 895.10L339.60 895.10Z" fill="#fff" stroke="#104b85" stroke-width="1.6" stroke-linejoin="miter"/>
<path d="M330.18 888.35L333.48 895.10L326.88 895.10Z" fill="#fff" stroke="#104b85" stroke-width="1.6" stroke-linejoin="miter"/>
<path d="M330.87 888.35L334.17 895.10L327.57 895.10Z" fill="#fff" stroke="#104b85" stroke-width="1.6" stroke-linejoin="miter"/>
<path d="M325.37 888.35L328.67 895.10L322.07 895.10Z" fill="#fff" stroke="#104b85" stroke-width="1.6" stroke-linejoin="miter"/>
<path d="M345.31 888.35L348.61 895.10L342.01 895.10Z" fill="#fff" stroke="#104b85" stroke-width="1.6" stroke-linejoin="miter"/>
<path d="M350.81 888.35L354.11 895.10L347.51 895.10Z" fill="#fff" stroke="#104b85" stroke-width="1.6" stroke-linejoin="miter"/>
<path d="M337.40 888.35L340.70 895.10L334.10 895.10Z" fill="#fff" stroke="#104b85" stroke-width="1.6" stroke-linejoin="miter"/>
<path d="M331.21 888.35L334.51 895.10L327.91 895.10Z" fill="#fff" stroke="#104b85" stroke-width="1.6" stroke-linejoin="miter"/>
<path d="M342.22 888.35L345.52 895.10L338.92 895.10Z" fill="#fff" stroke="#104b85" stroke-width="1.6" stroke-linejoin="miter"/>
<path d="M331.56 888.35L334.86 895.10L328.26 895.10Z" fill="#fff" stroke="#104b85" stroke-width="1.6" stroke-linejoin="miter"/>
<path d="M332.59 888.35L335.89 895.10L329.29 895.10Z" fill="#fff" stroke="#104b85" stroke-width="1.6" stroke-linejoin="miter"/>
<path d="M343.94 888.35L347.24 895.10L340.64 895.10Z" fill="#fff" stroke="#104b85" stroke-width="1.6" stroke-linejoin="miter"/>
<path d="M335.68 888.35L338.98 895.10L332.38 895.10Z" fill="#fff" stroke="#104b85" stroke-width="1.6" stroke-linejoin="miter"/>
<path d="M349.44 888.35L352.74 895.10L346.14 895.10Z" fill="#fff" stroke="#104b85" stroke-width="1.6" stroke-linejoin="miter"/>
<path d="M342.56 888.35L345.86 895.10L339.26 895.10Z" fill="#fff" stroke="#104b85" stroke-width="1.6" stroke-linejoin="miter"/>
<path d="M332.93 888.35L336.23 895.10L329.63 895.10Z" fill="#fff" stroke="#104b85" stroke-width="1.6" stroke-linejoin="miter"/>
<path d="M334.31 888.35L337.61 895.10L331.01 895.10Z" fill="#fff" stroke="#104b85" stroke-width="1.6" stroke-linejoin="miter"/>
<path d="M328.46 888.35L331.76 895.10L325.16 895.10Z" fill="#fff" stroke="#104b85" stroke-width="1.6" stroke-linejoin="miter"/>
<path d="M334.65 888.35L337.95 895.10L331.35 895.10Z" fill="#fff" stroke="#104b85" stroke-width="1.6" stroke-linejoin="miter"/>
<path d="M340.15 888.35L343.45 895.10L336.85 895.10Z" fill="#fff" stroke="#104b85" stroke-width="1.6" stroke-linejoin="miter"/>
<path d="M340.84 888.35L344.14 895.10L337.54 895.10Z" fill="#fff" stroke="#104b85" stroke-width="1.6" stroke-linejoin="miter"/>
<path d="M339.47 888.35L342.77 895.10L336.17 895.10Z" fill="#fff" stroke="#104b85" stroke-width="1.6" stroke-linejoin="miter"/>
<path d="M322.62 888.35L325.92 895.10L319.32 895.10Z" fill="#fff" stroke="#104b85" stroke-width="1.6" stroke-linejoin="miter"/>
<path d="M350.12 888.35L353.42 895.10L346.82 895.10Z" fill="#fff" stroke="#104b85" stroke-width="1.6" stroke-linejoin="miter"/>
<path d="M325.71 888.35L329.01 895.10L322.41 895.10Z" fill="#fff" stroke="#104b85" stroke-width="1.6" stroke-linejoin="miter"/>
<path d="M331.90 888.35L335.20 895.10L328.60 895.10Z" fill="#fff" stroke="#104b85" stroke-width="1.6" stroke-linejoin="miter"/>
<path d="M343.59 888.35L346.89 895.10L340.29 895.10Z" fill="#fff" stroke="#104b85" stroke-width="1.6" stroke-linejoin="miter"/>
<path d="M321.24 888.35L324.54 895.10L317.94 895.10Z" fill="#fff" stroke="#104b85" stroke-width="1.6" stroke-linejoin="miter"/>
<path d="M347.03 888.35L350.33 895.10L343.73 895.10Z" fill="#fff" stroke="#104b85" stroke-width="1.6" stroke-linejoin="miter"/>
<path d="M349.78 888.35L353.08 895.10L346.48 895.10Z" fill="#fff" stroke="#104b85" stroke-width="1.6" stroke-linejoin="miter"/>
<path d="M346.69 888.35L349.99 895.10L343.39 895.10Z" fill="#fff" stroke="#104b85" stroke-width="1.6" stroke-linejoin="miter"/>
<path d="M337.06 888.35L340.36 895.10L333.76 895.10Z" fill="#fff" stroke="#104b85" stroke-width="1.6" stroke-linejoin="miter"/>
<path d="M350.47 888.35L353.77 895.10L347.17 895.10Z" fill="#fff" stroke="#104b85" stroke-width="1.6" stroke-linejoin="miter"/>
<path d="M349.09 888.35L352.39 895.10L345.79 895.10Z" fill="#fff" stroke="#104b85" stroke-width="1.6" stroke-linejoin="miter"/>
<path d="M329.50 888.35L332.80 895.10L326.20 895.10Z" fill="#fff" stroke="#104b85" stroke-width="1.6" stroke-linejoin="miter"/>
<path d="M351.50 888.35L354.80 895.10L348.20 895.10Z" fill="#fff" stroke="#104b85" stroke-width="1.6" stroke-linejoin="miter"/>
<path d="M341.53 888.35L344.83 895.10L338.23 895.10Z" fill="#fff" stroke="#104b85" stroke-width="1.6" stroke-linejoin="miter"/>
<path d="M338.78 888.35L342.08 895.10L335.48 895.10Z" fill="#fff" stroke="#104b85" stroke-width="1.6" stroke-linejoin="miter"/>
<path d="M351.16 888.35L354.46 895.10L347.86 895.10Z" fill="#fff" stroke="#104b85" stroke-width="1.6" stroke-linejoin="miter"/>
<path d="M324.68 888.35L327.98 895.10L321.38 895.10Z" fill="#fff" stroke="#104b85" stroke-width="1.6" stroke-linejoin="miter"/>
<path d="M335.00 888.35L338.30 895.10L331.70 895.10Z" fill="#fff" stroke="#104b85" stroke-width="1.6" stroke-linejoin="miter"/>
<path d="M322.96 888.35L326.26 895.10L319.66 895.10Z" fill="#fff" stroke="#104b85" stroke-width="1.6" stroke-linejoin="miter"/>
<path d="M346.34 888.35L349.64 895.10L343.04 895.10Z" fill="#fff" stroke="#104b85" stroke-width="1.6" stroke-linejoin="miter"/>
<path d="M327.09 888.35L330.39 895.10L323.79 895.10Z" fill="#fff" stroke="#104b85" stroke-width="1.6" stroke-linejoin="miter"/>
<path d="M330.53 888.35L333.83 895.10L327.23 895.10Z" fill="#fff" stroke="#104b85" stroke-width="1.6" stroke-linejoin="miter"/>
<path d="M320.90 888.35L324.20 895.10L317.60 895.10Z" fill="#fff" stroke="#104b85" stroke-width="1.6" stroke-linejoin="miter"/>
<path d="M341.19 888.35L344.49 895.10L337.89 895.10Z" fill="#fff" stroke="#104b85" stroke-width="1.6" stroke-linejoin="miter"/>
<path d="M328.12 888.35L331.42 895.10L324.82 895.10Z" fill="#fff" stroke="#104b85" stroke-width="1.6" stroke-linejoin="miter"/>
<path d="M346.00 888.35L349.30 895.10L342.70 895.10Z" fill="#fff" stroke="#104b85" stroke-width="1.6" stroke-linejoin="miter"/>
<path d="M323.99 888.35L327.29 895.10L320.69 895.10Z" fill="#fff" stroke="#104b85" stroke-width="1.6" stroke-linejoin="miter"/>
<path d="M348.75 888.35L352.05 895.10L345.45 895.10Z" fill="#fff" stroke="#104b85" stroke-width="1.6" stroke-linejoin="miter"/>
<path d="M333.97 888.35L337.27 895.10L330.67 895.10Z" fill="#fff" stroke="#104b85" stroke-width="1.6" stroke-linejoin="miter"/>
<path d="M329.84 888.35L333.14 895.10L326.54 895.10Z" fill="#fff" stroke="#104b85" stroke-width="1.6" stroke-linejoin="miter"/>
<path d="M335.34 888.35L338.64 895.10L332.04 895.10Z" fill="#fff" stroke="#104b85" stroke-width="1.6" stroke-linejoin="miter"/>
<path d="M339.12 888.35L342.42 895.10L335.82 895.10Z" fill="#fff" stroke="#104b85" stroke-width="1.6" stroke-linejoin="miter"/>
<path d="M327.43 888.35L330.73 895.10L324.13 895.10Z" fill="#fff" stroke="#104b85" stroke-width="1.6" stroke-linejoin="miter"/>
<path d="M323.65 888.35L326.95 895.10L320.35 895.10Z" fill="#fff" stroke="#104b85" stroke-width="1.6" stroke-linejoin="miter"/>
<path d="M336.03 888.35L339.33 895.10L332.73 895.10Z" fill="#fff" stroke="#104b85" stroke-width="1.6" stroke-linejoin="miter"/>
<path d="M326.74 888.35L330.04 895.10L323.44 895.10Z" fill="#fff" stroke="#104b85" stroke-width="1.6" stroke-linejoin="miter"/>
<path d="M332.25 888.35L335.55 895.10L328.95 895.10Z" fill="#fff" stroke="#104b85" stroke-width="1.6" stroke-linejoin="miter"/>
<path d="M347.37 888.35L350.67 895.10L344.07 895.10Z" fill="#fff" stroke="#104b85" stroke-width="1.6" stroke-linejoin="miter"/>
<path d="M324.34 888.35L327.64 895.10L321.04 895.10Z" fill="#fff" stroke="#104b85" stroke-width="1.6" stroke-linejoin="miter"/>
<circle cx="398.80" cy="785.64" r="3.05" fill="#fff" stroke="#26ad3a" stroke-width="1.65"/>
<circle cx="398.80" cy="816.22" r="3.05" fill="#fff" stroke="#26ad3a" stroke-width="1.65"/>
<rect x="376.90" y="846.00" width="47.10" height="1.6" fill="#000"/>
<circle cx="383.10" cy="846.80" r="3.05" fill="#fff" stroke="#26ad3a" stroke-width="1.65"/>
<circle cx="398.80" cy="846.80" r="3.05" fill="#fff" stroke="#26ad3a" stroke-width="1.65"/>
<circle cx="413.80" cy="846.80" r="3.05" fill="#fff" stroke="#26ad3a" stroke-width="1.65"/>
<path d="M387.05 874.03L390.35 880.78L383.75 880.78Z" fill="#fff" stroke="#104b85" stroke-width="1.6" stroke-linejoin="miter"/>
<path d="M394.75 874.03L398.05 880.78L391.45 880.78Z" fill="#fff" stroke="#104b85" stroke-width="1.6" stroke-linejoin="miter"/>
<path d="M402.45 874.03L405.75 880.78L399.15 880.78Z" fill="#fff" stroke="#104b85" stroke-width="1.6" stroke-linejoin="miter"/>
<path d="M410.15 874.03L413.45 880.78L406.85 880.78Z" fill="#fff" stroke="#104b85" stroke-width="1.6" stroke-linejoin="miter"/>
<path d="M383.20 874.03L386.50 880.78L379.90 880.78Z" fill="#fff" stroke="#104b85" stroke-width="1.6" stroke-linejoin="miter"/>
<path d="M390.90 874.03L394.20 880.78L387.60 880.78Z" fill="#fff" stroke="#104b85" stroke-width="1.6" stroke-linejoin="miter"/>
<path d="M398.60 874.03L401.90 880.78L395.30 880.78Z" fill="#fff" stroke="#104b85" stroke-width="1.6" stroke-linejoin="miter"/>
<path d="M406.30 874.03L409.60 880.78L403.00 880.78Z" fill="#fff" stroke="#104b85" stroke-width="1.6" stroke-linejoin="miter"/>
<path d="M414.00 874.03L417.30 880.78L410.70 880.78Z" fill="#fff" stroke="#104b85" stroke-width="1.6" stroke-linejoin="miter"/>
<path d="M397.77 888.35L401.07 895.10L394.47 895.10Z" fill="#fff" stroke="#104b85" stroke-width="1.6" stroke-linejoin="miter"/>
<path d="M387.02 888.35L390.32 895.10L383.72 895.10Z" fill="#fff" stroke="#104b85" stroke-width="1.6" stroke-linejoin="miter"/>
<path d="M412.25 888.35L415.55 895.10L408.95 895.10Z" fill="#fff" stroke="#104b85" stroke-width="1.6" stroke-linejoin="miter"/>
<path d="M406.87 888.35L410.17 895.10L403.57 895.10Z" fill="#fff" stroke="#104b85" stroke-width="1.6" stroke-linejoin="miter"/>
<path d="M392.40 888.35L395.70 895.10L389.10 895.10Z" fill="#fff" stroke="#104b85" stroke-width="1.6" stroke-linejoin="miter"/>
<path d="M390.74 888.35L394.04 895.10L387.44 895.10Z" fill="#fff" stroke="#104b85" stroke-width="1.6" stroke-linejoin="miter"/>
<path d="M399.01 888.35L402.31 895.10L395.71 895.10Z" fill="#fff" stroke="#104b85" stroke-width="1.6" stroke-linejoin="miter"/>
<path d="M406.46 888.35L409.76 895.10L403.16 895.10Z" fill="#fff" stroke="#104b85" stroke-width="1.6" stroke-linejoin="miter"/>
<path d="M396.53 888.35L399.83 895.10L393.23 895.10Z" fill="#fff" stroke="#104b85" stroke-width="1.6" stroke-linejoin="miter"/>
<path d="M403.98 888.35L407.28 895.10L400.68 895.10Z" fill="#fff" stroke="#104b85" stroke-width="1.6" stroke-linejoin="miter"/>
<path d="M383.71 888.35L387.01 895.10L380.41 895.10Z" fill="#fff" stroke="#104b85" stroke-width="1.6" stroke-linejoin="miter"/>
<path d="M403.15 888.35L406.45 895.10L399.85 895.10Z" fill="#fff" stroke="#104b85" stroke-width="1.6" stroke-linejoin="miter"/>
<path d="M384.13 888.35L387.43 895.10L380.83 895.10Z" fill="#fff" stroke="#104b85" stroke-width="1.6" stroke-linejoin="miter"/>
<path d="M405.22 888.35L408.52 895.10L401.92 895.10Z" fill="#fff" stroke="#104b85" stroke-width="1.6" stroke-linejoin="miter"/>
<path d="M400.25 888.35L403.55 895.10L396.95 895.10Z" fill="#fff" stroke="#104b85" stroke-width="1.6" stroke-linejoin="miter"/>
<path d="M396.12 888.35L399.42 895.10L392.82 895.10Z" fill="#fff" stroke="#104b85" stroke-width="1.6" stroke-linejoin="miter"/>
<path d="M386.61 888.35L389.91 895.10L383.31 895.10Z" fill="#fff" stroke="#104b85" stroke-width="1.6" stroke-linejoin="miter"/>
<path d="M405.63 888.35L408.93 895.10L402.33 895.10Z" fill="#fff" stroke="#104b85" stroke-width="1.6" stroke-linejoin="miter"/>
<path d="M402.74 888.35L406.04 895.10L399.44 895.10Z" fill="#fff" stroke="#104b85" stroke-width="1.6" stroke-linejoin="miter"/>
<path d="M406.04 888.35L409.34 895.10L402.74 895.10Z" fill="#fff" stroke="#104b85" stroke-width="1.6" stroke-linejoin="miter"/>
<path d="M394.05 888.35L397.35 895.10L390.75 895.10Z" fill="#fff" stroke="#104b85" stroke-width="1.6" stroke-linejoin="miter"/>
<path d="M387.85 888.35L391.15 895.10L384.55 895.10Z" fill="#fff" stroke="#104b85" stroke-width="1.6" stroke-linejoin="miter"/>
<path d="M384.54 888.35L387.84 895.10L381.24 895.10Z" fill="#fff" stroke="#104b85" stroke-width="1.6" stroke-linejoin="miter"/>
<path d="M410.18 888.35L413.48 895.10L406.88 895.10Z" fill="#fff" stroke="#104b85" stroke-width="1.6" stroke-linejoin="miter"/>
<path d="M413.07 888.35L416.37 895.10L409.77 895.10Z" fill="#fff" stroke="#104b85" stroke-width="1.6" stroke-linejoin="miter"/>
<path d="M396.95 888.35L400.25 895.10L393.65 895.10Z" fill="#fff" stroke="#104b85" stroke-width="1.6" stroke-linejoin="miter"/>
<path d="M383.30 888.35L386.60 895.10L380.00 895.10Z" fill="#fff" stroke="#104b85" stroke-width="1.6" stroke-linejoin="miter"/>
<path d="M399.43 888.35L402.73 895.10L396.13 895.10Z" fill="#fff" stroke="#104b85" stroke-width="1.6" stroke-linejoin="miter"/>
<path d="M398.60 888.35L401.90 895.10L395.30 895.10Z" fill="#fff" stroke="#104b85" stroke-width="1.6" stroke-linejoin="miter"/>
<path d="M404.80 888.35L408.10 895.10L401.50 895.10Z" fill="#fff" stroke="#104b85" stroke-width="1.6" stroke-linejoin="miter"/>
<path d="M404.39 888.35L407.69 895.10L401.09 895.10Z" fill="#fff" stroke="#104b85" stroke-width="1.6" stroke-linejoin="miter"/>
<path d="M401.08 888.35L404.38 895.10L397.78 895.10Z" fill="#fff" stroke="#104b85" stroke-width="1.6" stroke-linejoin="miter"/>
<path d="M400.67 888.35L403.97 895.10L397.37 895.10Z" fill="#fff" stroke="#104b85" stroke-width="1.6" stroke-linejoin="miter"/>
<path d="M389.09 888.35L392.39 895.10L385.79 895.10Z" fill="#fff" stroke="#104b85" stroke-width="1.6" stroke-linejoin="miter"/>
<path d="M413.49 888.35L416.79 895.10L410.19 895.10Z" fill="#fff" stroke="#104b85" stroke-width="1.6" stroke-linejoin="miter"/>
<path d="M402.32 888.35L405.62 895.10L399.02 895.10Z" fill="#fff" stroke="#104b85" stroke-width="1.6" stroke-linejoin="miter"/>
<path d="M390.33 888.35L393.63 895.10L387.03 895.10Z" fill="#fff" stroke="#104b85" stroke-width="1.6" stroke-linejoin="miter"/>
<path d="M411.42 888.35L414.72 895.10L408.12 895.10Z" fill="#fff" stroke="#104b85" stroke-width="1.6" stroke-linejoin="miter"/>
<path d="M386.19 888.35L389.49 895.10L382.89 895.10Z" fill="#fff" stroke="#104b85" stroke-width="1.6" stroke-linejoin="miter"/>
<path d="M401.49 888.35L404.79 895.10L398.19 895.10Z" fill="#fff" stroke="#104b85" stroke-width="1.6" stroke-linejoin="miter"/>
<path d="M391.16 888.35L394.46 895.10L387.86 895.10Z" fill="#fff" stroke="#104b85" stroke-width="1.6" stroke-linejoin="miter"/>
<path d="M395.29 888.35L398.59 895.10L391.99 895.10Z" fill="#fff" stroke="#104b85" stroke-width="1.6" stroke-linejoin="miter"/>
<path d="M412.66 888.35L415.96 895.10L409.36 895.10Z" fill="#fff" stroke="#104b85" stroke-width="1.6" stroke-linejoin="miter"/>
<path d="M408.11 888.35L411.41 895.10L404.81 895.10Z" fill="#fff" stroke="#104b85" stroke-width="1.6" stroke-linejoin="miter"/>
<path d="M388.68 888.35L391.98 895.10L385.38 895.10Z" fill="#fff" stroke="#104b85" stroke-width="1.6" stroke-linejoin="miter"/>
<path d="M409.35 888.35L412.65 895.10L406.05 895.10Z" fill="#fff" stroke="#104b85" stroke-width="1.6" stroke-linejoin="miter"/>
<path d="M393.64 888.35L396.94 895.10L390.34 895.10Z" fill="#fff" stroke="#104b85" stroke-width="1.6" stroke-linejoin="miter"/>
<path d="M399.84 888.35L403.14 895.10L396.54 895.10Z" fill="#fff" stroke="#104b85" stroke-width="1.6" stroke-linejoin="miter"/>
<path d="M389.50 888.35L392.80 895.10L386.20 895.10Z" fill="#fff" stroke="#104b85" stroke-width="1.6" stroke-linejoin="miter"/>
<path d="M391.57 888.35L394.87 895.10L388.27 895.10Z" fill="#fff" stroke="#104b85" stroke-width="1.6" stroke-linejoin="miter"/>
<path d="M395.71 888.35L399.01 895.10L392.41 895.10Z" fill="#fff" stroke="#104b85" stroke-width="1.6" stroke-linejoin="miter"/>
<path d="M407.28 888.35L410.58 895.10L403.98 895.10Z" fill="#fff" stroke="#104b85" stroke-width="1.6" stroke-linejoin="miter"/>
<path d="M392.81 888.35L396.11 895.10L389.51 895.10Z" fill="#fff" stroke="#104b85" stroke-width="1.6" stroke-linejoin="miter"/>
<path d="M397.36 888.35L400.66 895.10L394.06 895.10Z" fill="#fff" stroke="#104b85" stroke-width="1.6" stroke-linejoin="miter"/>
<path d="M403.56 888.35L406.86 895.10L400.26 895.10Z" fill="#fff" stroke="#104b85" stroke-width="1.6" stroke-linejoin="miter"/>
<path d="M408.52 888.35L411.82 895.10L405.22 895.10Z" fill="#fff" stroke="#104b85" stroke-width="1.6" stroke-linejoin="miter"/>
<path d="M385.37 888.35L388.67 895.10L382.07 895.10Z" fill="#fff" stroke="#104b85" stroke-width="1.6" stroke-linejoin="miter"/>
<path d="M387.44 888.35L390.74 895.10L384.14 895.10Z" fill="#fff" stroke="#104b85" stroke-width="1.6" stroke-linejoin="miter"/>
<path d="M388.26 888.35L391.56 895.10L384.96 895.10Z" fill="#fff" stroke="#104b85" stroke-width="1.6" stroke-linejoin="miter"/>
<path d="M389.92 888.35L393.22 895.10L386.62 895.10Z" fill="#fff" stroke="#104b85" stroke-width="1.6" stroke-linejoin="miter"/>
<path d="M384.95 888.35L388.25 895.10L381.65 895.10Z" fill="#fff" stroke="#104b85" stroke-width="1.6" stroke-linejoin="miter"/>
<path d="M410.59 888.35L413.89 895.10L407.29 895.10Z" fill="#fff" stroke="#104b85" stroke-width="1.6" stroke-linejoin="miter"/>
<path d="M391.98 888.35L395.28 895.10L388.68 895.10Z" fill="#fff" stroke="#104b85" stroke-width="1.6" stroke-linejoin="miter"/>
<path d="M411.01 888.35L414.31 895.10L407.71 895.10Z" fill="#fff" stroke="#104b85" stroke-width="1.6" stroke-linejoin="miter"/>
<path d="M408.94 888.35L412.24 895.10L405.64 895.10Z" fill="#fff" stroke="#104b85" stroke-width="1.6" stroke-linejoin="miter"/>
<path d="M398.19 888.35L401.49 895.10L394.89 895.10Z" fill="#fff" stroke="#104b85" stroke-width="1.6" stroke-linejoin="miter"/>
<path d="M394.88 888.35L398.18 895.10L391.58 895.10Z" fill="#fff" stroke="#104b85" stroke-width="1.6" stroke-linejoin="miter"/>
<path d="M394.46 888.35L397.76 895.10L391.16 895.10Z" fill="#fff" stroke="#104b85" stroke-width="1.6" stroke-linejoin="miter"/>
<path d="M409.76 888.35L413.06 895.10L406.46 895.10Z" fill="#fff" stroke="#104b85" stroke-width="1.6" stroke-linejoin="miter"/>
<path d="M385.78 888.35L389.08 895.10L382.48 895.10Z" fill="#fff" stroke="#104b85" stroke-width="1.6" stroke-linejoin="miter"/>
<path d="M407.70 888.35L411.00 895.10L404.40 895.10Z" fill="#fff" stroke="#104b85" stroke-width="1.6" stroke-linejoin="miter"/>
<path d="M401.91 888.35L405.21 895.10L398.61 895.10Z" fill="#fff" stroke="#104b85" stroke-width="1.6" stroke-linejoin="miter"/>
<path d="M411.83 888.35L415.13 895.10L408.53 895.10Z" fill="#fff" stroke="#104b85" stroke-width="1.6" stroke-linejoin="miter"/>
<path d="M393.22 888.35L396.52 895.10L389.92 895.10Z" fill="#fff" stroke="#104b85" stroke-width="1.6" stroke-linejoin="miter"/>
<path d="M413.90 888.35L417.20 895.10L410.60 895.10Z" fill="#fff" stroke="#104b85" stroke-width="1.6" stroke-linejoin="miter"/>
<rect x="435.30" y="815.42" width="47.20" height="1.6" fill="#000"/>
<path d="M455.40 812.87L458.70 819.62L452.10 819.62Z" fill="#fff" stroke="#104b85" stroke-width="1.6" stroke-linejoin="miter"/>
<path d="M467.10 812.87L470.40 819.62L463.80 819.62Z" fill="#fff" stroke="#104b85" stroke-width="1.6" stroke-linejoin="miter"/>
<path d="M461.30 843.45L464.60 850.20L458.00 850.20Z" fill="#fff" stroke="#104b85" stroke-width="1.6" stroke-linejoin="miter"/>
<path d="M454.70 874.03L458.00 880.78L451.40 880.78Z" fill="#fff" stroke="#104b85" stroke-width="1.6" stroke-linejoin="miter"/>
<path d="M467.10 874.03L470.40 880.78L463.80 880.78Z" fill="#fff" stroke="#104b85" stroke-width="1.6" stroke-linejoin="miter"/>
<path d="M446.06 888.35L449.36 895.10L442.76 895.10Z" fill="#fff" stroke="#104b85" stroke-width="1.6" stroke-linejoin="miter"/>
<path d="M466.10 888.35L469.40 895.10L462.80 895.10Z" fill="#fff" stroke="#104b85" stroke-width="1.6" stroke-linejoin="miter"/>
<path d="M458.09 888.35L461.39 895.10L454.79 895.10Z" fill="#fff" stroke="#104b85" stroke-width="1.6" stroke-linejoin="miter"/>
<path d="M452.62 888.35L455.92 895.10L449.32 895.10Z" fill="#fff" stroke="#104b85" stroke-width="1.6" stroke-linejoin="miter"/>
<path d="M451.89 888.35L455.19 895.10L448.59 895.10Z" fill="#fff" stroke="#104b85" stroke-width="1.6" stroke-linejoin="miter"/>
<path d="M468.65 888.35L471.95 895.10L465.35 895.10Z" fill="#fff" stroke="#104b85" stroke-width="1.6" stroke-linejoin="miter"/>
<path d="M465.37 888.35L468.67 895.10L462.07 895.10Z" fill="#fff" stroke="#104b85" stroke-width="1.6" stroke-linejoin="miter"/>
<path d="M472.66 888.35L475.96 895.10L469.36 895.10Z" fill="#fff" stroke="#104b85" stroke-width="1.6" stroke-linejoin="miter"/>
<path d="M465.01 888.35L468.31 895.10L461.71 895.10Z" fill="#fff" stroke="#104b85" stroke-width="1.6" stroke-linejoin="miter"/>
<path d="M448.25 888.35L451.55 895.10L444.95 895.10Z" fill="#fff" stroke="#104b85" stroke-width="1.6" stroke-linejoin="miter"/>
<path d="M454.44 888.35L457.74 895.10L451.14 895.10Z" fill="#fff" stroke="#104b85" stroke-width="1.6" stroke-linejoin="miter"/>
<path d="M445.70 888.35L449.00 895.10L442.40 895.10Z" fill="#fff" stroke="#104b85" stroke-width="1.6" stroke-linejoin="miter"/>
<path d="M475.94 888.35L479.24 895.10L472.64 895.10Z" fill="#fff" stroke="#104b85" stroke-width="1.6" stroke-linejoin="miter"/>
<path d="M447.89 888.35L451.19 895.10L444.59 895.10Z" fill="#fff" stroke="#104b85" stroke-width="1.6" stroke-linejoin="miter"/>
<path d="M453.35 888.35L456.65 895.10L450.05 895.10Z" fill="#fff" stroke="#104b85" stroke-width="1.6" stroke-linejoin="miter"/>
<path d="M454.81 888.35L458.11 895.10L451.51 895.10Z" fill="#fff" stroke="#104b85" stroke-width="1.6" stroke-linejoin="miter"/>
<path d="M452.99 888.35L456.29 895.10L449.69 895.10Z" fill="#fff" stroke="#104b85" stroke-width="1.6" stroke-linejoin="miter"/>
<path d="M453.71 888.35L457.01 895.10L450.41 895.10Z" fill="#fff" stroke="#104b85" stroke-width="1.6" stroke-linejoin="miter"/>
<path d="M475.57 888.35L478.87 895.10L472.27 895.10Z" fill="#fff" stroke="#104b85" stroke-width="1.6" stroke-linejoin="miter"/>
<path d="M456.99 888.35L460.29 895.10L453.69 895.10Z" fill="#fff" stroke="#104b85" stroke-width="1.6" stroke-linejoin="miter"/>
<path d="M474.48 888.35L477.78 895.10L471.18 895.10Z" fill="#fff" stroke="#104b85" stroke-width="1.6" stroke-linejoin="miter"/>
<path d="M449.71 888.35L453.01 895.10L446.41 895.10Z" fill="#fff" stroke="#104b85" stroke-width="1.6" stroke-linejoin="miter"/>
<path d="M460.64 888.35L463.94 895.10L457.34 895.10Z" fill="#fff" stroke="#104b85" stroke-width="1.6" stroke-linejoin="miter"/>
<path d="M471.56 888.35L474.86 895.10L468.26 895.10Z" fill="#fff" stroke="#104b85" stroke-width="1.6" stroke-linejoin="miter"/>
<path d="M448.61 888.35L451.91 895.10L445.31 895.10Z" fill="#fff" stroke="#104b85" stroke-width="1.6" stroke-linejoin="miter"/>
<path d="M460.27 888.35L463.57 895.10L456.97 895.10Z" fill="#fff" stroke="#104b85" stroke-width="1.6" stroke-linejoin="miter"/>
<path d="M459.54 888.35L462.84 895.10L456.24 895.10Z" fill="#fff" stroke="#104b85" stroke-width="1.6" stroke-linejoin="miter"/>
<path d="M470.84 888.35L474.14 895.10L467.54 895.10Z" fill="#fff" stroke="#104b85" stroke-width="1.6" stroke-linejoin="miter"/>
<path d="M447.16 888.35L450.46 895.10L443.86 895.10Z" fill="#fff" stroke="#104b85" stroke-width="1.6" stroke-linejoin="miter"/>
<path d="M466.46 888.35L469.76 895.10L463.16 895.10Z" fill="#fff" stroke="#104b85" stroke-width="1.6" stroke-linejoin="miter"/>
<path d="M473.02 888.35L476.32 895.10L469.72 895.10Z" fill="#fff" stroke="#104b85" stroke-width="1.6" stroke-linejoin="miter"/>
<path d="M446.43 888.35L449.73 895.10L443.13 895.10Z" fill="#fff" stroke="#104b85" stroke-width="1.6" stroke-linejoin="miter"/>
<path d="M476.30 888.35L479.60 895.10L473.00 895.10Z" fill="#fff" stroke="#104b85" stroke-width="1.6" stroke-linejoin="miter"/>
<path d="M458.45 888.35L461.75 895.10L455.15 895.10Z" fill="#fff" stroke="#104b85" stroke-width="1.6" stroke-linejoin="miter"/>
<path d="M462.82 888.35L466.12 895.10L459.52 895.10Z" fill="#fff" stroke="#104b85" stroke-width="1.6" stroke-linejoin="miter"/>
<path d="M474.11 888.35L477.41 895.10L470.81 895.10Z" fill="#fff" stroke="#104b85" stroke-width="1.6" stroke-linejoin="miter"/>
<path d="M456.26 888.35L459.56 895.10L452.96 895.10Z" fill="#fff" stroke="#104b85" stroke-width="1.6" stroke-linejoin="miter"/>
<path d="M457.72 888.35L461.02 895.10L454.42 895.10Z" fill="#fff" stroke="#104b85" stroke-width="1.6" stroke-linejoin="miter"/>
<path d="M462.09 888.35L465.39 895.10L458.79 895.10Z" fill="#fff" stroke="#104b85" stroke-width="1.6" stroke-linejoin="miter"/>
<path d="M452.26 888.35L455.56 895.10L448.96 895.10Z" fill="#fff" stroke="#104b85" stroke-width="1.6" stroke-linejoin="miter"/>
<path d="M470.11 888.35L473.41 895.10L466.81 895.10Z" fill="#fff" stroke="#104b85" stroke-width="1.6" stroke-linejoin="miter"/>
<path d="M456.63 888.35L459.93 895.10L453.33 895.10Z" fill="#fff" stroke="#104b85" stroke-width="1.6" stroke-linejoin="miter"/>
<path d="M457.36 888.35L460.66 895.10L454.06 895.10Z" fill="#fff" stroke="#104b85" stroke-width="1.6" stroke-linejoin="miter"/>
<path d="M464.28 888.35L467.58 895.10L460.98 895.10Z" fill="#fff" stroke="#104b85" stroke-width="1.6" stroke-linejoin="miter"/>
<path d="M461.73 888.35L465.03 895.10L458.43 895.10Z" fill="#fff" stroke="#104b85" stroke-width="1.6" stroke-linejoin="miter"/>
<path d="M470.47 888.35L473.77 895.10L467.17 895.10Z" fill="#fff" stroke="#104b85" stroke-width="1.6" stroke-linejoin="miter"/>
<path d="M467.56 888.35L470.86 895.10L464.26 895.10Z" fill="#fff" stroke="#104b85" stroke-width="1.6" stroke-linejoin="miter"/>
<path d="M450.07 888.35L453.37 895.10L446.77 895.10Z" fill="#fff" stroke="#104b85" stroke-width="1.6" stroke-linejoin="miter"/>
<path d="M469.01 888.35L472.31 895.10L465.71 895.10Z" fill="#fff" stroke="#104b85" stroke-width="1.6" stroke-linejoin="miter"/>
<path d="M471.20 888.35L474.50 895.10L467.90 895.10Z" fill="#fff" stroke="#104b85" stroke-width="1.6" stroke-linejoin="miter"/>
<path d="M473.39 888.35L476.69 895.10L470.09 895.10Z" fill="#fff" stroke="#104b85" stroke-width="1.6" stroke-linejoin="miter"/>
<path d="M459.91 888.35L463.21 895.10L456.61 895.10Z" fill="#fff" stroke="#104b85" stroke-width="1.6" stroke-linejoin="miter"/>
<path d="M463.55 888.35L466.85 895.10L460.25 895.10Z" fill="#fff" stroke="#104b85" stroke-width="1.6" stroke-linejoin="miter"/>
<path d="M458.81 888.35L462.11 895.10L455.51 895.10Z" fill="#fff" stroke="#104b85" stroke-width="1.6" stroke-linejoin="miter"/>
<path d="M461.00 888.35L464.30 895.10L457.70 895.10Z" fill="#fff" stroke="#104b85" stroke-width="1.6" stroke-linejoin="miter"/>
<path d="M463.91 888.35L467.21 895.10L460.61 895.10Z" fill="#fff" stroke="#104b85" stroke-width="1.6" stroke-linejoin="miter"/>
<path d="M450.80 888.35L454.10 895.10L447.50 895.10Z" fill="#fff" stroke="#104b85" stroke-width="1.6" stroke-linejoin="miter"/>
<path d="M455.17 888.35L458.47 895.10L451.87 895.10Z" fill="#fff" stroke="#104b85" stroke-width="1.6" stroke-linejoin="miter"/>
<path d="M475.21 888.35L478.51 895.10L471.91 895.10Z" fill="#fff" stroke="#104b85" stroke-width="1.6" stroke-linejoin="miter"/>
<path d="M467.92 888.35L471.22 895.10L464.62 895.10Z" fill="#fff" stroke="#104b85" stroke-width="1.6" stroke-linejoin="miter"/>
<path d="M469.38 888.35L472.68 895.10L466.08 895.10Z" fill="#fff" stroke="#104b85" stroke-width="1.6" stroke-linejoin="miter"/>
<path d="M462.46 888.35L465.76 895.10L459.16 895.10Z" fill="#fff" stroke="#104b85" stroke-width="1.6" stroke-linejoin="miter"/>
<path d="M465.74 888.35L469.04 895.10L462.44 895.10Z" fill="#fff" stroke="#104b85" stroke-width="1.6" stroke-linejoin="miter"/>
<path d="M464.64 888.35L467.94 895.10L461.34 895.10Z" fill="#fff" stroke="#104b85" stroke-width="1.6" stroke-linejoin="miter"/>
<path d="M454.08 888.35L457.38 895.10L450.78 895.10Z" fill="#fff" stroke="#104b85" stroke-width="1.6" stroke-linejoin="miter"/>
<path d="M459.18 888.35L462.48 895.10L455.88 895.10Z" fill="#fff" stroke="#104b85" stroke-width="1.6" stroke-linejoin="miter"/>
<path d="M469.74 888.35L473.04 895.10L466.44 895.10Z" fill="#fff" stroke="#104b85" stroke-width="1.6" stroke-linejoin="miter"/>
<path d="M472.29 888.35L475.59 895.10L468.99 895.10Z" fill="#fff" stroke="#104b85" stroke-width="1.6" stroke-linejoin="miter"/>
<path d="M450.44 888.35L453.74 895.10L447.14 895.10Z" fill="#fff" stroke="#104b85" stroke-width="1.6" stroke-linejoin="miter"/>
<path d="M471.93 888.35L475.23 895.10L468.63 895.10Z" fill="#fff" stroke="#104b85" stroke-width="1.6" stroke-linejoin="miter"/>
<path d="M447.52 888.35L450.82 895.10L444.22 895.10Z" fill="#fff" stroke="#104b85" stroke-width="1.6" stroke-linejoin="miter"/>
<path d="M446.79 888.35L450.09 895.10L443.49 895.10Z" fill="#fff" stroke="#104b85" stroke-width="1.6" stroke-linejoin="miter"/>
<path d="M455.90 888.35L459.20 895.10L452.60 895.10Z" fill="#fff" stroke="#104b85" stroke-width="1.6" stroke-linejoin="miter"/>
<path d="M451.53 888.35L454.83 895.10L448.23 895.10Z" fill="#fff" stroke="#104b85" stroke-width="1.6" stroke-linejoin="miter"/>
<path d="M449.34 888.35L452.64 895.10L446.04 895.10Z" fill="#fff" stroke="#104b85" stroke-width="1.6" stroke-linejoin="miter"/>
<path d="M468.29 888.35L471.59 895.10L464.99 895.10Z" fill="#fff" stroke="#104b85" stroke-width="1.6" stroke-linejoin="miter"/>
<path d="M474.84 888.35L478.14 895.10L471.54 895.10Z" fill="#fff" stroke="#104b85" stroke-width="1.6" stroke-linejoin="miter"/>
<path d="M461.36 888.35L464.66 895.10L458.06 895.10Z" fill="#fff" stroke="#104b85" stroke-width="1.6" stroke-linejoin="miter"/>
<path d="M467.19 888.35L470.49 895.10L463.89 895.10Z" fill="#fff" stroke="#104b85" stroke-width="1.6" stroke-linejoin="miter"/>
<path d="M463.19 888.35L466.49 895.10L459.89 895.10Z" fill="#fff" stroke="#104b85" stroke-width="1.6" stroke-linejoin="miter"/>
<path d="M451.16 888.35L454.46 895.10L447.86 895.10Z" fill="#fff" stroke="#104b85" stroke-width="1.6" stroke-linejoin="miter"/>
<path d="M473.75 888.35L477.05 895.10L470.45 895.10Z" fill="#fff" stroke="#104b85" stroke-width="1.6" stroke-linejoin="miter"/>
<path d="M448.98 888.35L452.28 895.10L445.68 895.10Z" fill="#fff" stroke="#104b85" stroke-width="1.6" stroke-linejoin="miter"/>
<path d="M455.54 888.35L458.84 895.10L452.24 895.10Z" fill="#fff" stroke="#104b85" stroke-width="1.6" stroke-linejoin="miter"/>
<path d="M466.83 888.35L470.13 895.10L463.53 895.10Z" fill="#fff" stroke="#104b85" stroke-width="1.6" stroke-linejoin="miter"/>
<rect x="1" y="1" width="518" height="966.8" fill="none" stroke="#000" stroke-width="2"/>
<rect x="0" y="966.8" width="520" height="2.2" fill="#000"/>
</svg>
</body></html>
